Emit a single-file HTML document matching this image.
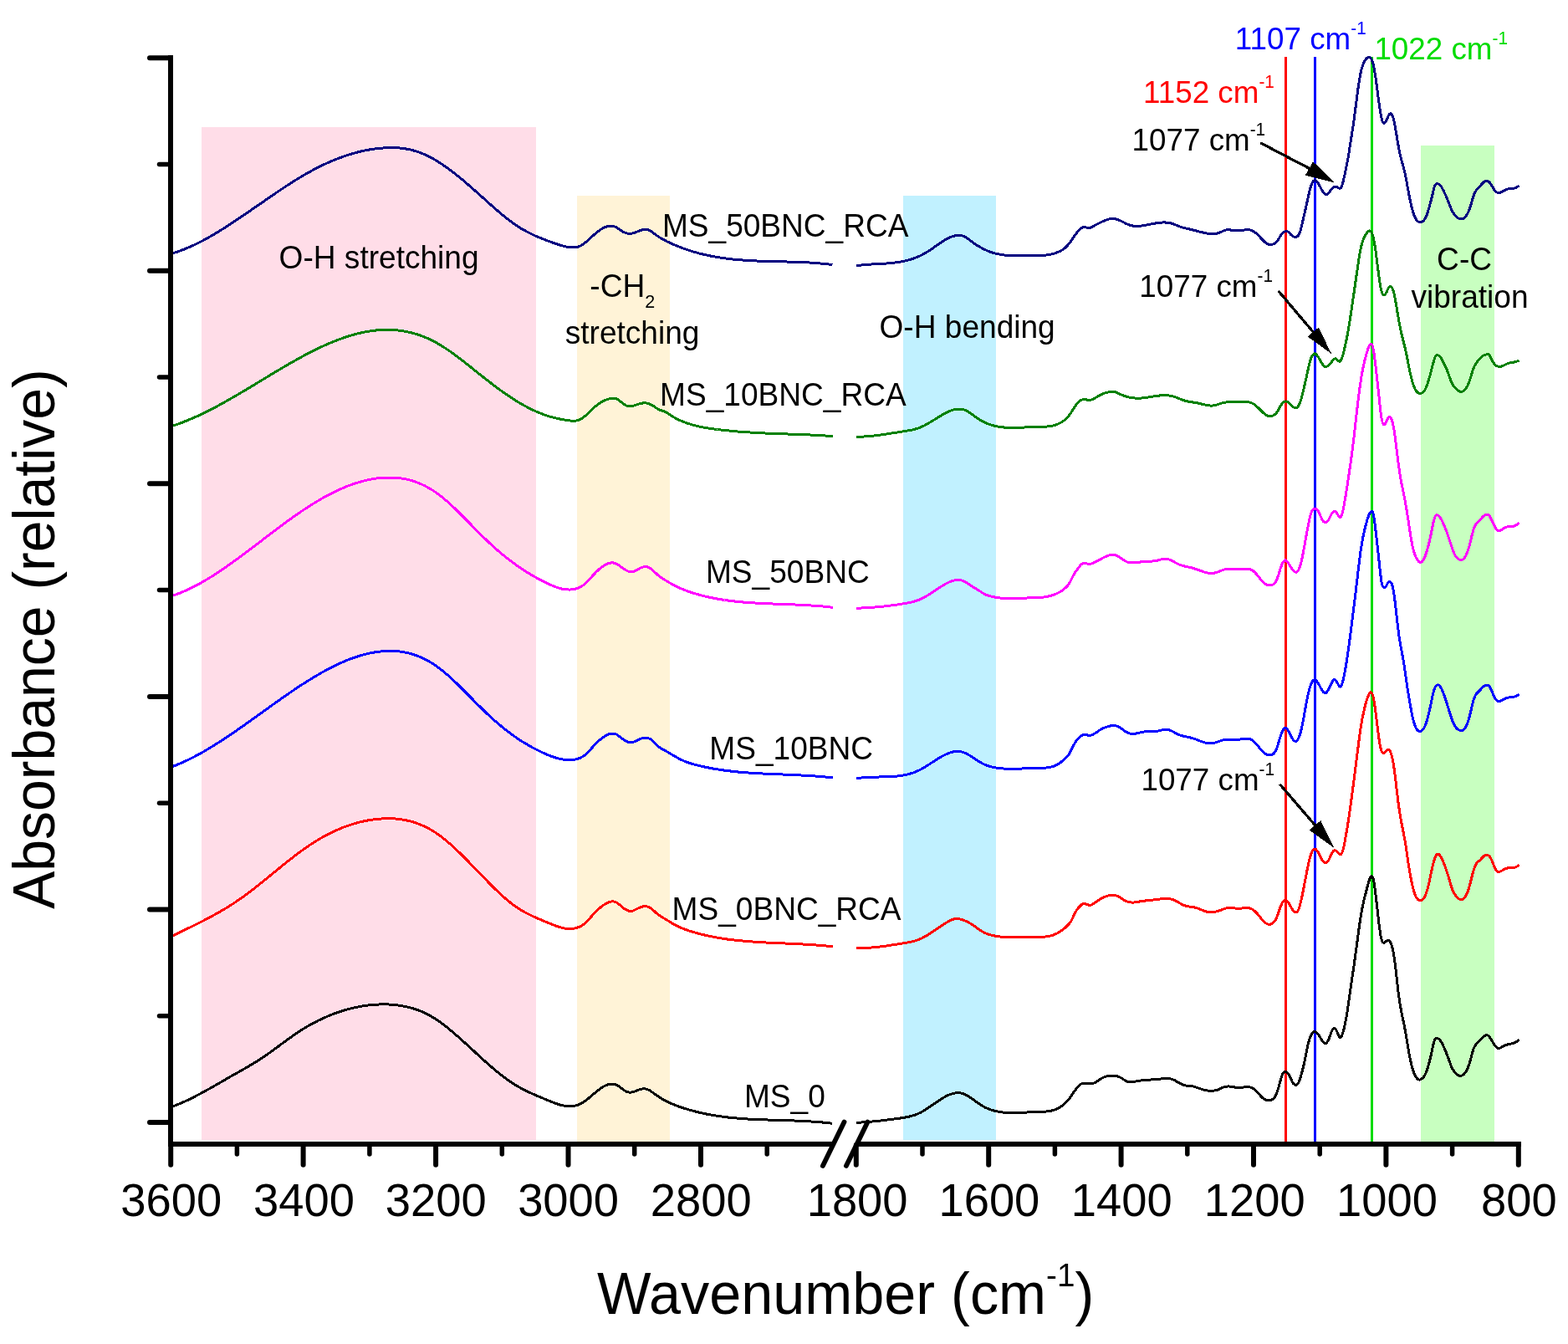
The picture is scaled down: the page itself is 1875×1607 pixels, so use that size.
<!DOCTYPE html>
<html lang="en"><head><meta charset="utf-8"><title>FTIR absorbance spectra</title>
<style>html,body{margin:0;padding:0;background:#fff}svg{display:block}text{font-family:'Liberation Sans', Arial, Helvetica, sans-serif;white-space:pre}</style></head><body>
<svg width="1875" height="1607" viewBox="0 0 1875 1607">
<rect width="1875" height="1607" fill="#ffffff"/>
<g shape-rendering="crispEdges">
<rect x="241" y="152" width="400" height="1211" fill="#ffdde8"/>
<rect x="690" y="234" width="111" height="1131" fill="#fff3d7"/>
<rect x="1080" y="234" width="111" height="1129" fill="#c1f1ff"/>
<rect x="1699" y="174" width="88" height="1191" fill="#c8ffc0"/>
</g>
<g shape-rendering="crispEdges">
<rect x="1536" y="68" width="3" height="1298" fill="#ff0000"/>
<rect x="1571" y="68" width="3" height="1298" fill="#0000ff"/>
<rect x="1639" y="68" width="3" height="1298" fill="#00dc00"/>
</g>
<g fill="none" stroke-width="3" stroke-linejoin="round" stroke-linecap="butt" shape-rendering="crispEdges">
<path stroke="#000000" d="M207.0 1322.9C208.0 1322.5 209.0 1322.1 210.0 1321.7C211.0 1321.3 212.0 1320.9 213.0 1320.5C214.0 1320.1 215.0 1319.7 216.0 1319.2C217.0 1318.8 218.0 1318.4 219.0 1317.9C220.0 1317.5 221.0 1317.0 222.0 1316.5C223.0 1316.1 224.0 1315.6 225.0 1315.1C226.0 1314.6 227.0 1314.1 228.0 1313.6C229.0 1313.2 230.0 1312.7 231.0 1312.1C232.0 1311.6 233.0 1311.1 234.0 1310.6C235.0 1310.1 236.0 1309.6 237.0 1309.0C238.0 1308.5 239.0 1308.0 240.0 1307.4C241.0 1306.9 242.0 1306.4 243.0 1305.8C244.0 1305.3 245.0 1304.7 246.0 1304.2C247.0 1303.6 248.0 1303.1 249.0 1302.5C250.0 1302.0 251.0 1301.4 252.0 1300.8C253.0 1300.3 254.0 1299.7 255.0 1299.1C256.0 1298.6 257.0 1298.0 258.0 1297.4C259.0 1296.9 260.0 1296.3 261.0 1295.7C262.0 1295.1 263.0 1294.6 264.0 1294.0C265.0 1293.4 266.0 1292.8 267.0 1292.3C268.0 1291.7 269.0 1291.1 270.0 1290.5C271.0 1290.0 272.0 1289.4 272.9 1288.8C273.9 1288.3 274.9 1287.7 275.9 1287.1C276.9 1286.6 277.9 1286.0 278.9 1285.4C279.9 1284.9 280.9 1284.3 281.9 1283.7C282.9 1283.2 283.9 1282.6 284.9 1282.0C285.9 1281.5 286.9 1280.9 287.9 1280.4C288.9 1279.8 289.9 1279.2 290.9 1278.6C291.9 1278.1 292.9 1277.5 293.9 1276.9C294.9 1276.4 295.9 1275.8 296.9 1275.2C297.9 1274.6 298.9 1274.0 299.9 1273.4C300.9 1272.8 301.9 1272.2 302.9 1271.6C303.9 1271.0 304.9 1270.4 305.9 1269.8C306.9 1269.2 307.9 1268.5 308.9 1267.9C309.9 1267.3 310.9 1266.6 311.9 1266.0C312.9 1265.3 313.9 1264.6 314.9 1264.0C315.9 1263.3 316.9 1262.6 317.9 1261.9C318.9 1261.2 319.9 1260.5 320.9 1259.8C321.9 1259.1 322.9 1258.4 323.9 1257.7C324.9 1256.9 325.9 1256.2 326.9 1255.5C327.9 1254.8 328.9 1254.0 329.9 1253.3C330.9 1252.5 331.9 1251.8 332.9 1251.1C333.9 1250.3 334.9 1249.6 335.9 1248.8C336.9 1248.1 337.9 1247.3 338.9 1246.6C339.9 1245.9 340.9 1245.1 341.9 1244.4C342.9 1243.7 343.9 1242.9 344.9 1242.2C345.9 1241.5 346.9 1240.8 347.9 1240.1C348.9 1239.4 349.9 1238.7 350.9 1238.0C351.9 1237.3 352.9 1236.6 353.9 1235.9C354.9 1235.2 355.9 1234.6 356.9 1233.9C357.9 1233.3 358.9 1232.6 359.9 1232.0C360.9 1231.3 361.9 1230.7 362.9 1230.1C363.9 1229.5 364.9 1228.9 365.9 1228.3C366.9 1227.7 367.9 1227.1 368.9 1226.5C369.9 1226.0 370.9 1225.4 371.9 1224.9C372.9 1224.3 373.9 1223.8 374.9 1223.2C375.9 1222.7 376.9 1222.2 377.9 1221.7C378.9 1221.1 379.9 1220.6 380.9 1220.1C381.9 1219.7 382.9 1219.2 383.9 1218.7C384.9 1218.2 385.9 1217.8 386.9 1217.3C387.9 1216.8 388.9 1216.4 389.9 1216.0C390.9 1215.5 391.9 1215.1 392.9 1214.7C393.9 1214.3 394.9 1213.9 395.9 1213.5C396.9 1213.1 397.9 1212.7 398.9 1212.3C399.9 1211.9 400.9 1211.6 401.9 1211.2C402.9 1210.8 403.9 1210.5 404.8 1210.2C405.8 1209.8 406.8 1209.5 407.8 1209.2C408.8 1208.8 409.8 1208.5 410.8 1208.2C411.8 1207.9 412.8 1207.6 413.8 1207.4C414.8 1207.1 415.8 1206.8 416.8 1206.5C417.8 1206.3 418.8 1206.0 419.8 1205.8C420.8 1205.5 421.8 1205.3 422.8 1205.1C423.8 1204.8 424.8 1204.6 425.8 1204.4C426.8 1204.2 427.8 1204.0 428.8 1203.8C429.8 1203.6 430.8 1203.4 431.8 1203.2C432.8 1203.1 433.8 1202.9 434.8 1202.8C435.8 1202.6 436.8 1202.5 437.8 1202.3C438.8 1202.2 439.8 1202.1 440.8 1201.9C441.8 1201.8 442.8 1201.7 443.8 1201.6C444.8 1201.5 445.8 1201.4 446.8 1201.4C447.8 1201.3 448.8 1201.2 449.8 1201.2C450.8 1201.1 451.8 1201.1 452.8 1201.0C453.8 1201.0 454.8 1200.9 455.8 1200.9C456.8 1200.9 457.8 1200.9 458.8 1200.9C459.8 1200.9 460.8 1200.9 461.8 1200.9C462.8 1201.0 463.8 1201.0 464.8 1201.0C465.8 1201.1 466.8 1201.1 467.8 1201.2C468.8 1201.3 469.8 1201.3 470.8 1201.4C471.8 1201.5 472.8 1201.6 473.8 1201.7C474.8 1201.8 475.8 1202.0 476.8 1202.1C477.8 1202.2 478.8 1202.4 479.8 1202.5C480.8 1202.7 481.8 1202.9 482.8 1203.1C483.8 1203.3 484.8 1203.5 485.8 1203.7C486.8 1203.9 487.8 1204.1 488.8 1204.4C489.8 1204.6 490.8 1204.9 491.8 1205.2C492.8 1205.5 493.8 1205.8 494.8 1206.1C495.8 1206.4 496.8 1206.7 497.8 1207.1C498.8 1207.4 499.8 1207.8 500.8 1208.2C501.8 1208.6 502.8 1209.0 503.8 1209.4C504.8 1209.8 505.8 1210.2 506.8 1210.7C507.8 1211.2 508.8 1211.6 509.8 1212.1C510.8 1212.6 511.8 1213.2 512.8 1213.7C513.8 1214.2 514.8 1214.8 515.8 1215.4C516.8 1216.0 517.8 1216.6 518.8 1217.2C519.8 1217.8 520.8 1218.4 521.8 1219.1C522.8 1219.8 523.8 1220.4 524.8 1221.1C525.8 1221.8 526.8 1222.5 527.8 1223.3C528.8 1224.0 529.8 1224.7 530.8 1225.5C531.8 1226.2 532.8 1227.0 533.8 1227.8C534.8 1228.6 535.7 1229.4 536.7 1230.2C537.7 1231.0 538.7 1231.8 539.7 1232.7C540.7 1233.5 541.7 1234.3 542.7 1235.2C543.7 1236.0 544.7 1236.9 545.7 1237.8C546.7 1238.6 547.7 1239.5 548.7 1240.4C549.7 1241.3 550.7 1242.2 551.7 1243.1C552.7 1244.0 553.7 1244.9 554.7 1245.8C555.7 1246.7 556.7 1247.6 557.7 1248.5C558.7 1249.4 559.7 1250.4 560.7 1251.3C561.7 1252.2 562.7 1253.1 563.7 1254.0C564.7 1255.0 565.7 1255.9 566.7 1256.8C567.7 1257.7 568.7 1258.6 569.7 1259.6C570.7 1260.5 571.7 1261.4 572.7 1262.3C573.7 1263.2 574.7 1264.2 575.7 1265.1C576.7 1266.0 577.7 1266.9 578.7 1267.8C579.7 1268.7 580.7 1269.6 581.7 1270.5C582.7 1271.3 583.7 1272.2 584.7 1273.1C585.7 1274.0 586.7 1274.9 587.7 1275.7C588.7 1276.6 589.7 1277.4 590.7 1278.3C591.7 1279.1 592.7 1280.0 593.7 1280.8C594.7 1281.6 595.7 1282.4 596.7 1283.2C597.7 1284.0 598.7 1284.8 599.7 1285.6C600.7 1286.4 601.7 1287.2 602.7 1287.9C603.7 1288.7 604.7 1289.4 605.7 1290.1C606.7 1290.9 607.7 1291.6 608.7 1292.3C609.7 1293.0 610.7 1293.7 611.7 1294.3C612.7 1295.0 613.7 1295.6 614.7 1296.3C615.7 1296.9 616.7 1297.5 617.7 1298.1C618.7 1298.7 619.7 1299.3 620.7 1299.9C621.7 1300.4 622.7 1301.0 623.7 1301.5C624.7 1302.1 625.7 1302.6 626.7 1303.1C627.7 1303.6 628.7 1304.1 629.7 1304.6C630.7 1305.1 631.7 1305.6 632.7 1306.0C633.7 1306.5 634.7 1306.9 635.7 1307.4C636.7 1307.8 637.7 1308.3 638.7 1308.7C639.7 1309.2 640.7 1309.6 641.7 1310.0C642.7 1310.5 643.7 1310.9 644.7 1311.3C645.7 1311.7 646.7 1312.1 647.7 1312.5C648.7 1313.0 649.7 1313.4 650.7 1313.8C651.7 1314.2 652.7 1314.6 653.7 1315.0C654.7 1315.4 655.7 1315.8 656.7 1316.3C657.7 1316.7 658.7 1317.1 659.7 1317.5C660.7 1317.9 661.7 1318.3 662.7 1318.7C663.7 1319.0 664.7 1319.4 665.7 1319.7C666.7 1320.1 667.6 1320.4 668.6 1320.7C669.6 1321.0 670.6 1321.3 671.6 1321.5C672.6 1321.8 673.6 1322.0 674.6 1322.2C675.6 1322.4 676.6 1322.5 677.6 1322.6C678.6 1322.7 679.6 1322.8 680.6 1322.8C681.6 1322.8 682.6 1322.8 683.6 1322.7C684.6 1322.7 685.6 1322.5 686.6 1322.4C687.6 1322.2 688.6 1321.9 689.6 1321.6C690.6 1321.3 691.6 1321.0 692.6 1320.5C693.6 1320.1 694.6 1319.6 695.6 1319.1C696.6 1318.5 697.6 1317.9 698.6 1317.2C699.6 1316.5 700.6 1315.7 701.6 1315.0C702.6 1314.2 703.6 1313.4 704.6 1312.5C705.6 1311.7 706.6 1310.9 707.6 1310.0C708.6 1309.1 709.6 1308.3 710.6 1307.4C711.6 1306.6 712.6 1305.7 713.6 1304.9C714.6 1304.1 715.6 1303.3 716.6 1302.6C717.6 1301.8 718.6 1301.1 719.6 1300.5C720.6 1299.8 721.6 1299.2 722.6 1298.7C723.6 1298.2 724.6 1297.7 725.6 1297.4C726.6 1297.0 727.6 1296.7 728.6 1296.5C729.6 1296.3 730.6 1296.2 731.6 1296.1C732.6 1296.1 733.6 1296.2 734.6 1296.4C735.6 1296.6 736.6 1297.0 737.6 1297.5C738.6 1298.0 739.6 1298.6 740.6 1299.4C741.6 1300.1 742.6 1300.9 743.6 1301.6C744.6 1302.4 745.6 1303.2 746.6 1303.8C747.6 1304.5 748.6 1305.0 749.6 1305.4C750.6 1305.8 751.6 1306.0 752.6 1306.1C753.6 1306.2 754.6 1306.1 755.6 1305.9C756.6 1305.8 757.6 1305.4 758.6 1305.1C759.6 1304.7 760.6 1304.3 761.6 1303.9C762.6 1303.5 763.6 1303.1 764.6 1302.8C765.6 1302.5 766.6 1302.3 767.6 1302.1C768.6 1301.9 769.6 1301.8 770.6 1301.9C771.6 1301.9 772.6 1302.1 773.6 1302.4C774.6 1302.7 775.6 1303.2 776.6 1303.7C777.6 1304.3 778.6 1305.0 779.6 1305.7C780.6 1306.4 781.6 1307.2 782.6 1307.9C783.6 1308.6 784.6 1309.3 785.6 1310.0C786.6 1310.7 787.6 1311.4 788.6 1312.1C789.6 1312.7 790.6 1313.3 791.6 1313.9C792.6 1314.5 793.6 1315.0 794.6 1315.6C795.6 1316.1 796.6 1316.6 797.6 1317.1C798.5 1317.6 799.5 1318.0 800.5 1318.5C801.5 1318.9 802.5 1319.4 803.5 1319.8C804.5 1320.2 805.5 1320.6 806.5 1321.0C807.5 1321.4 808.5 1321.8 809.5 1322.2C810.5 1322.6 811.5 1322.9 812.5 1323.3C813.5 1323.6 814.5 1324.0 815.5 1324.3C816.5 1324.6 817.5 1325.0 818.5 1325.3C819.5 1325.6 820.5 1325.9 821.5 1326.2C822.5 1326.5 823.5 1326.8 824.5 1327.1C825.5 1327.4 826.5 1327.7 827.5 1327.9C828.5 1328.2 829.5 1328.5 830.5 1328.8C831.5 1329.0 832.5 1329.3 833.5 1329.5C834.5 1329.8 835.5 1330.0 836.5 1330.2C837.5 1330.5 838.5 1330.7 839.5 1330.9C840.5 1331.1 841.5 1331.4 842.5 1331.6C843.5 1331.8 844.5 1332.0 845.5 1332.2C846.5 1332.4 847.5 1332.6 848.5 1332.7C849.5 1332.9 850.5 1333.1 851.5 1333.3C852.5 1333.5 853.5 1333.6 854.5 1333.8C855.5 1334.0 856.5 1334.1 857.5 1334.3C858.5 1334.4 859.5 1334.6 860.5 1334.7C861.5 1334.9 862.5 1335.0 863.5 1335.1C864.5 1335.3 865.5 1335.4 866.5 1335.5C867.5 1335.6 868.5 1335.8 869.5 1335.9C870.5 1336.0 871.5 1336.1 872.5 1336.2C873.5 1336.3 874.5 1336.4 875.5 1336.5C876.5 1336.6 877.5 1336.7 878.5 1336.8C879.5 1336.9 880.5 1337.0 881.5 1337.1C882.5 1337.2 883.5 1337.3 884.5 1337.3C885.5 1337.4 886.5 1337.5 887.5 1337.6C888.5 1337.6 889.5 1337.7 890.5 1337.8C891.5 1337.8 892.5 1337.9 893.5 1338.0C894.5 1338.0 895.5 1338.1 896.5 1338.1C897.5 1338.2 898.5 1338.3 899.5 1338.3C900.5 1338.4 901.5 1338.4 902.5 1338.5C903.5 1338.5 904.5 1338.6 905.5 1338.6C906.5 1338.6 907.5 1338.7 908.5 1338.7C909.5 1338.8 910.5 1338.8 911.5 1338.8C912.5 1338.9 913.5 1338.9 914.5 1338.9C915.5 1339.0 916.5 1339.0 917.5 1339.0C918.5 1339.1 919.5 1339.1 920.5 1339.1C921.5 1339.2 922.5 1339.2 923.5 1339.2C924.5 1339.3 925.5 1339.3 926.5 1339.3C927.5 1339.4 928.5 1339.4 929.5 1339.4C930.4 1339.4 931.4 1339.5 932.4 1339.5C933.4 1339.5 934.4 1339.6 935.4 1339.6C936.4 1339.6 937.4 1339.6 938.4 1339.7C939.4 1339.7 940.4 1339.7 941.4 1339.8C942.4 1339.8 943.4 1339.8 944.4 1339.8C945.4 1339.9 946.4 1339.9 947.4 1339.9C948.4 1340.0 949.4 1340.0 950.4 1340.0C951.4 1340.1 952.4 1340.1 953.4 1340.2C954.4 1340.2 955.4 1340.2 956.4 1340.3C957.4 1340.3 958.4 1340.4 959.4 1340.4C960.4 1340.5 961.4 1340.5 962.4 1340.6C963.4 1340.6 964.4 1340.7 965.4 1340.7C966.4 1340.8 967.4 1340.8 968.4 1340.9C969.4 1340.9 970.4 1341.0 971.4 1341.1C972.4 1341.1 973.4 1341.2 974.4 1341.3C975.4 1341.3 976.4 1341.4 977.4 1341.5C978.4 1341.5 979.4 1341.6 980.4 1341.7C981.4 1341.8 982.4 1341.9 983.4 1342.0C984.4 1342.0 985.4 1342.1 986.4 1342.2C987.4 1342.3 988.4 1342.4 989.4 1342.5C990.4 1342.6 991.4 1342.7 992.4 1342.9C993.4 1343.0 994.4 1343.1 995.4 1343.2"/>
<path stroke="#000000" d="M1024.1 1342.2C1025.1 1342.2 1026.1 1342.1 1027.1 1342.1C1028.1 1342.1 1029.1 1342.0 1030.1 1342.0C1031.1 1341.9 1032.1 1341.8 1033.1 1341.8C1034.1 1341.7 1035.1 1341.6 1036.1 1341.6C1037.1 1341.5 1038.1 1341.4 1039.1 1341.3C1040.1 1341.3 1041.1 1341.2 1042.1 1341.1C1043.1 1341.0 1044.1 1340.9 1045.1 1340.8C1046.1 1340.7 1047.1 1340.6 1048.1 1340.5C1049.1 1340.4 1050.1 1340.3 1051.1 1340.2C1052.1 1340.1 1053.1 1340.0 1054.1 1339.9C1055.1 1339.7 1056.1 1339.6 1057.1 1339.5C1058.1 1339.4 1059.1 1339.3 1060.1 1339.2C1061.1 1339.0 1062.1 1338.9 1063.1 1338.8C1064.1 1338.6 1065.1 1338.5 1066.1 1338.4C1067.1 1338.3 1068.1 1338.1 1069.1 1338.0C1070.1 1337.9 1071.1 1337.7 1072.1 1337.6C1073.1 1337.5 1074.1 1337.3 1075.1 1337.2C1076.1 1337.1 1077.1 1336.9 1078.1 1336.8C1079.1 1336.6 1080.1 1336.5 1081.1 1336.3C1082.1 1336.1 1083.1 1335.9 1084.1 1335.7C1085.1 1335.5 1086.1 1335.3 1087.1 1335.1C1088.1 1334.9 1089.1 1334.6 1090.1 1334.3C1091.2 1334.0 1092.2 1333.7 1093.2 1333.4C1094.2 1333.1 1095.2 1332.7 1096.2 1332.3C1097.2 1331.9 1098.2 1331.5 1099.2 1331.0C1100.2 1330.5 1101.2 1330.0 1102.2 1329.5C1103.2 1328.9 1104.2 1328.3 1105.2 1327.7C1106.2 1327.1 1107.2 1326.5 1108.2 1325.8C1109.2 1325.2 1110.2 1324.5 1111.2 1323.8C1112.2 1323.2 1113.2 1322.5 1114.2 1321.8C1115.2 1321.1 1116.2 1320.4 1117.2 1319.7C1118.2 1319.0 1119.2 1318.3 1120.2 1317.6C1121.2 1316.9 1122.2 1316.2 1123.2 1315.6C1124.2 1314.9 1125.2 1314.3 1126.2 1313.6C1127.2 1313.0 1128.2 1312.4 1129.2 1311.9C1130.2 1311.3 1131.2 1310.8 1132.2 1310.3C1133.2 1309.8 1134.2 1309.3 1135.2 1308.9C1136.2 1308.5 1137.2 1308.2 1138.2 1307.9C1139.2 1307.6 1140.2 1307.3 1141.2 1307.1C1142.2 1307.0 1143.2 1306.8 1144.2 1306.8C1145.2 1306.7 1146.2 1306.7 1147.2 1306.8C1148.2 1306.9 1149.2 1307.1 1150.2 1307.3C1151.2 1307.6 1152.2 1307.9 1153.2 1308.3C1154.2 1308.7 1155.2 1309.2 1156.2 1309.8C1157.2 1310.3 1158.2 1310.9 1159.2 1311.6C1160.2 1312.2 1161.2 1312.9 1162.2 1313.6C1163.2 1314.3 1164.2 1315.0 1165.2 1315.8C1166.2 1316.5 1167.2 1317.2 1168.2 1318.0C1169.2 1318.7 1170.2 1319.4 1171.2 1320.1C1172.2 1320.8 1173.2 1321.4 1174.2 1322.0C1175.2 1322.6 1176.2 1323.2 1177.2 1323.7C1178.2 1324.2 1179.2 1324.7 1180.2 1325.1C1181.2 1325.6 1182.2 1326.0 1183.2 1326.3C1184.2 1326.7 1185.2 1327.0 1186.2 1327.4C1187.2 1327.7 1188.2 1327.9 1189.2 1328.2C1190.2 1328.4 1191.2 1328.7 1192.2 1328.9C1193.2 1329.1 1194.2 1329.3 1195.2 1329.4C1196.2 1329.6 1197.2 1329.7 1198.2 1329.9C1199.2 1330.0 1200.2 1330.1 1201.2 1330.2C1202.2 1330.3 1203.2 1330.4 1204.2 1330.4C1205.2 1330.5 1206.2 1330.5 1207.2 1330.6C1208.2 1330.6 1209.2 1330.6 1210.2 1330.6C1211.2 1330.7 1212.2 1330.7 1213.2 1330.6C1214.2 1330.6 1215.2 1330.6 1216.2 1330.6C1217.2 1330.6 1218.2 1330.5 1219.2 1330.5C1220.2 1330.5 1221.2 1330.4 1222.2 1330.4C1223.3 1330.3 1224.3 1330.3 1225.3 1330.2C1226.3 1330.1 1227.3 1330.1 1228.3 1330.0C1229.3 1330.0 1230.3 1329.9 1231.3 1329.9C1232.3 1329.8 1233.3 1329.7 1234.3 1329.7C1235.3 1329.6 1236.3 1329.6 1237.3 1329.5C1238.3 1329.5 1239.3 1329.5 1240.3 1329.4C1241.3 1329.4 1242.3 1329.4 1243.3 1329.4C1244.3 1329.3 1245.3 1329.3 1246.3 1329.3C1247.3 1329.2 1248.3 1329.2 1249.3 1329.1C1250.3 1329.1 1251.3 1329.0 1252.3 1328.9C1253.3 1328.8 1254.3 1328.6 1255.3 1328.5C1256.3 1328.3 1257.3 1328.1 1258.3 1327.8C1259.3 1327.6 1260.3 1327.3 1261.3 1326.9C1262.3 1326.6 1263.3 1326.1 1264.3 1325.7C1265.3 1325.2 1266.3 1324.7 1267.3 1324.1C1268.3 1323.4 1269.3 1322.8 1270.3 1322.0C1271.3 1321.2 1272.3 1320.4 1273.3 1319.5C1274.3 1318.5 1275.3 1317.5 1276.3 1316.4C1277.3 1315.2 1278.3 1314.0 1279.3 1312.7C1280.3 1311.3 1281.3 1309.9 1282.3 1308.4C1283.3 1307.0 1284.3 1305.5 1285.3 1304.1C1286.3 1302.7 1287.3 1301.3 1288.3 1300.1C1289.3 1298.9 1290.3 1297.9 1291.3 1297.1C1292.3 1296.3 1293.3 1295.8 1294.3 1295.7C1295.3 1295.5 1296.3 1295.6 1297.3 1295.6C1298.3 1295.7 1299.3 1295.8 1300.3 1295.9C1301.3 1296.0 1302.3 1296.0 1303.3 1296.0C1304.3 1296.0 1305.3 1295.9 1306.3 1295.6C1307.3 1295.4 1308.3 1295.0 1309.3 1294.5C1310.3 1294.0 1311.3 1293.3 1312.3 1292.6C1313.3 1291.9 1314.3 1291.2 1315.3 1290.6C1316.3 1289.9 1317.3 1289.4 1318.3 1288.9C1319.3 1288.4 1320.3 1287.9 1321.3 1287.6C1322.3 1287.2 1323.3 1286.9 1324.3 1286.6C1325.3 1286.4 1326.3 1286.2 1327.3 1286.1C1328.3 1286.0 1329.3 1286.0 1330.3 1286.0C1331.3 1286.0 1332.3 1286.1 1333.3 1286.2C1334.3 1286.4 1335.3 1286.6 1336.3 1286.9C1337.3 1287.2 1338.3 1287.6 1339.3 1288.1C1340.3 1288.6 1341.3 1289.1 1342.3 1289.8C1343.3 1290.5 1344.3 1291.2 1345.3 1291.9C1346.3 1292.6 1347.3 1293.1 1348.3 1293.5C1349.3 1293.9 1350.3 1294.0 1351.3 1294.0C1352.3 1294.0 1353.3 1293.9 1354.3 1293.7C1355.4 1293.5 1356.4 1293.3 1357.4 1293.1C1358.4 1292.9 1359.4 1292.7 1360.4 1292.5C1361.4 1292.4 1362.4 1292.2 1363.4 1292.1C1364.4 1292.0 1365.4 1291.8 1366.4 1291.7C1367.4 1291.7 1368.4 1291.6 1369.4 1291.5C1370.4 1291.4 1371.4 1291.3 1372.4 1291.3C1373.4 1291.2 1374.4 1291.1 1375.4 1291.1C1376.4 1291.0 1377.4 1290.9 1378.4 1290.9C1379.4 1290.8 1380.4 1290.7 1381.4 1290.7C1382.4 1290.6 1383.4 1290.5 1384.4 1290.4C1385.4 1290.3 1386.4 1290.2 1387.4 1290.1C1388.4 1290.0 1389.4 1289.8 1390.4 1289.7C1391.4 1289.6 1392.4 1289.5 1393.4 1289.5C1394.4 1289.4 1395.4 1289.4 1396.4 1289.4C1397.4 1289.5 1398.4 1289.6 1399.4 1289.8C1400.4 1290.0 1401.4 1290.3 1402.4 1290.7C1403.4 1291.1 1404.4 1291.6 1405.4 1292.1C1406.4 1292.7 1407.4 1293.3 1408.4 1293.9C1409.4 1294.5 1410.4 1295.1 1411.4 1295.6C1412.4 1296.2 1413.4 1296.7 1414.4 1297.0C1415.4 1297.4 1416.4 1297.7 1417.4 1297.9C1418.4 1298.1 1419.4 1298.1 1420.4 1298.2C1421.4 1298.2 1422.4 1298.3 1423.4 1298.4C1424.4 1298.5 1425.4 1298.6 1426.4 1298.8C1427.4 1299.1 1428.4 1299.4 1429.4 1299.7C1430.4 1300.1 1431.4 1300.5 1432.4 1300.8C1433.4 1301.2 1434.4 1301.6 1435.4 1301.9C1436.4 1302.2 1437.4 1302.5 1438.4 1302.8C1439.4 1303.1 1440.4 1303.3 1441.4 1303.6C1442.4 1303.8 1443.4 1303.9 1444.4 1304.1C1445.4 1304.2 1446.4 1304.3 1447.4 1304.3C1448.4 1304.4 1449.4 1304.3 1450.4 1304.3C1451.4 1304.2 1452.4 1304.0 1453.4 1303.8C1454.4 1303.6 1455.4 1303.3 1456.4 1303.0C1457.4 1302.6 1458.4 1302.2 1459.4 1301.7C1460.4 1301.2 1461.4 1300.7 1462.4 1300.3C1463.4 1299.9 1464.4 1299.6 1465.4 1299.3C1466.4 1299.1 1467.4 1299.0 1468.4 1299.0C1469.4 1298.9 1470.4 1299.0 1471.4 1299.1C1472.4 1299.2 1473.4 1299.4 1474.4 1299.6C1475.4 1299.8 1476.4 1300.0 1477.4 1300.2C1478.4 1300.4 1479.4 1300.5 1480.4 1300.6C1481.4 1300.7 1482.4 1300.7 1483.4 1300.6C1484.4 1300.5 1485.4 1300.3 1486.5 1300.1C1487.5 1299.9 1488.5 1299.6 1489.5 1299.5C1490.5 1299.4 1491.5 1299.3 1492.5 1299.4C1493.5 1299.5 1494.5 1299.7 1495.5 1300.1C1496.5 1300.5 1497.5 1301.0 1498.5 1301.6C1499.5 1302.3 1500.5 1303.0 1501.5 1304.0C1502.5 1304.9 1503.5 1306.0 1504.5 1307.1C1505.5 1308.2 1506.5 1309.4 1507.5 1310.4C1508.5 1311.5 1509.5 1312.5 1510.5 1313.3C1511.5 1314.1 1512.5 1314.6 1513.5 1315.0C1514.5 1315.3 1515.5 1315.4 1516.5 1315.5C1517.5 1315.5 1518.5 1315.5 1519.5 1315.3C1520.5 1315.1 1521.5 1314.7 1522.5 1313.8C1523.5 1312.9 1524.5 1311.6 1525.5 1309.7C1526.5 1307.7 1527.5 1305.0 1528.5 1301.7C1529.5 1298.5 1530.5 1294.5 1531.5 1290.8C1532.5 1287.1 1533.5 1284.2 1534.5 1282.8C1535.5 1281.4 1536.5 1281.2 1537.5 1281.4C1538.5 1281.6 1539.5 1282.3 1540.5 1283.7C1541.5 1285.1 1542.5 1287.4 1543.5 1289.6C1544.5 1291.9 1545.5 1294.1 1546.5 1295.4C1547.5 1296.6 1548.5 1297.2 1549.5 1297.4C1550.5 1297.5 1551.5 1297.0 1552.5 1295.2C1553.5 1293.5 1554.5 1290.3 1555.5 1286.9C1556.5 1283.5 1557.5 1279.8 1558.5 1275.6C1559.5 1271.4 1560.5 1266.5 1561.5 1261.5C1562.5 1256.4 1563.5 1251.3 1564.5 1247.2C1565.5 1243.2 1566.5 1240.2 1567.5 1238.1C1568.5 1235.9 1569.5 1234.7 1570.5 1234.0C1571.5 1233.4 1572.5 1233.5 1573.5 1234.0C1574.5 1234.6 1575.5 1235.6 1576.5 1237.0C1577.5 1238.4 1578.5 1240.2 1579.5 1241.9C1580.5 1243.6 1581.5 1245.2 1582.5 1246.3C1583.5 1247.4 1584.5 1247.9 1585.5 1247.5C1586.5 1247.1 1587.5 1245.8 1588.5 1243.6C1589.5 1241.5 1590.5 1238.3 1591.5 1235.5C1592.5 1232.7 1593.5 1230.5 1594.5 1229.7C1595.5 1228.9 1596.5 1229.5 1597.5 1231.1C1598.5 1232.7 1599.5 1235.3 1600.5 1237.5C1601.5 1239.8 1602.5 1241.3 1603.5 1240.2C1604.5 1239.1 1605.5 1236.1 1606.5 1232.5C1607.5 1228.8 1608.5 1224.2 1609.5 1218.7C1610.5 1213.2 1611.5 1206.8 1612.5 1200.0C1613.5 1193.2 1614.5 1186.0 1615.5 1178.9C1616.5 1171.7 1617.5 1164.8 1618.6 1157.7C1619.6 1150.6 1620.6 1143.4 1621.6 1136.0C1622.6 1128.6 1623.6 1121.0 1624.6 1113.6C1625.6 1106.2 1626.6 1099.2 1627.6 1093.2C1628.6 1087.3 1629.6 1082.4 1630.6 1078.0C1631.6 1073.7 1632.6 1069.8 1633.6 1066.1C1634.6 1062.3 1635.6 1058.3 1636.6 1054.9C1637.6 1051.4 1638.6 1048.7 1639.6 1047.8C1640.6 1047.0 1641.6 1048.1 1642.6 1052.8C1643.6 1057.5 1644.6 1066.1 1645.6 1074.8C1646.6 1083.4 1647.6 1092.6 1648.6 1101.3C1649.6 1109.9 1650.6 1117.3 1651.6 1121.6C1652.6 1125.8 1653.6 1127.3 1654.6 1127.4C1655.6 1127.5 1656.6 1126.4 1657.6 1125.5C1658.6 1124.6 1659.6 1124.0 1660.6 1124.3C1661.6 1124.6 1662.6 1125.8 1663.6 1128.6C1664.6 1131.4 1665.6 1135.7 1666.6 1141.6C1667.6 1147.4 1668.6 1155.0 1669.6 1164.0C1670.6 1173.0 1671.6 1183.0 1672.6 1190.5C1673.6 1198.0 1674.6 1203.8 1675.6 1208.8C1676.6 1213.9 1677.6 1218.3 1678.6 1223.2C1679.6 1228.0 1680.6 1233.4 1681.6 1239.5C1682.6 1245.6 1683.6 1252.1 1684.6 1257.6C1685.6 1263.1 1686.6 1268.0 1687.6 1272.2C1688.6 1276.4 1689.6 1279.8 1690.6 1282.4C1691.6 1285.1 1692.6 1287.1 1693.6 1288.5C1694.6 1289.9 1695.6 1290.7 1696.6 1290.9C1697.6 1291.2 1698.6 1291.0 1699.6 1290.3C1700.6 1289.7 1701.6 1288.8 1702.6 1287.4C1703.6 1286.1 1704.6 1284.2 1705.6 1281.5C1706.6 1278.9 1707.6 1275.7 1708.6 1272.0C1709.6 1268.3 1710.6 1264.3 1711.6 1259.9C1712.6 1255.6 1713.6 1249.9 1714.6 1246.3C1715.6 1242.6 1716.6 1241.7 1717.6 1241.5C1718.6 1241.3 1719.6 1241.6 1720.6 1242.3C1721.6 1243.1 1722.6 1244.4 1723.6 1246.1C1724.6 1247.8 1725.6 1249.9 1726.6 1252.1C1727.6 1254.3 1728.6 1256.6 1729.6 1259.2C1730.6 1261.7 1731.6 1264.3 1732.6 1267.1C1733.6 1269.9 1734.6 1273.0 1735.6 1275.4C1736.6 1277.8 1737.6 1279.5 1738.6 1280.8C1739.6 1282.1 1740.6 1283.2 1741.6 1284.1C1742.6 1285.0 1743.6 1285.7 1744.6 1286.0C1745.6 1286.4 1746.6 1286.5 1747.6 1286.2C1748.6 1285.9 1749.6 1285.3 1750.7 1284.3C1751.7 1283.3 1752.7 1281.9 1753.7 1280.0C1754.7 1278.1 1755.7 1275.8 1756.7 1272.9C1757.7 1269.9 1758.7 1266.3 1759.7 1262.3C1760.7 1258.4 1761.7 1254.7 1762.7 1252.5C1763.7 1250.3 1764.7 1249.0 1765.7 1247.8C1766.7 1246.5 1767.7 1245.5 1768.7 1244.6C1769.7 1243.6 1770.7 1242.8 1771.7 1241.9C1772.7 1241.1 1773.7 1240.1 1774.7 1239.2C1775.7 1238.3 1776.7 1237.6 1777.7 1237.6C1778.7 1237.6 1779.7 1238.3 1780.7 1239.5C1781.7 1240.7 1782.7 1242.2 1783.7 1243.9C1784.7 1245.5 1785.7 1247.3 1786.7 1248.8C1787.7 1250.4 1788.7 1251.7 1789.7 1252.5C1790.7 1253.4 1791.7 1253.6 1792.7 1253.4C1793.7 1253.3 1794.7 1252.7 1795.7 1252.1C1796.7 1251.5 1797.7 1250.8 1798.7 1250.3C1799.7 1249.8 1800.7 1249.5 1801.7 1249.2C1802.7 1248.9 1803.7 1248.7 1804.7 1248.5C1805.7 1248.3 1806.7 1248.2 1807.7 1247.9C1808.7 1247.7 1809.7 1247.4 1810.7 1247.0C1811.7 1246.6 1812.7 1246.1 1813.7 1245.5C1814.7 1244.8 1815.7 1243.9 1816.7 1242.8"/>
<path stroke="#ff0000" d="M205.3 1119.7C206.3 1119.2 207.3 1118.7 208.3 1118.2C209.3 1117.7 210.3 1117.2 211.3 1116.7C212.3 1116.2 213.3 1115.7 214.3 1115.2C215.3 1114.7 216.3 1114.2 217.3 1113.7C218.3 1113.2 219.3 1112.7 220.3 1112.2C221.3 1111.7 222.3 1111.2 223.3 1110.7C224.3 1110.3 225.3 1109.8 226.3 1109.3C227.3 1108.8 228.3 1108.3 229.3 1107.8C230.3 1107.3 231.3 1106.8 232.3 1106.3C233.3 1105.8 234.4 1105.3 235.4 1104.8C236.4 1104.3 237.4 1103.8 238.4 1103.3C239.4 1102.8 240.4 1102.3 241.4 1101.8C242.4 1101.3 243.4 1100.8 244.4 1100.2C245.4 1099.7 246.4 1099.2 247.4 1098.7C248.4 1098.2 249.4 1097.6 250.4 1097.1C251.4 1096.6 252.4 1096.0 253.4 1095.5C254.4 1094.9 255.4 1094.4 256.4 1093.8C257.4 1093.3 258.4 1092.7 259.4 1092.2C260.4 1091.6 261.4 1091.0 262.4 1090.5C263.4 1089.9 264.4 1089.3 265.4 1088.7C266.4 1088.1 267.4 1087.6 268.4 1087.0C269.4 1086.4 270.4 1085.8 271.4 1085.1C272.4 1084.5 273.4 1083.9 274.4 1083.3C275.4 1082.6 276.4 1082.0 277.4 1081.4C278.4 1080.7 279.4 1080.1 280.4 1079.4C281.4 1078.7 282.4 1078.1 283.4 1077.4C284.4 1076.7 285.4 1076.0 286.4 1075.3C287.4 1074.6 288.4 1073.9 289.4 1073.2C290.5 1072.5 291.5 1071.8 292.5 1071.0C293.5 1070.3 294.5 1069.6 295.5 1068.8C296.5 1068.1 297.5 1067.3 298.5 1066.5C299.5 1065.8 300.5 1065.0 301.5 1064.2C302.5 1063.5 303.5 1062.7 304.5 1061.9C305.5 1061.1 306.5 1060.3 307.5 1059.5C308.5 1058.7 309.5 1057.9 310.5 1057.1C311.5 1056.3 312.5 1055.5 313.5 1054.7C314.5 1053.9 315.5 1053.1 316.5 1052.3C317.5 1051.5 318.5 1050.7 319.5 1049.9C320.5 1049.0 321.5 1048.2 322.5 1047.4C323.5 1046.6 324.5 1045.8 325.5 1044.9C326.5 1044.1 327.5 1043.3 328.5 1042.5C329.5 1041.7 330.5 1040.8 331.5 1040.0C332.5 1039.2 333.5 1038.4 334.5 1037.6C335.5 1036.8 336.5 1036.0 337.5 1035.1C338.5 1034.3 339.5 1033.5 340.5 1032.7C341.5 1031.9 342.5 1031.1 343.5 1030.3C344.5 1029.5 345.5 1028.7 346.6 1028.0C347.6 1027.2 348.6 1026.4 349.6 1025.6C350.6 1024.8 351.6 1024.1 352.6 1023.3C353.6 1022.5 354.6 1021.8 355.6 1021.0C356.6 1020.3 357.6 1019.5 358.6 1018.8C359.6 1018.0 360.6 1017.3 361.6 1016.6C362.6 1015.9 363.6 1015.1 364.6 1014.4C365.6 1013.7 366.6 1013.0 367.6 1012.4C368.6 1011.7 369.6 1011.0 370.6 1010.3C371.6 1009.7 372.6 1009.0 373.6 1008.4C374.6 1007.7 375.6 1007.1 376.6 1006.4C377.6 1005.8 378.6 1005.2 379.6 1004.6C380.6 1004.0 381.6 1003.4 382.6 1002.8C383.6 1002.2 384.6 1001.7 385.6 1001.1C386.6 1000.5 387.6 1000.0 388.6 999.4C389.6 998.9 390.6 998.4 391.6 997.9C392.6 997.3 393.6 996.8 394.6 996.3C395.6 995.8 396.6 995.3 397.6 994.9C398.6 994.4 399.6 993.9 400.6 993.4C401.6 993.0 402.6 992.5 403.7 992.1C404.7 991.7 405.7 991.2 406.7 990.8C407.7 990.4 408.7 990.0 409.7 989.6C410.7 989.2 411.7 988.8 412.7 988.5C413.7 988.1 414.7 987.7 415.7 987.4C416.7 987.0 417.7 986.7 418.7 986.4C419.7 986.0 420.7 985.7 421.7 985.4C422.7 985.1 423.7 984.8 424.7 984.5C425.7 984.2 426.7 983.9 427.7 983.7C428.7 983.4 429.7 983.1 430.7 982.9C431.7 982.6 432.7 982.4 433.7 982.2C434.7 982.0 435.7 981.8 436.7 981.6C437.7 981.3 438.7 981.2 439.7 981.0C440.7 980.8 441.7 980.6 442.7 980.5C443.7 980.3 444.7 980.2 445.7 980.0C446.7 979.9 447.7 979.8 448.7 979.6C449.7 979.5 450.7 979.4 451.7 979.3C452.7 979.2 453.7 979.1 454.7 979.1C455.7 979.0 456.7 978.9 457.7 978.9C458.7 978.8 459.8 978.8 460.8 978.8C461.8 978.7 462.8 978.7 463.8 978.7C464.8 978.7 465.8 978.7 466.8 978.7C467.8 978.8 468.8 978.8 469.8 978.8C470.8 978.9 471.8 979.0 472.8 979.0C473.8 979.1 474.8 979.2 475.8 979.3C476.8 979.4 477.8 979.5 478.8 979.7C479.8 979.8 480.8 979.9 481.8 980.1C482.8 980.3 483.8 980.4 484.8 980.6C485.8 980.8 486.8 981.0 487.8 981.3C488.8 981.5 489.8 981.7 490.8 982.0C491.8 982.3 492.8 982.6 493.8 982.8C494.8 983.1 495.8 983.5 496.8 983.8C497.8 984.1 498.8 984.5 499.8 984.9C500.8 985.2 501.8 985.6 502.8 986.0C503.8 986.4 504.8 986.9 505.8 987.3C506.8 987.8 507.8 988.2 508.8 988.7C509.8 989.2 510.8 989.7 511.8 990.3C512.8 990.8 513.8 991.3 514.8 991.9C515.9 992.5 516.9 993.1 517.9 993.7C518.9 994.3 519.9 995.0 520.9 995.6C521.9 996.3 522.9 997.0 523.9 997.7C524.9 998.4 525.9 999.1 526.9 999.9C527.9 1000.6 528.9 1001.4 529.9 1002.2C530.9 1003.0 531.9 1003.8 532.9 1004.6C533.9 1005.4 534.9 1006.3 535.9 1007.1C536.9 1008.0 537.9 1008.9 538.9 1009.7C539.9 1010.6 540.9 1011.5 541.9 1012.4C542.9 1013.4 543.9 1014.3 544.9 1015.2C545.9 1016.2 546.9 1017.1 547.9 1018.1C548.9 1019.0 549.9 1020.0 550.9 1021.0C551.9 1022.0 552.9 1023.0 553.9 1024.0C554.9 1024.9 555.9 1026.0 556.9 1027.0C557.9 1028.0 558.9 1029.0 559.9 1030.0C560.9 1031.0 561.9 1032.1 562.9 1033.1C563.9 1034.1 564.9 1035.2 565.9 1036.2C566.9 1037.2 567.9 1038.3 568.9 1039.3C569.9 1040.4 570.9 1041.4 571.9 1042.5C573.0 1043.5 574.0 1044.5 575.0 1045.6C576.0 1046.6 577.0 1047.7 578.0 1048.7C579.0 1049.7 580.0 1050.8 581.0 1051.8C582.0 1052.8 583.0 1053.9 584.0 1054.9C585.0 1055.9 586.0 1056.9 587.0 1057.9C588.0 1058.9 589.0 1059.9 590.0 1060.9C591.0 1061.9 592.0 1062.9 593.0 1063.9C594.0 1064.8 595.0 1065.8 596.0 1066.7C597.0 1067.7 598.0 1068.6 599.0 1069.6C600.0 1070.5 601.0 1071.4 602.0 1072.3C603.0 1073.2 604.0 1074.0 605.0 1074.9C606.0 1075.8 607.0 1076.6 608.0 1077.4C609.0 1078.2 610.0 1079.0 611.0 1079.8C612.0 1080.6 613.0 1081.4 614.0 1082.1C615.0 1082.8 616.0 1083.5 617.0 1084.2C618.0 1084.9 619.0 1085.6 620.0 1086.2C621.0 1086.9 622.0 1087.5 623.0 1088.1C624.0 1088.7 625.0 1089.3 626.0 1089.9C627.0 1090.4 628.0 1091.0 629.1 1091.5C630.1 1092.0 631.1 1092.6 632.1 1093.1C633.1 1093.6 634.1 1094.1 635.1 1094.6C636.1 1095.0 637.1 1095.5 638.1 1096.0C639.1 1096.4 640.1 1096.9 641.1 1097.3C642.1 1097.8 643.1 1098.2 644.1 1098.6C645.1 1099.1 646.1 1099.5 647.1 1099.9C648.1 1100.3 649.1 1100.8 650.1 1101.2C651.1 1101.6 652.1 1102.0 653.1 1102.4C654.1 1102.9 655.1 1103.3 656.1 1103.7C657.1 1104.1 658.1 1104.5 659.1 1104.9C660.1 1105.3 661.1 1105.7 662.1 1106.1C663.1 1106.5 664.1 1106.9 665.1 1107.2C666.1 1107.6 667.1 1107.9 668.1 1108.2C669.1 1108.6 670.1 1108.8 671.1 1109.1C672.1 1109.4 673.1 1109.6 674.1 1109.8C675.1 1110.0 676.1 1110.1 677.1 1110.3C678.1 1110.4 679.1 1110.5 680.1 1110.5C681.1 1110.6 682.1 1110.6 683.1 1110.5C684.1 1110.4 685.1 1110.3 686.2 1110.2C687.2 1110.0 688.2 1109.8 689.2 1109.5C690.2 1109.2 691.2 1108.9 692.2 1108.5C693.2 1108.1 694.2 1107.6 695.2 1107.0C696.2 1106.4 697.2 1105.8 698.2 1105.0C699.2 1104.2 700.2 1103.4 701.2 1102.4C702.2 1101.5 703.2 1100.4 704.2 1099.3C705.2 1098.1 706.2 1097.0 707.2 1095.8C708.2 1094.7 709.2 1093.5 710.2 1092.5C711.2 1091.4 712.2 1090.4 713.2 1089.4C714.2 1088.4 715.2 1087.4 716.2 1086.6C717.2 1085.7 718.2 1084.8 719.2 1084.0C720.2 1083.3 721.2 1082.5 722.2 1081.9C723.2 1081.2 724.2 1080.6 725.2 1080.1C726.2 1079.6 727.2 1079.1 728.2 1078.7C729.2 1078.4 730.2 1078.1 731.2 1078.0C732.2 1077.9 733.2 1077.9 734.2 1078.0C735.2 1078.2 736.2 1078.6 737.2 1079.1C738.2 1079.7 739.2 1080.4 740.2 1081.2C741.2 1082.1 742.3 1083.0 743.3 1083.8C744.3 1084.7 745.3 1085.5 746.3 1086.3C747.3 1087.0 748.3 1087.6 749.3 1088.1C750.3 1088.6 751.3 1089.0 752.3 1089.2C753.3 1089.5 754.3 1089.5 755.3 1089.4C756.3 1089.2 757.3 1088.9 758.3 1088.4C759.3 1088.0 760.3 1087.4 761.3 1086.9C762.3 1086.4 763.3 1085.8 764.3 1085.4C765.3 1084.9 766.3 1084.6 767.3 1084.3C768.3 1084.0 769.3 1083.8 770.3 1083.7C771.3 1083.6 772.3 1083.7 773.3 1083.8C774.3 1084.0 775.3 1084.4 776.3 1084.9C777.3 1085.4 778.3 1086.0 779.3 1086.8C780.3 1087.6 781.3 1088.5 782.3 1089.4C783.3 1090.3 784.3 1091.2 785.3 1092.1C786.3 1093.0 787.3 1093.8 788.3 1094.5C789.3 1095.2 790.3 1095.8 791.3 1096.4C792.3 1097.0 793.3 1097.6 794.3 1098.2C795.3 1098.8 796.3 1099.4 797.3 1100.0C798.4 1100.6 799.4 1101.3 800.4 1101.9C801.4 1102.6 802.4 1103.2 803.4 1103.8C804.4 1104.3 805.4 1104.9 806.4 1105.4C807.4 1106.0 808.4 1106.5 809.4 1107.0C810.4 1107.5 811.4 1108.0 812.4 1108.4C813.4 1108.9 814.4 1109.3 815.4 1109.7C816.4 1110.1 817.4 1110.5 818.4 1110.9C819.4 1111.3 820.4 1111.7 821.4 1112.0C822.4 1112.4 823.4 1112.7 824.4 1113.1C825.4 1113.4 826.4 1113.7 827.4 1114.0C828.4 1114.3 829.4 1114.6 830.4 1114.9C831.4 1115.2 832.4 1115.5 833.4 1115.8C834.4 1116.0 835.4 1116.3 836.4 1116.5C837.4 1116.8 838.4 1117.1 839.4 1117.3C840.4 1117.5 841.4 1117.8 842.4 1118.0C843.4 1118.2 844.4 1118.5 845.4 1118.7C846.4 1118.9 847.4 1119.1 848.4 1119.3C849.4 1119.5 850.4 1119.7 851.4 1119.9C852.4 1120.1 853.4 1120.3 854.4 1120.5C855.5 1120.7 856.5 1120.9 857.5 1121.1C858.5 1121.2 859.5 1121.4 860.5 1121.6C861.5 1121.7 862.5 1121.9 863.5 1122.1C864.5 1122.2 865.5 1122.4 866.5 1122.5C867.5 1122.7 868.5 1122.8 869.5 1123.0C870.5 1123.1 871.5 1123.2 872.5 1123.4C873.5 1123.5 874.5 1123.6 875.5 1123.7C876.5 1123.9 877.5 1124.0 878.5 1124.1C879.5 1124.2 880.5 1124.3 881.5 1124.4C882.5 1124.5 883.5 1124.6 884.5 1124.7C885.5 1124.8 886.5 1124.9 887.5 1125.0C888.5 1125.1 889.5 1125.2 890.5 1125.3C891.5 1125.4 892.5 1125.5 893.5 1125.6C894.5 1125.6 895.5 1125.7 896.5 1125.8C897.5 1125.9 898.5 1126.0 899.5 1126.0C900.5 1126.1 901.5 1126.2 902.5 1126.2C903.5 1126.3 904.5 1126.4 905.5 1126.4C906.5 1126.5 907.5 1126.6 908.5 1126.6C909.5 1126.7 910.5 1126.7 911.6 1126.8C912.6 1126.8 913.6 1126.9 914.6 1126.9C915.6 1127.0 916.6 1127.1 917.6 1127.1C918.6 1127.2 919.6 1127.2 920.6 1127.2C921.6 1127.3 922.6 1127.3 923.6 1127.4C924.6 1127.4 925.6 1127.5 926.6 1127.5C927.6 1127.6 928.6 1127.6 929.6 1127.7C930.6 1127.7 931.6 1127.7 932.6 1127.8C933.6 1127.8 934.6 1127.9 935.6 1127.9C936.6 1127.9 937.6 1128.0 938.6 1128.0C939.6 1128.1 940.6 1128.1 941.6 1128.2C942.6 1128.2 943.6 1128.2 944.6 1128.3C945.6 1128.3 946.6 1128.4 947.6 1128.4C948.6 1128.5 949.6 1128.5 950.6 1128.6C951.6 1128.6 952.6 1128.6 953.6 1128.7C954.6 1128.7 955.6 1128.8 956.6 1128.8C957.6 1128.9 958.6 1128.9 959.6 1129.0C960.6 1129.0 961.6 1129.1 962.6 1129.2C963.6 1129.2 964.6 1129.3 965.6 1129.3C966.6 1129.4 967.7 1129.4 968.7 1129.5C969.7 1129.6 970.7 1129.6 971.7 1129.7C972.7 1129.8 973.7 1129.8 974.7 1129.9C975.7 1130.0 976.7 1130.1 977.7 1130.1C978.7 1130.2 979.7 1130.3 980.7 1130.4C981.7 1130.5 982.7 1130.5 983.7 1130.6C984.7 1130.7 985.7 1130.8 986.7 1130.9C987.7 1131.0 988.7 1131.1 989.7 1131.2C990.7 1131.3 991.7 1131.4 992.7 1131.5C993.7 1131.6 994.7 1131.7 995.7 1131.8"/>
<path stroke="#ff0000" d="M1024.3 1133.6C1025.3 1133.6 1026.3 1133.6 1027.3 1133.6C1028.3 1133.6 1029.3 1133.6 1030.3 1133.6C1031.3 1133.6 1032.3 1133.6 1033.3 1133.5C1034.3 1133.5 1035.3 1133.4 1036.3 1133.4C1037.3 1133.3 1038.3 1133.3 1039.3 1133.2C1040.3 1133.2 1041.3 1133.1 1042.3 1133.0C1043.3 1132.9 1044.3 1132.8 1045.3 1132.7C1046.3 1132.6 1047.3 1132.5 1048.3 1132.4C1049.3 1132.3 1050.3 1132.2 1051.3 1132.1C1052.3 1132.0 1053.3 1131.9 1054.3 1131.7C1055.3 1131.6 1056.3 1131.5 1057.3 1131.3C1058.3 1131.2 1059.3 1131.1 1060.3 1130.9C1061.3 1130.8 1062.3 1130.6 1063.3 1130.5C1064.3 1130.3 1065.3 1130.2 1066.3 1130.0C1067.3 1129.9 1068.3 1129.7 1069.3 1129.6C1070.3 1129.4 1071.3 1129.2 1072.3 1129.1C1073.3 1128.9 1074.3 1128.8 1075.3 1128.6C1076.3 1128.4 1077.3 1128.3 1078.3 1128.1C1079.3 1128.0 1080.3 1127.8 1081.3 1127.6C1082.3 1127.5 1083.3 1127.3 1084.3 1127.1C1085.3 1127.0 1086.3 1126.8 1087.3 1126.6C1088.3 1126.4 1089.3 1126.2 1090.3 1125.9C1091.3 1125.7 1092.3 1125.4 1093.3 1125.2C1094.3 1124.9 1095.3 1124.6 1096.3 1124.2C1097.3 1123.9 1098.3 1123.5 1099.3 1123.1C1100.3 1122.7 1101.3 1122.2 1102.3 1121.8C1103.3 1121.3 1104.3 1120.8 1105.3 1120.2C1106.3 1119.7 1107.3 1119.1 1108.3 1118.5C1109.3 1117.9 1110.3 1117.3 1111.3 1116.6C1112.3 1116.0 1113.3 1115.4 1114.3 1114.7C1115.3 1114.0 1116.3 1113.4 1117.3 1112.7C1118.3 1112.0 1119.3 1111.3 1120.3 1110.6C1121.3 1110.0 1122.3 1109.3 1123.3 1108.6C1124.4 1107.9 1125.4 1107.2 1126.4 1106.6C1127.4 1105.9 1128.4 1105.3 1129.4 1104.7C1130.4 1104.0 1131.4 1103.4 1132.4 1102.8C1133.4 1102.2 1134.4 1101.7 1135.4 1101.1C1136.4 1100.6 1137.4 1100.1 1138.4 1099.7C1139.4 1099.3 1140.4 1099.0 1141.4 1098.8C1142.4 1098.6 1143.4 1098.4 1144.4 1098.4C1145.4 1098.5 1146.4 1098.6 1147.4 1098.8C1148.4 1099.0 1149.4 1099.3 1150.4 1099.6C1151.4 1100.0 1152.4 1100.3 1153.4 1100.8C1154.4 1101.2 1155.4 1101.6 1156.4 1102.1C1157.4 1102.6 1158.4 1103.1 1159.4 1103.7C1160.4 1104.2 1161.4 1104.8 1162.4 1105.5C1163.4 1106.1 1164.4 1106.7 1165.4 1107.4C1166.4 1108.1 1167.4 1108.8 1168.4 1109.6C1169.4 1110.3 1170.4 1111.0 1171.4 1111.7C1172.4 1112.4 1173.4 1113.1 1174.4 1113.7C1175.4 1114.3 1176.4 1114.8 1177.4 1115.3C1178.4 1115.8 1179.4 1116.2 1180.4 1116.6C1181.4 1117.0 1182.4 1117.3 1183.4 1117.6C1184.4 1117.9 1185.4 1118.1 1186.4 1118.4C1187.4 1118.6 1188.4 1118.8 1189.4 1119.0C1190.4 1119.1 1191.4 1119.3 1192.4 1119.5C1193.4 1119.6 1194.4 1119.7 1195.4 1119.9C1196.4 1120.0 1197.4 1120.1 1198.4 1120.2C1199.4 1120.3 1200.4 1120.4 1201.4 1120.4C1202.4 1120.5 1203.4 1120.6 1204.4 1120.6C1205.4 1120.7 1206.4 1120.7 1207.4 1120.7C1208.4 1120.8 1209.4 1120.8 1210.4 1120.8C1211.4 1120.8 1212.4 1120.8 1213.4 1120.9C1214.4 1120.9 1215.4 1120.9 1216.4 1120.8C1217.4 1120.8 1218.4 1120.8 1219.4 1120.8C1220.4 1120.8 1221.4 1120.8 1222.4 1120.8C1223.4 1120.7 1224.4 1120.7 1225.4 1120.7C1226.4 1120.7 1227.4 1120.7 1228.4 1120.6C1229.4 1120.6 1230.4 1120.6 1231.4 1120.6C1232.4 1120.6 1233.4 1120.6 1234.4 1120.5C1235.4 1120.5 1236.4 1120.5 1237.4 1120.5C1238.4 1120.5 1239.4 1120.5 1240.4 1120.5C1241.4 1120.5 1242.4 1120.5 1243.4 1120.4C1244.4 1120.4 1245.4 1120.4 1246.4 1120.3C1247.4 1120.3 1248.4 1120.2 1249.4 1120.1C1250.4 1120.0 1251.4 1119.8 1252.4 1119.7C1253.4 1119.5 1254.4 1119.3 1255.4 1119.1C1256.4 1118.9 1257.4 1118.6 1258.4 1118.3C1259.4 1118.0 1260.4 1117.6 1261.4 1117.2C1262.4 1116.8 1263.4 1116.3 1264.4 1115.8C1265.4 1115.3 1266.4 1114.7 1267.4 1114.1C1268.4 1113.4 1269.4 1112.7 1270.4 1111.9C1271.4 1111.2 1272.4 1110.4 1273.4 1109.5C1274.4 1108.6 1275.4 1107.7 1276.4 1106.7C1277.4 1105.7 1278.4 1104.7 1279.4 1103.4C1280.4 1102.1 1281.4 1100.4 1282.4 1098.3C1283.4 1096.3 1284.4 1093.8 1285.4 1091.8C1286.4 1089.8 1287.4 1088.3 1288.4 1087.0C1289.4 1085.6 1290.4 1084.5 1291.4 1083.5C1292.4 1082.4 1293.4 1081.5 1294.4 1080.9C1295.4 1080.4 1296.4 1080.4 1297.4 1080.6C1298.4 1080.8 1299.4 1081.3 1300.4 1081.7C1301.4 1082.1 1302.4 1082.4 1303.4 1082.4C1304.4 1082.3 1305.4 1081.9 1306.4 1081.3C1307.4 1080.7 1308.4 1079.9 1309.4 1079.2C1310.4 1078.5 1311.4 1077.8 1312.4 1077.1C1313.4 1076.5 1314.4 1075.8 1315.4 1075.2C1316.4 1074.6 1317.4 1074.1 1318.4 1073.6C1319.4 1073.1 1320.4 1072.6 1321.5 1072.2C1322.5 1071.8 1323.5 1071.5 1324.5 1071.2C1325.5 1070.9 1326.5 1070.7 1327.5 1070.6C1328.5 1070.5 1329.5 1070.4 1330.5 1070.4C1331.5 1070.4 1332.5 1070.5 1333.5 1070.6C1334.5 1070.8 1335.5 1071.0 1336.5 1071.4C1337.5 1071.8 1338.5 1072.4 1339.5 1073.0C1340.5 1073.7 1341.5 1074.4 1342.5 1075.1C1343.5 1075.8 1344.5 1076.4 1345.5 1076.9C1346.5 1077.4 1347.5 1077.8 1348.5 1078.1C1349.5 1078.4 1350.5 1078.7 1351.5 1078.9C1352.5 1079.0 1353.5 1079.1 1354.5 1079.1C1355.5 1079.1 1356.5 1079.0 1357.5 1078.9C1358.5 1078.8 1359.5 1078.6 1360.5 1078.4C1361.5 1078.2 1362.5 1078.0 1363.5 1077.8C1364.5 1077.6 1365.5 1077.5 1366.5 1077.4C1367.5 1077.2 1368.5 1077.1 1369.5 1077.0C1370.5 1076.9 1371.5 1076.8 1372.5 1076.7C1373.5 1076.6 1374.5 1076.5 1375.5 1076.4C1376.5 1076.3 1377.5 1076.2 1378.5 1076.1C1379.5 1076.0 1380.5 1075.9 1381.5 1075.8C1382.5 1075.7 1383.5 1075.5 1384.5 1075.4C1385.5 1075.3 1386.5 1075.1 1387.5 1075.0C1388.5 1074.8 1389.5 1074.7 1390.5 1074.6C1391.5 1074.5 1392.5 1074.5 1393.5 1074.4C1394.5 1074.4 1395.5 1074.4 1396.5 1074.5C1397.5 1074.6 1398.5 1074.7 1399.5 1074.9C1400.5 1075.1 1401.5 1075.4 1402.5 1075.7C1403.5 1076.1 1404.5 1076.5 1405.5 1077.0C1406.5 1077.5 1407.5 1078.1 1408.5 1078.6C1409.5 1079.2 1410.5 1079.8 1411.5 1080.3C1412.5 1080.9 1413.5 1081.4 1414.5 1081.9C1415.5 1082.4 1416.5 1082.7 1417.5 1083.1C1418.5 1083.4 1419.5 1083.6 1420.5 1083.8C1421.5 1084.0 1422.5 1084.1 1423.5 1084.3C1424.5 1084.4 1425.5 1084.6 1426.5 1084.7C1427.5 1084.9 1428.5 1085.0 1429.5 1085.2C1430.5 1085.5 1431.5 1085.7 1432.5 1086.1C1433.5 1086.4 1434.5 1086.9 1435.5 1087.3C1436.5 1087.8 1437.5 1088.2 1438.5 1088.7C1439.5 1089.1 1440.5 1089.5 1441.5 1089.8C1442.5 1090.1 1443.5 1090.3 1444.5 1090.4C1445.5 1090.6 1446.5 1090.7 1447.5 1090.7C1448.5 1090.7 1449.5 1090.6 1450.5 1090.5C1451.5 1090.4 1452.5 1090.3 1453.5 1090.1C1454.5 1089.8 1455.5 1089.6 1456.5 1089.3C1457.5 1089.0 1458.5 1088.6 1459.5 1088.3C1460.5 1087.9 1461.5 1087.5 1462.5 1087.1C1463.5 1086.8 1464.5 1086.4 1465.5 1086.1C1466.5 1085.8 1467.5 1085.6 1468.5 1085.4C1469.5 1085.2 1470.5 1085.2 1471.5 1085.2C1472.5 1085.2 1473.5 1085.4 1474.5 1085.5C1475.5 1085.7 1476.5 1085.9 1477.5 1086.1C1478.5 1086.2 1479.5 1086.4 1480.5 1086.4C1481.5 1086.5 1482.5 1086.4 1483.5 1086.3C1484.5 1086.2 1485.5 1086.0 1486.5 1085.8C1487.5 1085.7 1488.5 1085.5 1489.5 1085.4C1490.5 1085.4 1491.5 1085.4 1492.5 1085.5C1493.5 1085.7 1494.5 1085.9 1495.5 1086.3C1496.5 1086.7 1497.5 1087.3 1498.5 1087.9C1499.5 1088.6 1500.5 1089.4 1501.5 1090.4C1502.5 1091.3 1503.5 1092.5 1504.5 1093.7C1505.5 1094.9 1506.5 1096.2 1507.5 1097.4C1508.5 1098.7 1509.5 1099.9 1510.5 1101.0C1511.5 1102.0 1512.5 1102.9 1513.5 1103.7C1514.5 1104.4 1515.5 1104.9 1516.5 1105.2C1517.5 1105.4 1518.5 1105.3 1519.5 1105.0C1520.6 1104.7 1521.6 1104.0 1522.6 1103.2C1523.6 1102.3 1524.6 1101.2 1525.6 1099.4C1526.6 1097.5 1527.6 1094.8 1528.6 1091.8C1529.6 1088.7 1530.6 1085.6 1531.6 1083.1C1532.6 1080.6 1533.6 1078.7 1534.6 1077.6C1535.6 1076.5 1536.6 1076.1 1537.6 1076.4C1538.6 1076.7 1539.6 1077.6 1540.6 1079.0C1541.6 1080.4 1542.6 1082.4 1543.6 1084.4C1544.6 1086.3 1545.6 1088.0 1546.6 1089.1C1547.6 1090.1 1548.6 1090.5 1549.6 1090.6C1550.6 1090.7 1551.6 1090.3 1552.6 1088.2C1553.6 1086.1 1554.6 1082.2 1555.6 1077.9C1556.6 1073.6 1557.6 1068.7 1558.6 1063.6C1559.6 1058.5 1560.6 1053.2 1561.6 1047.9C1562.6 1042.6 1563.6 1037.5 1564.6 1032.9C1565.6 1028.3 1566.6 1024.3 1567.6 1021.3C1568.6 1018.3 1569.6 1016.5 1570.6 1015.6C1571.6 1014.8 1572.6 1014.9 1573.6 1015.7C1574.6 1016.5 1575.6 1017.9 1576.6 1019.7C1577.6 1021.6 1578.6 1023.8 1579.6 1025.8C1580.6 1027.7 1581.6 1029.3 1582.6 1030.3C1583.6 1031.3 1584.6 1031.7 1585.6 1031.5C1586.6 1031.3 1587.6 1030.4 1588.6 1028.8C1589.6 1027.2 1590.6 1024.7 1591.6 1022.4C1592.6 1020.1 1593.6 1018.3 1594.6 1017.4C1595.6 1016.6 1596.6 1016.6 1597.6 1017.2C1598.6 1017.9 1599.6 1019.2 1600.6 1020.4C1601.6 1021.6 1602.6 1022.4 1603.6 1021.5C1604.6 1020.6 1605.6 1018.0 1606.6 1013.7C1607.6 1009.4 1608.6 1003.8 1609.6 998.1C1610.6 992.4 1611.6 986.3 1612.6 979.7C1613.6 973.0 1614.6 965.9 1615.6 958.6C1616.6 951.2 1617.6 943.7 1618.6 936.1C1619.6 928.4 1620.6 920.7 1621.6 912.8C1622.6 904.9 1623.6 896.8 1624.6 888.8C1625.6 880.9 1626.6 873.3 1627.6 867.1C1628.6 861.0 1629.6 856.1 1630.6 851.6C1631.6 847.1 1632.6 843.0 1633.6 839.4C1634.6 835.8 1635.6 832.9 1636.6 830.8C1637.6 828.8 1638.6 827.4 1639.6 827.8C1640.6 828.2 1641.6 830.5 1642.6 835.7C1643.6 840.8 1644.6 848.5 1645.6 856.6C1646.6 864.7 1647.6 873.3 1648.6 880.6C1649.6 887.9 1650.6 893.6 1651.6 896.8C1652.6 900.0 1653.6 901.0 1654.6 900.8C1655.6 900.7 1656.6 899.3 1657.6 898.1C1658.6 896.8 1659.6 895.8 1660.6 896.2C1661.6 896.6 1662.6 898.2 1663.6 901.4C1664.6 904.5 1665.6 909.2 1666.6 915.6C1667.6 921.9 1668.6 930.1 1669.6 939.0C1670.6 947.8 1671.6 956.5 1672.6 963.8C1673.6 971.0 1674.6 977.1 1675.6 982.4C1676.6 987.7 1677.6 992.3 1678.6 997.4C1679.6 1002.4 1680.6 1008.0 1681.6 1014.8C1682.6 1021.7 1683.6 1029.1 1684.6 1035.5C1685.6 1041.9 1686.6 1047.7 1687.6 1052.7C1688.6 1057.7 1689.6 1062.0 1690.6 1065.4C1691.6 1068.8 1692.6 1071.3 1693.6 1073.1C1694.6 1074.8 1695.6 1075.8 1696.6 1076.3C1697.6 1076.8 1698.6 1076.9 1699.6 1076.6C1700.6 1076.3 1701.6 1075.5 1702.6 1074.1C1703.6 1072.6 1704.6 1070.5 1705.6 1067.6C1706.6 1064.8 1707.6 1061.2 1708.6 1056.9C1709.6 1052.5 1710.6 1047.3 1711.6 1042.4C1712.6 1037.5 1713.6 1033.1 1714.6 1029.6C1715.6 1026.1 1716.6 1023.6 1717.7 1022.3C1718.7 1021.0 1719.7 1020.9 1720.7 1021.6C1721.7 1022.3 1722.7 1023.8 1723.7 1025.7C1724.7 1027.7 1725.7 1030.1 1726.7 1032.7C1727.7 1035.3 1728.7 1038.0 1729.7 1040.9C1730.7 1043.9 1731.7 1047.0 1732.7 1050.5C1733.7 1053.9 1734.7 1057.7 1735.7 1060.7C1736.7 1063.8 1737.7 1065.9 1738.7 1067.6C1739.7 1069.4 1740.7 1070.8 1741.7 1072.1C1742.7 1073.3 1743.7 1074.3 1744.7 1074.9C1745.7 1075.6 1746.7 1075.9 1747.7 1075.8C1748.7 1075.7 1749.7 1075.2 1750.7 1074.1C1751.7 1073.1 1752.7 1071.6 1753.7 1069.5C1754.7 1067.4 1755.7 1064.6 1756.7 1061.3C1757.7 1057.9 1758.7 1054.0 1759.7 1049.9C1760.7 1045.8 1761.7 1041.8 1762.7 1038.7C1763.7 1035.7 1764.7 1033.5 1765.7 1032.1C1766.7 1030.8 1767.7 1030.2 1768.7 1029.5C1769.7 1028.7 1770.7 1027.6 1771.7 1026.4C1772.7 1025.3 1773.7 1024.2 1774.7 1023.4C1775.7 1022.7 1776.7 1022.2 1777.7 1022.2C1778.7 1022.2 1779.7 1022.6 1780.7 1023.5C1781.7 1024.5 1782.7 1026.0 1783.7 1028.2C1784.7 1030.4 1785.7 1033.5 1786.7 1036.0C1787.7 1038.5 1788.7 1040.2 1789.7 1041.2C1790.7 1042.2 1791.7 1042.5 1792.7 1042.4C1793.7 1042.3 1794.7 1041.8 1795.7 1041.2C1796.7 1040.6 1797.7 1039.9 1798.7 1039.3C1799.7 1038.8 1800.7 1038.4 1801.7 1038.2C1802.7 1037.9 1803.7 1037.8 1804.7 1037.8C1805.7 1037.7 1806.7 1037.7 1807.7 1037.6C1808.7 1037.6 1809.7 1037.5 1810.7 1037.3C1811.7 1037.1 1812.7 1036.8 1813.7 1036.2C1814.7 1035.7 1815.7 1035.0 1816.7 1033.9"/>
<path stroke="#0000ff" d="M205.3 916.9C206.3 916.5 207.3 916.2 208.3 915.8C209.3 915.4 210.3 915.0 211.3 914.6C212.3 914.2 213.3 913.8 214.3 913.3C215.3 912.9 216.3 912.5 217.3 912.0C218.3 911.6 219.3 911.1 220.3 910.7C221.3 910.2 222.3 909.8 223.3 909.3C224.3 908.8 225.3 908.3 226.3 907.8C227.3 907.3 228.3 906.8 229.3 906.3C230.3 905.8 231.3 905.3 232.3 904.8C233.3 904.3 234.4 903.7 235.4 903.2C236.4 902.7 237.4 902.1 238.4 901.6C239.4 901.0 240.4 900.5 241.4 899.9C242.4 899.3 243.4 898.8 244.4 898.2C245.4 897.6 246.4 897.0 247.4 896.4C248.4 895.8 249.4 895.2 250.4 894.6C251.4 894.0 252.4 893.4 253.4 892.8C254.4 892.2 255.4 891.6 256.4 891.0C257.4 890.3 258.4 889.7 259.4 889.1C260.4 888.4 261.4 887.8 262.4 887.2C263.4 886.5 264.4 885.9 265.4 885.2C266.4 884.6 267.4 883.9 268.4 883.3C269.4 882.6 270.4 881.9 271.4 881.3C272.4 880.6 273.4 879.9 274.4 879.2C275.4 878.6 276.4 877.9 277.4 877.2C278.4 876.5 279.4 875.8 280.4 875.1C281.4 874.5 282.4 873.8 283.4 873.1C284.4 872.4 285.4 871.7 286.4 871.0C287.4 870.3 288.4 869.6 289.4 868.9C290.5 868.2 291.5 867.5 292.5 866.8C293.5 866.1 294.5 865.3 295.5 864.6C296.5 863.9 297.5 863.2 298.5 862.5C299.5 861.8 300.5 861.1 301.5 860.3C302.5 859.6 303.5 858.9 304.5 858.2C305.5 857.5 306.5 856.8 307.5 856.0C308.5 855.3 309.5 854.6 310.5 853.9C311.5 853.2 312.5 852.4 313.5 851.7C314.5 851.0 315.5 850.3 316.5 849.6C317.5 848.8 318.5 848.1 319.5 847.4C320.5 846.7 321.5 846.0 322.5 845.2C323.5 844.5 324.5 843.8 325.5 843.1C326.5 842.4 327.5 841.7 328.5 840.9C329.5 840.2 330.5 839.5 331.5 838.8C332.5 838.1 333.5 837.4 334.5 836.7C335.5 836.0 336.5 835.3 337.5 834.6C338.5 833.9 339.5 833.2 340.5 832.5C341.5 831.8 342.5 831.1 343.5 830.4C344.5 829.7 345.5 829.0 346.6 828.3C347.6 827.6 348.6 826.9 349.6 826.3C350.6 825.6 351.6 824.9 352.6 824.2C353.6 823.6 354.6 822.9 355.6 822.2C356.6 821.6 357.6 820.9 358.6 820.2C359.6 819.6 360.6 818.9 361.6 818.3C362.6 817.6 363.6 817.0 364.6 816.4C365.6 815.7 366.6 815.1 367.6 814.5C368.6 813.8 369.6 813.2 370.6 812.6C371.6 812.0 372.6 811.3 373.6 810.7C374.6 810.1 375.6 809.5 376.6 808.9C377.6 808.3 378.6 807.7 379.6 807.2C380.6 806.6 381.6 806.0 382.6 805.4C383.6 804.8 384.6 804.3 385.6 803.7C386.6 803.2 387.6 802.6 388.6 802.1C389.6 801.5 390.6 801.0 391.6 800.4C392.6 799.9 393.6 799.4 394.6 798.9C395.6 798.4 396.6 797.8 397.6 797.3C398.6 796.8 399.6 796.3 400.6 795.9C401.6 795.4 402.6 794.9 403.7 794.4C404.7 794.0 405.7 793.5 406.7 793.0C407.7 792.6 408.7 792.1 409.7 791.7C410.7 791.3 411.7 790.8 412.7 790.4C413.7 790.0 414.7 789.6 415.7 789.2C416.7 788.8 417.7 788.4 418.7 788.0C419.7 787.7 420.7 787.3 421.7 786.9C422.7 786.6 423.7 786.2 424.7 785.9C425.7 785.5 426.7 785.2 427.7 784.9C428.7 784.6 429.7 784.3 430.7 784.0C431.7 783.7 432.7 783.4 433.7 783.1C434.7 782.8 435.7 782.6 436.7 782.3C437.7 782.0 438.7 781.8 439.7 781.6C440.7 781.3 441.7 781.1 442.7 780.9C443.7 780.7 444.7 780.5 445.7 780.3C446.7 780.1 447.7 780.0 448.7 779.8C449.7 779.7 450.7 779.5 451.7 779.4C452.7 779.2 453.7 779.1 454.7 779.0C455.7 778.9 456.7 778.8 457.7 778.7C458.7 778.7 459.8 778.6 460.8 778.5C461.8 778.5 462.8 778.4 463.8 778.4C464.8 778.4 465.8 778.4 466.8 778.4C467.8 778.4 468.8 778.4 469.8 778.4C470.8 778.5 471.8 778.5 472.8 778.6C473.8 778.6 474.8 778.7 475.8 778.8C476.8 778.9 477.8 779.0 478.8 779.2C479.8 779.3 480.8 779.4 481.8 779.6C482.8 779.8 483.8 779.9 484.8 780.1C485.8 780.3 486.8 780.6 487.8 780.8C488.8 781.0 489.8 781.3 490.8 781.5C491.8 781.8 492.8 782.1 493.8 782.4C494.8 782.7 495.8 783.1 496.8 783.4C497.8 783.8 498.8 784.1 499.8 784.5C500.8 784.9 501.8 785.3 502.8 785.7C503.8 786.2 504.8 786.6 505.8 787.1C506.8 787.6 507.8 788.1 508.8 788.6C509.8 789.1 510.8 789.6 511.8 790.2C512.8 790.7 513.8 791.3 514.8 791.9C515.9 792.5 516.9 793.1 517.9 793.8C518.9 794.4 519.9 795.1 520.9 795.8C521.9 796.5 522.9 797.2 523.9 798.0C524.9 798.7 525.9 799.5 526.9 800.2C527.9 801.0 528.9 801.8 529.9 802.6C530.9 803.4 531.9 804.3 532.9 805.1C533.9 806.0 534.9 806.9 535.9 807.7C536.9 808.6 537.9 809.5 538.9 810.4C539.9 811.3 540.9 812.3 541.9 813.2C542.9 814.1 543.9 815.1 544.9 816.0C545.9 817.0 546.9 818.0 547.9 818.9C548.9 819.9 549.9 820.9 550.9 821.9C551.9 822.9 552.9 823.9 553.9 824.9C554.9 825.9 555.9 826.9 556.9 827.9C557.9 828.9 558.9 829.9 559.9 830.9C560.9 832.0 561.9 833.0 562.9 834.0C563.9 835.0 564.9 836.0 565.9 837.0C566.9 838.1 567.9 839.1 568.9 840.1C569.9 841.1 570.9 842.1 571.9 843.1C573.0 844.1 574.0 845.1 575.0 846.1C576.0 847.1 577.0 848.1 578.0 849.1C579.0 850.0 580.0 851.0 581.0 852.0C582.0 852.9 583.0 853.9 584.0 854.8C585.0 855.7 586.0 856.7 587.0 857.6C588.0 858.5 589.0 859.4 590.0 860.3C591.0 861.2 592.0 862.1 593.0 862.9C594.0 863.8 595.0 864.7 596.0 865.5C597.0 866.4 598.0 867.2 599.0 868.0C600.0 868.9 601.0 869.7 602.0 870.5C603.0 871.3 604.0 872.1 605.0 872.9C606.0 873.6 607.0 874.4 608.0 875.2C609.0 875.9 610.0 876.7 611.0 877.4C612.0 878.1 613.0 878.9 614.0 879.6C615.0 880.3 616.0 881.0 617.0 881.7C618.0 882.4 619.0 883.1 620.0 883.7C621.0 884.4 622.0 885.0 623.0 885.7C624.0 886.3 625.0 887.0 626.0 887.6C627.0 888.2 628.0 888.8 629.1 889.4C630.1 890.0 631.1 890.6 632.1 891.2C633.1 891.8 634.1 892.4 635.1 892.9C636.1 893.5 637.1 894.0 638.1 894.6C639.1 895.1 640.1 895.6 641.1 896.1C642.1 896.6 643.1 897.1 644.1 897.6C645.1 898.1 646.1 898.6 647.1 899.1C648.1 899.5 649.1 900.0 650.1 900.5C651.1 900.9 652.1 901.3 653.1 901.8C654.1 902.2 655.1 902.6 656.1 903.0C657.1 903.4 658.1 903.8 659.1 904.2C660.1 904.5 661.1 904.9 662.1 905.2C663.1 905.6 664.1 905.9 665.1 906.2C666.1 906.5 667.1 906.8 668.1 907.0C669.1 907.3 670.1 907.5 671.1 907.7C672.1 907.9 673.1 908.1 674.1 908.2C675.1 908.4 676.1 908.5 677.1 908.6C678.1 908.6 679.1 908.7 680.1 908.7C681.1 908.7 682.1 908.7 683.1 908.6C684.1 908.6 685.1 908.5 686.2 908.3C687.2 908.2 688.2 908.0 689.2 907.7C690.2 907.5 691.2 907.2 692.2 906.8C693.2 906.5 694.2 906.1 695.2 905.5C696.2 905.0 697.2 904.4 698.2 903.7C699.2 903.0 700.2 902.2 701.2 901.3C702.2 900.4 703.2 899.4 704.2 898.3C705.2 897.2 706.2 896.0 707.2 894.9C708.2 893.8 709.2 892.7 710.2 891.6C711.2 890.5 712.2 889.5 713.2 888.5C714.2 887.5 715.2 886.5 716.2 885.6C717.2 884.7 718.2 883.9 719.2 883.1C720.2 882.3 721.2 881.6 722.2 880.9C723.2 880.3 724.2 879.7 725.2 879.2C726.2 878.7 727.2 878.2 728.2 877.8C729.2 877.5 730.2 877.2 731.2 877.1C732.2 877.0 733.2 877.0 734.2 877.1C735.2 877.3 736.2 877.6 737.2 878.1C738.2 878.7 739.2 879.4 740.2 880.2C741.2 881.0 742.3 881.9 743.3 882.7C744.3 883.5 745.3 884.2 746.3 884.9C747.3 885.5 748.3 886.1 749.3 886.5C750.3 887.0 751.3 887.3 752.3 887.5C753.3 887.7 754.3 887.8 755.3 887.7C756.3 887.6 757.3 887.3 758.3 886.9C759.3 886.5 760.3 886.0 761.3 885.5C762.3 885.0 763.3 884.5 764.3 884.1C765.3 883.7 766.3 883.3 767.3 883.0C768.3 882.8 769.3 882.6 770.3 882.4C771.3 882.3 772.3 882.3 773.3 882.4C774.3 882.5 775.3 882.8 776.3 883.1C777.3 883.5 778.3 884.0 779.3 884.8C780.3 885.5 781.3 886.5 782.3 887.6C783.3 888.6 784.3 889.7 785.3 890.7C786.3 891.8 787.3 892.7 788.3 893.4C789.3 894.2 790.3 894.8 791.3 895.3C792.3 895.9 793.3 896.4 794.3 896.9C795.3 897.4 796.3 898.0 797.3 898.6C798.4 899.2 799.4 899.8 800.4 900.4C801.4 901.0 802.4 901.6 803.4 902.2C804.4 902.8 805.4 903.4 806.4 904.0C807.4 904.6 808.4 905.2 809.4 905.7C810.4 906.3 811.4 906.8 812.4 907.3C813.4 907.8 814.4 908.3 815.4 908.8C816.4 909.3 817.4 909.7 818.4 910.1C819.4 910.6 820.4 910.9 821.4 911.3C822.4 911.7 823.4 912.0 824.4 912.4C825.4 912.7 826.4 913.0 827.4 913.3C828.4 913.6 829.4 913.9 830.4 914.1C831.4 914.4 832.4 914.7 833.4 914.9C834.4 915.2 835.4 915.4 836.4 915.7C837.4 915.9 838.4 916.1 839.4 916.4C840.4 916.6 841.4 916.8 842.4 917.0C843.4 917.2 844.4 917.4 845.4 917.6C846.4 917.8 847.4 918.0 848.4 918.2C849.4 918.4 850.4 918.6 851.4 918.8C852.4 919.0 853.4 919.2 854.4 919.3C855.5 919.5 856.5 919.7 857.5 919.8C858.5 920.0 859.5 920.1 860.5 920.3C861.5 920.5 862.5 920.6 863.5 920.7C864.5 920.9 865.5 921.0 866.5 921.2C867.5 921.3 868.5 921.4 869.5 921.6C870.5 921.7 871.5 921.8 872.5 921.9C873.5 922.0 874.5 922.2 875.5 922.3C876.5 922.4 877.5 922.5 878.5 922.6C879.5 922.7 880.5 922.8 881.5 922.9C882.5 923.0 883.5 923.1 884.5 923.2C885.5 923.3 886.5 923.4 887.5 923.4C888.5 923.5 889.5 923.6 890.5 923.7C891.5 923.8 892.5 923.8 893.5 923.9C894.5 924.0 895.5 924.1 896.5 924.1C897.5 924.2 898.5 924.3 899.5 924.3C900.5 924.4 901.5 924.5 902.5 924.5C903.5 924.6 904.5 924.6 905.5 924.7C906.5 924.7 907.5 924.8 908.5 924.9C909.5 924.9 910.5 925.0 911.6 925.0C912.6 925.1 913.6 925.1 914.6 925.2C915.6 925.2 916.6 925.3 917.6 925.3C918.6 925.3 919.6 925.4 920.6 925.4C921.6 925.5 922.6 925.5 923.6 925.6C924.6 925.6 925.6 925.6 926.6 925.7C927.6 925.7 928.6 925.8 929.6 925.8C930.6 925.8 931.6 925.9 932.6 925.9C933.6 926.0 934.6 926.0 935.6 926.0C936.6 926.1 937.6 926.1 938.6 926.2C939.6 926.2 940.6 926.2 941.6 926.3C942.6 926.3 943.6 926.4 944.6 926.4C945.6 926.4 946.6 926.5 947.6 926.5C948.6 926.6 949.6 926.6 950.6 926.6C951.6 926.7 952.6 926.7 953.6 926.8C954.6 926.8 955.6 926.9 956.6 926.9C957.6 927.0 958.6 927.0 959.6 927.1C960.6 927.1 961.6 927.2 962.6 927.2C963.6 927.3 964.6 927.3 965.6 927.4C966.6 927.5 967.7 927.5 968.7 927.6C969.7 927.6 970.7 927.7 971.7 927.8C972.7 927.8 973.7 927.9 974.7 928.0C975.7 928.1 976.7 928.1 977.7 928.2C978.7 928.3 979.7 928.4 980.7 928.4C981.7 928.5 982.7 928.6 983.7 928.7C984.7 928.8 985.7 928.9 986.7 929.0C987.7 929.1 988.7 929.2 989.7 929.3C990.7 929.4 991.7 929.5 992.7 929.6C993.7 929.7 994.7 929.8 995.7 929.9"/>
<path stroke="#0000ff" d="M1024.3 930.9C1025.3 930.7 1026.3 930.6 1027.3 930.4C1028.3 930.3 1029.3 930.2 1030.3 930.0C1031.3 929.9 1032.3 929.8 1033.3 929.7C1034.3 929.6 1035.3 929.5 1036.3 929.5C1037.3 929.4 1038.3 929.3 1039.3 929.3C1040.3 929.2 1041.3 929.2 1042.3 929.2C1043.3 929.1 1044.3 929.1 1045.3 929.1C1046.3 929.1 1047.3 929.0 1048.3 929.0C1049.3 929.0 1050.3 929.0 1051.3 929.0C1052.3 929.0 1053.3 929.0 1054.3 928.9C1055.3 928.9 1056.3 928.9 1057.3 928.9C1058.3 928.9 1059.3 928.9 1060.3 928.8C1061.3 928.8 1062.3 928.8 1063.3 928.7C1064.3 928.7 1065.3 928.6 1066.3 928.6C1067.3 928.5 1068.3 928.5 1069.3 928.4C1070.3 928.3 1071.3 928.2 1072.3 928.1C1073.3 928.0 1074.3 927.9 1075.3 927.8C1076.3 927.7 1077.3 927.5 1078.3 927.4C1079.3 927.2 1080.3 927.0 1081.3 926.8C1082.3 926.6 1083.3 926.4 1084.3 926.2C1085.3 926.0 1086.3 925.7 1087.3 925.4C1088.3 925.1 1089.3 924.8 1090.3 924.5C1091.3 924.2 1092.3 923.8 1093.3 923.5C1094.3 923.1 1095.3 922.7 1096.3 922.2C1097.3 921.8 1098.3 921.4 1099.3 920.9C1100.3 920.4 1101.3 919.8 1102.3 919.3C1103.3 918.7 1104.3 918.2 1105.3 917.6C1106.3 917.0 1107.3 916.4 1108.3 915.7C1109.3 915.1 1110.3 914.5 1111.3 913.8C1112.3 913.2 1113.3 912.5 1114.3 911.8C1115.3 911.2 1116.3 910.5 1117.3 909.9C1118.3 909.2 1119.3 908.6 1120.3 907.9C1121.3 907.3 1122.3 906.7 1123.3 906.1C1124.4 905.5 1125.4 904.9 1126.4 904.4C1127.4 903.8 1128.4 903.3 1129.4 902.8C1130.4 902.3 1131.4 901.8 1132.4 901.4C1133.4 900.9 1134.4 900.5 1135.4 900.2C1136.4 899.8 1137.4 899.5 1138.4 899.3C1139.4 899.0 1140.4 898.8 1141.4 898.7C1142.4 898.5 1143.4 898.5 1144.4 898.4C1145.4 898.4 1146.4 898.5 1147.4 898.6C1148.4 898.7 1149.4 898.9 1150.4 899.1C1151.4 899.4 1152.4 899.7 1153.4 900.1C1154.4 900.5 1155.4 901.0 1156.4 901.5C1157.4 902.0 1158.4 902.6 1159.4 903.2C1160.4 903.8 1161.4 904.5 1162.4 905.1C1163.4 905.8 1164.4 906.4 1165.4 907.1C1166.4 907.8 1167.4 908.5 1168.4 909.1C1169.4 909.8 1170.4 910.4 1171.4 911.0C1172.4 911.6 1173.4 912.2 1174.4 912.7C1175.4 913.2 1176.4 913.7 1177.4 914.2C1178.4 914.6 1179.4 915.0 1180.4 915.3C1181.4 915.7 1182.4 916.0 1183.4 916.3C1184.4 916.6 1185.4 916.8 1186.4 917.1C1187.4 917.3 1188.4 917.5 1189.4 917.7C1190.4 917.9 1191.4 918.0 1192.4 918.2C1193.4 918.3 1194.4 918.5 1195.4 918.6C1196.4 918.7 1197.4 918.8 1198.4 918.9C1199.4 919.0 1200.4 919.1 1201.4 919.1C1202.4 919.2 1203.4 919.2 1204.4 919.3C1205.4 919.3 1206.4 919.3 1207.4 919.3C1208.4 919.4 1209.4 919.4 1210.4 919.4C1211.4 919.4 1212.4 919.3 1213.4 919.3C1214.4 919.3 1215.4 919.3 1216.4 919.2C1217.4 919.2 1218.4 919.2 1219.4 919.1C1220.4 919.1 1221.4 919.1 1222.4 919.0C1223.4 919.0 1224.4 918.9 1225.4 918.9C1226.4 918.8 1227.4 918.8 1228.4 918.7C1229.4 918.7 1230.4 918.6 1231.4 918.6C1232.4 918.6 1233.4 918.5 1234.4 918.5C1235.4 918.4 1236.4 918.4 1237.4 918.4C1238.4 918.4 1239.4 918.3 1240.4 918.3C1241.4 918.3 1242.4 918.3 1243.4 918.3C1244.4 918.3 1245.4 918.3 1246.4 918.2C1247.4 918.2 1248.4 918.2 1249.4 918.1C1250.4 918.1 1251.4 918.0 1252.4 917.9C1253.4 917.7 1254.4 917.6 1255.4 917.4C1256.4 917.2 1257.4 917.0 1258.4 916.7C1259.4 916.4 1260.4 916.0 1261.4 915.6C1262.4 915.2 1263.4 914.7 1264.4 914.2C1265.4 913.6 1266.4 913.0 1267.4 912.3C1268.4 911.5 1269.4 910.7 1270.4 909.8C1271.4 909.0 1272.4 908.0 1273.4 907.0C1274.4 906.1 1275.4 905.2 1276.4 904.1C1277.4 903.0 1278.4 901.7 1279.4 899.9C1280.4 898.2 1281.4 896.1 1282.4 894.0C1283.4 891.9 1284.4 889.9 1285.4 888.3C1286.4 886.6 1287.4 885.3 1288.4 884.1C1289.4 882.9 1290.4 881.8 1291.4 880.9C1292.4 880.0 1293.4 879.3 1294.4 878.9C1295.4 878.4 1296.4 878.2 1297.4 878.3C1298.4 878.4 1299.4 878.7 1300.4 879.0C1301.4 879.3 1302.4 879.5 1303.4 879.4C1304.4 879.3 1305.4 878.9 1306.4 878.5C1307.4 878.0 1308.4 877.4 1309.4 876.8C1310.4 876.2 1311.4 875.5 1312.4 874.8C1313.4 874.1 1314.4 873.4 1315.4 872.8C1316.4 872.2 1317.4 871.7 1318.4 871.2C1319.4 870.7 1320.4 870.2 1321.5 869.8C1322.5 869.4 1323.5 869.1 1324.5 868.8C1325.5 868.5 1326.5 868.2 1327.5 868.0C1328.5 867.8 1329.5 867.6 1330.5 867.5C1331.5 867.5 1332.5 867.5 1333.5 867.7C1334.5 867.8 1335.5 868.1 1336.5 868.5C1337.5 868.9 1338.5 869.5 1339.5 870.2C1340.5 870.8 1341.5 871.6 1342.5 872.3C1343.5 873.0 1344.5 873.8 1345.5 874.4C1346.5 875.1 1347.5 875.7 1348.5 876.1C1349.5 876.6 1350.5 876.9 1351.5 877.1C1352.5 877.3 1353.5 877.4 1354.5 877.4C1355.5 877.4 1356.5 877.3 1357.5 877.2C1358.5 877.0 1359.5 876.9 1360.5 876.6C1361.5 876.4 1362.5 876.2 1363.5 875.9C1364.5 875.7 1365.5 875.5 1366.5 875.3C1367.5 875.1 1368.5 874.9 1369.5 874.7C1370.5 874.6 1371.5 874.6 1372.5 874.6C1373.5 874.6 1374.5 874.6 1375.5 874.7C1376.5 874.8 1377.5 874.8 1378.5 874.9C1379.5 874.9 1380.5 874.9 1381.5 874.8C1382.5 874.6 1383.5 874.5 1384.5 874.2C1385.5 874.0 1386.5 873.7 1387.5 873.4C1388.5 873.2 1389.5 872.9 1390.5 872.7C1391.5 872.5 1392.5 872.3 1393.5 872.3C1394.5 872.2 1395.5 872.3 1396.5 872.5C1397.5 872.7 1398.5 873.0 1399.5 873.4C1400.5 873.8 1401.5 874.3 1402.5 874.8C1403.5 875.3 1404.5 875.8 1405.5 876.4C1406.5 876.9 1407.5 877.4 1408.5 877.9C1409.5 878.4 1410.5 878.8 1411.5 879.1C1412.5 879.5 1413.5 879.8 1414.5 880.0C1415.5 880.3 1416.5 880.5 1417.5 880.7C1418.5 880.9 1419.5 881.1 1420.5 881.3C1421.5 881.5 1422.5 881.8 1423.5 882.0C1424.5 882.2 1425.5 882.5 1426.5 882.8C1427.5 883.2 1428.5 883.5 1429.5 883.9C1430.5 884.3 1431.5 884.6 1432.5 885.0C1433.5 885.4 1434.5 885.8 1435.5 886.2C1436.5 886.6 1437.5 886.9 1438.5 887.2C1439.5 887.6 1440.5 887.9 1441.5 888.1C1442.5 888.3 1443.5 888.5 1444.5 888.7C1445.5 888.8 1446.5 888.9 1447.5 888.9C1448.5 888.9 1449.5 888.8 1450.5 888.6C1451.5 888.4 1452.5 888.2 1453.5 887.9C1454.5 887.6 1455.5 887.2 1456.5 886.9C1457.5 886.5 1458.5 886.2 1459.5 885.8C1460.5 885.5 1461.5 885.2 1462.5 884.9C1463.5 884.7 1464.5 884.5 1465.5 884.3C1466.5 884.2 1467.5 884.2 1468.5 884.2C1469.5 884.2 1470.5 884.2 1471.5 884.3C1472.5 884.3 1473.5 884.4 1474.5 884.4C1475.5 884.5 1476.5 884.5 1477.5 884.5C1478.5 884.5 1479.5 884.5 1480.5 884.4C1481.5 884.3 1482.5 884.1 1483.5 883.9C1484.5 883.8 1485.5 883.6 1486.5 883.4C1487.5 883.2 1488.5 883.1 1489.5 883.1C1490.5 883.0 1491.5 883.1 1492.5 883.2C1493.5 883.4 1494.5 883.6 1495.5 884.1C1496.5 884.5 1497.5 885.1 1498.5 885.9C1499.5 886.7 1500.5 887.7 1501.5 888.8C1502.5 889.9 1503.5 891.1 1504.5 892.3C1505.5 893.5 1506.5 894.8 1507.5 895.9C1508.5 897.1 1509.5 898.2 1510.5 899.2C1511.5 900.2 1512.5 901.0 1513.5 901.6C1514.5 902.2 1515.5 902.6 1516.5 902.8C1517.5 903.0 1518.5 903.0 1519.5 902.9C1520.6 902.7 1521.6 902.3 1522.6 901.5C1523.6 900.6 1524.6 899.4 1525.6 897.4C1526.6 895.4 1527.6 892.3 1528.6 888.9C1529.6 885.6 1530.6 882.0 1531.6 879.1C1532.6 876.2 1533.6 873.9 1534.6 872.4C1535.6 870.9 1536.6 870.2 1537.6 870.5C1538.6 870.9 1539.6 872.2 1540.6 873.9C1541.6 875.7 1542.6 877.8 1543.6 879.8C1544.6 881.9 1545.6 883.7 1546.6 884.9C1547.6 886.1 1548.6 886.6 1549.6 886.4C1550.6 886.2 1551.6 885.1 1552.6 883.2C1553.6 881.2 1554.6 878.3 1555.6 874.3C1556.6 870.3 1557.6 865.3 1558.6 860.0C1559.6 854.6 1560.6 848.9 1561.6 843.4C1562.6 837.9 1563.6 832.7 1564.6 828.4C1565.6 824.1 1566.6 820.6 1567.6 818.1C1568.6 815.6 1569.6 813.9 1570.6 813.2C1571.6 812.4 1572.6 812.5 1573.6 813.3C1574.6 814.2 1575.6 815.7 1576.6 817.5C1577.6 819.3 1578.6 821.3 1579.6 823.1C1580.6 825.0 1581.6 826.6 1582.6 827.7C1583.6 828.7 1584.6 829.1 1585.6 828.5C1586.6 827.9 1587.6 826.3 1588.6 824.4C1589.6 822.5 1590.6 820.2 1591.6 818.1C1592.6 815.9 1593.6 813.9 1594.6 812.9C1595.6 811.9 1596.6 812.3 1597.6 813.8C1598.6 815.2 1599.6 817.5 1600.6 819.2C1601.6 820.9 1602.6 821.8 1603.6 820.4C1604.6 819.0 1605.6 815.7 1606.6 811.3C1607.6 806.8 1608.6 801.2 1609.6 795.1C1610.6 789.0 1611.6 782.3 1612.6 775.1C1613.6 768.0 1614.6 760.4 1615.6 752.5C1616.6 744.7 1617.6 736.7 1618.6 728.5C1619.6 720.3 1620.6 712.1 1621.6 703.7C1622.6 695.4 1623.6 686.8 1624.6 678.3C1625.6 669.9 1626.6 661.7 1627.6 655.2C1628.6 648.6 1629.6 643.3 1630.6 638.7C1631.6 634.0 1632.6 629.9 1633.6 626.2C1634.6 622.5 1635.6 619.2 1636.6 616.6C1637.6 613.9 1638.6 612.1 1639.6 611.6C1640.6 611.1 1641.6 611.5 1642.6 616.4C1643.6 621.4 1644.6 631.1 1645.6 639.7C1646.6 648.2 1647.6 657.0 1648.6 666.5C1649.6 675.9 1650.6 686.0 1651.6 693.2C1652.6 700.3 1653.6 702.0 1654.6 702.4C1655.6 702.7 1656.6 702.3 1657.6 700.7C1658.6 699.1 1659.6 696.5 1660.6 695.8C1661.6 695.1 1662.6 695.3 1663.6 696.8C1664.6 698.4 1665.6 702.0 1666.6 708.2C1667.6 714.4 1668.6 723.2 1669.6 732.4C1670.6 741.5 1671.6 750.4 1672.6 757.7C1673.6 765.0 1674.6 771.0 1675.6 776.2C1676.6 781.4 1677.6 786.1 1678.6 792.3C1679.6 798.4 1680.6 805.9 1681.6 813.1C1682.6 820.3 1683.6 827.0 1684.6 832.8C1685.6 838.6 1686.6 844.4 1687.6 849.9C1688.6 855.4 1689.6 860.0 1690.6 863.5C1691.6 866.9 1692.6 869.4 1693.6 871.1C1694.6 872.9 1695.6 873.8 1696.6 874.2C1697.6 874.6 1698.6 874.6 1699.6 874.1C1700.6 873.6 1701.6 872.5 1702.6 870.9C1703.6 869.2 1704.6 866.9 1705.6 863.9C1706.6 860.8 1707.6 857.1 1708.6 852.9C1709.6 848.6 1710.6 843.9 1711.6 839.0C1712.6 834.1 1713.6 829.0 1714.6 825.7C1715.6 822.4 1716.6 820.6 1717.7 819.6C1718.7 818.7 1719.7 818.7 1720.7 819.4C1721.7 820.1 1722.7 821.6 1723.7 823.5C1724.7 825.5 1725.7 828.0 1726.7 830.7C1727.7 833.5 1728.7 836.6 1729.7 839.7C1730.7 842.9 1731.7 846.2 1732.7 849.5C1733.7 852.7 1734.7 855.9 1735.7 858.8C1736.7 861.7 1737.7 864.3 1738.7 866.3C1739.7 868.3 1740.7 869.7 1741.7 870.7C1742.7 871.7 1743.7 872.4 1744.7 872.9C1745.7 873.5 1746.7 873.8 1747.7 873.7C1748.7 873.6 1749.7 873.2 1750.7 872.1C1751.7 871.1 1752.7 869.6 1753.7 867.4C1754.7 865.2 1755.7 862.3 1756.7 858.7C1757.7 855.1 1758.7 850.8 1759.7 846.4C1760.7 842.0 1761.7 837.8 1762.7 835.1C1763.7 832.3 1764.7 830.6 1765.7 829.3C1766.7 828.1 1767.7 827.4 1768.7 826.4C1769.7 825.5 1770.7 824.2 1771.7 823.0C1772.7 821.8 1773.7 820.8 1774.7 820.3C1775.7 819.7 1776.7 819.4 1777.7 819.2C1778.7 819.0 1779.7 819.1 1780.7 820.3C1781.7 821.4 1782.7 823.6 1783.7 826.0C1784.7 828.4 1785.7 831.0 1786.7 833.1C1787.7 835.2 1788.7 836.7 1789.7 837.6C1790.7 838.5 1791.7 838.7 1792.7 838.7C1793.7 838.6 1794.7 838.1 1795.7 837.5C1796.7 837.0 1797.7 836.3 1798.7 835.7C1799.7 835.2 1800.7 834.8 1801.7 834.5C1802.7 834.2 1803.7 834.0 1804.7 833.9C1805.7 833.8 1806.7 833.7 1807.7 833.6C1808.7 833.5 1809.7 833.3 1810.7 833.1C1811.7 832.9 1812.7 832.6 1813.7 832.1C1814.7 831.6 1815.7 831.0 1816.7 830.2"/>
<path stroke="#ff00ff" d="M205.3 712.6C206.3 712.3 207.3 711.9 208.3 711.6C209.3 711.3 210.3 710.9 211.3 710.5C212.3 710.2 213.3 709.8 214.3 709.4C215.3 709.0 216.3 708.6 217.3 708.2C218.3 707.8 219.3 707.3 220.3 706.9C221.3 706.5 222.3 706.0 223.3 705.6C224.3 705.1 225.3 704.6 226.3 704.2C227.3 703.7 228.3 703.2 229.3 702.7C230.3 702.2 231.3 701.7 232.3 701.2C233.3 700.7 234.4 700.1 235.4 699.6C236.4 699.1 237.4 698.5 238.4 698.0C239.4 697.4 240.4 696.9 241.4 696.3C242.4 695.7 243.4 695.2 244.4 694.6C245.4 694.0 246.4 693.4 247.4 692.8C248.4 692.2 249.4 691.6 250.4 691.0C251.4 690.4 252.4 689.7 253.4 689.1C254.4 688.5 255.4 687.8 256.4 687.2C257.4 686.6 258.4 685.9 259.4 685.3C260.4 684.6 261.4 683.9 262.4 683.3C263.4 682.6 264.4 681.9 265.4 681.3C266.4 680.6 267.4 679.9 268.4 679.2C269.4 678.5 270.4 677.8 271.4 677.1C272.4 676.4 273.4 675.7 274.4 675.0C275.4 674.3 276.4 673.6 277.4 672.9C278.4 672.2 279.4 671.4 280.4 670.7C281.4 670.0 282.4 669.3 283.4 668.5C284.4 667.8 285.4 667.1 286.4 666.3C287.4 665.6 288.4 664.8 289.4 664.1C290.5 663.4 291.5 662.6 292.5 661.9C293.5 661.1 294.5 660.4 295.5 659.6C296.5 658.8 297.5 658.1 298.5 657.3C299.5 656.6 300.5 655.8 301.5 655.1C302.5 654.3 303.5 653.5 304.5 652.8C305.5 652.0 306.5 651.2 307.5 650.5C308.5 649.7 309.5 649.0 310.5 648.2C311.5 647.4 312.5 646.7 313.5 645.9C314.5 645.1 315.5 644.4 316.5 643.6C317.5 642.8 318.5 642.1 319.5 641.3C320.5 640.5 321.5 639.8 322.5 639.0C323.5 638.3 324.5 637.5 325.5 636.7C326.5 636.0 327.5 635.2 328.5 634.5C329.5 633.7 330.5 633.0 331.5 632.2C332.5 631.4 333.5 630.7 334.5 630.0C335.5 629.2 336.5 628.5 337.5 627.7C338.5 627.0 339.5 626.2 340.5 625.5C341.5 624.8 342.5 624.0 343.5 623.3C344.5 622.6 345.5 621.8 346.6 621.1C347.6 620.4 348.6 619.7 349.6 619.0C350.6 618.3 351.6 617.5 352.6 616.8C353.6 616.1 354.6 615.4 355.6 614.7C356.6 614.0 357.6 613.4 358.6 612.7C359.6 612.0 360.6 611.3 361.6 610.6C362.6 610.0 363.6 609.3 364.6 608.6C365.6 608.0 366.6 607.3 367.6 606.7C368.6 606.0 369.6 605.4 370.6 604.7C371.6 604.1 372.6 603.5 373.6 602.8C374.6 602.2 375.6 601.6 376.6 601.0C377.6 600.4 378.6 599.8 379.6 599.2C380.6 598.6 381.6 598.0 382.6 597.4C383.6 596.8 384.6 596.2 385.6 595.7C386.6 595.1 387.6 594.6 388.6 594.0C389.6 593.5 390.6 592.9 391.6 592.4C392.6 591.9 393.6 591.3 394.6 590.8C395.6 590.3 396.6 589.8 397.6 589.3C398.6 588.8 399.6 588.3 400.6 587.8C401.6 587.3 402.6 586.8 403.7 586.4C404.7 585.9 405.7 585.5 406.7 585.0C407.7 584.6 408.7 584.1 409.7 583.7C410.7 583.3 411.7 582.9 412.7 582.4C413.7 582.0 414.7 581.6 415.7 581.2C416.7 580.9 417.7 580.5 418.7 580.1C419.7 579.7 420.7 579.4 421.7 579.0C422.7 578.7 423.7 578.3 424.7 578.0C425.7 577.7 426.7 577.4 427.7 577.1C428.7 576.7 429.7 576.4 430.7 576.2C431.7 575.9 432.7 575.6 433.7 575.3C434.7 575.1 435.7 574.8 436.7 574.6C437.7 574.3 438.7 574.1 439.7 573.9C440.7 573.7 441.7 573.5 442.7 573.3C443.7 573.1 444.7 572.9 445.7 572.7C446.7 572.5 447.7 572.4 448.7 572.2C449.7 572.1 450.7 572.0 451.7 571.8C452.7 571.7 453.7 571.6 454.7 571.5C455.7 571.4 456.7 571.3 457.7 571.3C458.7 571.2 459.8 571.1 460.8 571.1C461.8 571.0 462.8 571.0 463.8 571.0C464.8 571.0 465.8 571.0 466.8 571.0C467.8 571.0 468.8 571.0 469.8 571.0C470.8 571.1 471.8 571.1 472.8 571.2C473.8 571.3 474.8 571.4 475.8 571.5C476.8 571.6 477.8 571.7 478.8 571.8C479.8 572.0 480.8 572.1 481.8 572.3C482.8 572.4 483.8 572.6 484.8 572.8C485.8 573.0 486.8 573.3 487.8 573.5C488.8 573.7 489.8 574.0 490.8 574.3C491.8 574.5 492.8 574.8 493.8 575.2C494.8 575.5 495.8 575.8 496.8 576.2C497.8 576.5 498.8 576.9 499.8 577.3C500.8 577.7 501.8 578.1 502.8 578.5C503.8 578.9 504.8 579.4 505.8 579.9C506.8 580.3 507.8 580.8 508.8 581.3C509.8 581.9 510.8 582.4 511.8 583.0C512.8 583.5 513.8 584.1 514.8 584.7C515.9 585.3 516.9 585.9 517.9 586.6C518.9 587.2 519.9 587.9 520.9 588.6C521.9 589.3 522.9 590.0 523.9 590.8C524.9 591.5 525.9 592.3 526.9 593.1C527.9 593.8 528.9 594.6 529.9 595.5C530.9 596.3 531.9 597.1 532.9 598.0C533.9 598.8 534.9 599.7 535.9 600.6C536.9 601.5 537.9 602.4 538.9 603.3C539.9 604.2 540.9 605.1 541.9 606.1C542.9 607.0 543.9 608.0 544.9 608.9C545.9 609.9 546.9 610.9 547.9 611.9C548.9 612.8 549.9 613.8 550.9 614.8C551.9 615.8 552.9 616.8 553.9 617.8C554.9 618.8 555.9 619.8 556.9 620.9C557.9 621.9 558.9 622.9 559.9 623.9C560.9 624.9 561.9 626.0 562.9 627.0C563.9 628.0 564.9 629.0 565.9 630.1C566.9 631.1 567.9 632.1 568.9 633.1C569.9 634.1 570.9 635.2 571.9 636.2C573.0 637.2 574.0 638.2 575.0 639.2C576.0 640.2 577.0 641.2 578.0 642.2C579.0 643.2 580.0 644.1 581.0 645.1C582.0 646.1 583.0 647.0 584.0 648.0C585.0 648.9 586.0 649.9 587.0 650.8C588.0 651.7 589.0 652.6 590.0 653.5C591.0 654.4 592.0 655.3 593.0 656.2C594.0 657.1 595.0 658.0 596.0 658.8C597.0 659.7 598.0 660.6 599.0 661.4C600.0 662.2 601.0 663.1 602.0 663.9C603.0 664.7 604.0 665.5 605.0 666.3C606.0 667.1 607.0 667.9 608.0 668.7C609.0 669.4 610.0 670.2 611.0 671.0C612.0 671.7 613.0 672.5 614.0 673.2C615.0 673.9 616.0 674.7 617.0 675.4C618.0 676.1 619.0 676.8 620.0 677.5C621.0 678.2 622.0 678.9 623.0 679.6C624.0 680.2 625.0 680.9 626.0 681.6C627.0 682.2 628.0 682.9 629.1 683.5C630.1 684.1 631.1 684.8 632.1 685.4C633.1 686.0 634.1 686.6 635.1 687.2C636.1 687.8 637.1 688.4 638.1 689.0C639.1 689.5 640.1 690.1 641.1 690.7C642.1 691.2 643.1 691.8 644.1 692.3C645.1 692.8 646.1 693.4 647.1 693.9C648.1 694.4 649.1 694.9 650.1 695.4C651.1 695.9 652.1 696.4 653.1 696.9C654.1 697.4 655.1 697.9 656.1 698.3C657.1 698.8 658.1 699.2 659.1 699.7C660.1 700.1 661.1 700.5 662.1 700.9C663.1 701.3 664.1 701.7 665.1 702.1C666.1 702.4 667.1 702.8 668.1 703.1C669.1 703.4 670.1 703.6 671.1 703.9C672.1 704.1 673.1 704.3 674.1 704.5C675.1 704.7 676.1 704.8 677.1 704.9C678.1 705.0 679.1 705.0 680.1 705.0C681.1 705.1 682.1 705.0 683.1 704.9C684.1 704.8 685.1 704.7 686.2 704.5C687.2 704.3 688.2 704.1 689.2 703.8C690.2 703.5 691.2 703.1 692.2 702.7C693.2 702.3 694.2 701.8 695.2 701.2C696.2 700.6 697.2 699.9 698.2 699.2C699.2 698.4 700.2 697.6 701.2 696.6C702.2 695.7 703.2 694.6 704.2 693.5C705.2 692.4 706.2 691.2 707.2 690.1C708.2 689.0 709.2 687.8 710.2 686.8C711.2 685.7 712.2 684.6 713.2 683.7C714.2 682.7 715.2 681.7 716.2 680.8C717.2 679.9 718.2 679.1 719.2 678.3C720.2 677.6 721.2 676.9 722.2 676.2C723.2 675.6 724.2 675.1 725.2 674.6C726.2 674.1 727.2 673.7 728.2 673.5C729.2 673.2 730.2 673.0 731.2 672.9C732.2 672.9 733.2 672.9 734.2 673.1C735.2 673.3 736.2 673.7 737.2 674.2C738.2 674.6 739.2 675.3 740.2 676.0C741.2 676.7 742.3 677.5 743.3 678.3C744.3 679.0 745.3 679.8 746.3 680.4C747.3 681.1 748.3 681.7 749.3 682.2C750.3 682.8 751.3 683.2 752.3 683.4C753.3 683.7 754.3 683.8 755.3 683.8C756.3 683.7 757.3 683.5 758.3 683.1C759.3 682.7 760.3 682.2 761.3 681.6C762.3 681.1 763.3 680.5 764.3 679.9C765.3 679.4 766.3 678.9 767.3 678.6C768.3 678.2 769.3 677.9 770.3 677.7C771.3 677.6 772.3 677.6 773.3 677.7C774.3 677.9 775.3 678.3 776.3 678.8C777.3 679.4 778.3 680.1 779.3 680.9C780.3 681.7 781.3 682.6 782.3 683.5C783.3 684.5 784.3 685.4 785.3 686.3C786.3 687.3 787.3 688.1 788.3 688.9C789.3 689.7 790.3 690.4 791.3 691.0C792.3 691.7 793.3 692.3 794.3 693.0C795.3 693.6 796.3 694.2 797.3 694.8C798.4 695.4 799.4 696.1 800.4 696.7C801.4 697.2 802.4 697.8 803.4 698.4C804.4 698.9 805.4 699.5 806.4 700.0C807.4 700.5 808.4 701.0 809.4 701.5C810.4 702.0 811.4 702.5 812.4 702.9C813.4 703.4 814.4 703.8 815.4 704.2C816.4 704.6 817.4 705.0 818.4 705.4C819.4 705.8 820.4 706.2 821.4 706.6C822.4 706.9 823.4 707.3 824.4 707.6C825.4 708.0 826.4 708.3 827.4 708.6C828.4 708.9 829.4 709.3 830.4 709.6C831.4 709.9 832.4 710.2 833.4 710.4C834.4 710.7 835.4 711.0 836.4 711.3C837.4 711.5 838.4 711.8 839.4 712.1C840.4 712.3 841.4 712.6 842.4 712.8C843.4 713.1 844.4 713.3 845.4 713.5C846.4 713.8 847.4 714.0 848.4 714.2C849.4 714.4 850.4 714.6 851.4 714.8C852.4 715.0 853.4 715.2 854.4 715.4C855.5 715.6 856.5 715.8 857.5 716.0C858.5 716.2 859.5 716.3 860.5 716.5C861.5 716.7 862.5 716.8 863.5 717.0C864.5 717.2 865.5 717.3 866.5 717.5C867.5 717.6 868.5 717.8 869.5 717.9C870.5 718.0 871.5 718.2 872.5 718.3C873.5 718.4 874.5 718.6 875.5 718.7C876.5 718.8 877.5 718.9 878.5 719.0C879.5 719.1 880.5 719.2 881.5 719.4C882.5 719.5 883.5 719.6 884.5 719.7C885.5 719.7 886.5 719.8 887.5 719.9C888.5 720.0 889.5 720.1 890.5 720.2C891.5 720.3 892.5 720.4 893.5 720.4C894.5 720.5 895.5 720.6 896.5 720.7C897.5 720.7 898.5 720.8 899.5 720.9C900.5 720.9 901.5 721.0 902.5 721.0C903.5 721.1 904.5 721.2 905.5 721.2C906.5 721.3 907.5 721.3 908.5 721.4C909.5 721.4 910.5 721.5 911.6 721.5C912.6 721.6 913.6 721.6 914.6 721.7C915.6 721.7 916.6 721.8 917.6 721.8C918.6 721.9 919.6 721.9 920.6 721.9C921.6 722.0 922.6 722.0 923.6 722.0C924.6 722.1 925.6 722.1 926.6 722.2C927.6 722.2 928.6 722.2 929.6 722.3C930.6 722.3 931.6 722.3 932.6 722.4C933.6 722.4 934.6 722.4 935.6 722.5C936.6 722.5 937.6 722.5 938.6 722.6C939.6 722.6 940.6 722.7 941.6 722.7C942.6 722.7 943.6 722.8 944.6 722.8C945.6 722.8 946.6 722.9 947.6 722.9C948.6 722.9 949.6 723.0 950.6 723.0C951.6 723.1 952.6 723.1 953.6 723.1C954.6 723.2 955.6 723.2 956.6 723.3C957.6 723.3 958.6 723.4 959.6 723.4C960.6 723.5 961.6 723.5 962.6 723.6C963.6 723.6 964.6 723.7 965.6 723.7C966.6 723.8 967.7 723.8 968.7 723.9C969.7 724.0 970.7 724.0 971.7 724.1C972.7 724.2 973.7 724.2 974.7 724.3C975.7 724.4 976.7 724.5 977.7 724.5C978.7 724.6 979.7 724.7 980.7 724.8C981.7 724.9 982.7 724.9 983.7 725.0C984.7 725.1 985.7 725.2 986.7 725.3C987.7 725.4 988.7 725.5 989.7 725.6C990.7 725.7 991.7 725.8 992.7 725.9C993.7 726.1 994.7 726.2 995.7 726.3"/>
<path stroke="#ff00ff" d="M1024.3 727.1C1025.3 727.1 1026.3 727.1 1027.3 727.0C1028.3 727.0 1029.3 727.0 1030.3 727.0C1031.3 726.9 1032.3 726.9 1033.3 726.8C1034.3 726.8 1035.3 726.7 1036.3 726.7C1037.3 726.6 1038.3 726.6 1039.3 726.5C1040.3 726.5 1041.3 726.4 1042.3 726.3C1043.3 726.3 1044.3 726.2 1045.3 726.1C1046.3 726.0 1047.3 725.9 1048.3 725.9C1049.3 725.8 1050.3 725.7 1051.3 725.6C1052.3 725.5 1053.3 725.4 1054.3 725.3C1055.3 725.2 1056.3 725.1 1057.3 725.0C1058.3 724.9 1059.3 724.7 1060.3 724.6C1061.3 724.5 1062.3 724.4 1063.3 724.3C1064.3 724.1 1065.3 724.0 1066.3 723.9C1067.3 723.8 1068.3 723.6 1069.3 723.5C1070.3 723.3 1071.3 723.2 1072.3 723.1C1073.3 722.9 1074.3 722.8 1075.3 722.6C1076.3 722.5 1077.3 722.3 1078.3 722.2C1079.3 722.0 1080.3 721.8 1081.3 721.7C1082.3 721.5 1083.3 721.3 1084.3 721.2C1085.3 721.0 1086.3 720.8 1087.3 720.6C1088.3 720.4 1089.3 720.1 1090.3 719.9C1091.3 719.6 1092.3 719.4 1093.3 719.1C1094.3 718.8 1095.3 718.5 1096.3 718.1C1097.3 717.8 1098.3 717.4 1099.3 717.0C1100.3 716.5 1101.3 716.1 1102.3 715.6C1103.3 715.1 1104.3 714.6 1105.3 714.1C1106.3 713.5 1107.3 713.0 1108.3 712.4C1109.3 711.8 1110.3 711.2 1111.3 710.5C1112.3 709.9 1113.3 709.3 1114.3 708.6C1115.3 708.0 1116.3 707.3 1117.3 706.7C1118.3 706.0 1119.3 705.3 1120.3 704.7C1121.3 704.0 1122.3 703.3 1123.3 702.7C1124.4 702.0 1125.4 701.4 1126.4 700.8C1127.4 700.1 1128.4 699.5 1129.4 698.9C1130.4 698.4 1131.4 697.8 1132.4 697.3C1133.4 696.8 1134.4 696.3 1135.4 695.9C1136.4 695.4 1137.4 695.0 1138.4 694.7C1139.4 694.4 1140.4 694.1 1141.4 693.9C1142.4 693.7 1143.4 693.6 1144.4 693.5C1145.4 693.4 1146.4 693.4 1147.4 693.5C1148.4 693.6 1149.4 693.8 1150.4 694.1C1151.4 694.4 1152.4 694.8 1153.4 695.3C1154.4 695.8 1155.4 696.4 1156.4 697.1C1157.4 697.8 1158.4 698.5 1159.4 699.2C1160.4 699.9 1161.4 700.6 1162.4 701.2C1163.4 701.8 1164.4 702.4 1165.4 703.0C1166.4 703.5 1167.4 704.1 1168.4 704.7C1169.4 705.3 1170.4 705.9 1171.4 706.6C1172.4 707.3 1173.4 708.0 1174.4 708.6C1175.4 709.3 1176.4 709.9 1177.4 710.4C1178.4 710.9 1179.4 711.3 1180.4 711.7C1181.4 712.1 1182.4 712.4 1183.4 712.6C1184.4 712.9 1185.4 713.2 1186.4 713.4C1187.4 713.6 1188.4 713.8 1189.4 714.0C1190.4 714.2 1191.4 714.4 1192.4 714.5C1193.4 714.6 1194.4 714.8 1195.4 714.9C1196.4 715.0 1197.4 715.1 1198.4 715.2C1199.4 715.2 1200.4 715.3 1201.4 715.3C1202.4 715.4 1203.4 715.4 1204.4 715.5C1205.4 715.5 1206.4 715.5 1207.4 715.5C1208.4 715.5 1209.4 715.5 1210.4 715.5C1211.4 715.5 1212.4 715.5 1213.4 715.4C1214.4 715.4 1215.4 715.4 1216.4 715.4C1217.4 715.3 1218.4 715.3 1219.4 715.3C1220.4 715.2 1221.4 715.2 1222.4 715.2C1223.4 715.1 1224.4 715.1 1225.4 715.1C1226.4 715.0 1227.4 715.0 1228.4 715.0C1229.4 715.0 1230.4 715.0 1231.4 714.9C1232.4 714.9 1233.4 714.9 1234.4 714.9C1235.4 714.9 1236.4 714.8 1237.4 714.8C1238.4 714.8 1239.4 714.7 1240.4 714.7C1241.4 714.6 1242.4 714.6 1243.4 714.5C1244.4 714.4 1245.4 714.3 1246.4 714.2C1247.4 714.1 1248.4 714.0 1249.4 713.8C1250.4 713.7 1251.4 713.5 1252.4 713.3C1253.4 713.1 1254.4 712.8 1255.4 712.6C1256.4 712.3 1257.4 712.0 1258.4 711.7C1259.4 711.4 1260.4 711.0 1261.4 710.6C1262.4 710.2 1263.4 709.8 1264.4 709.3C1265.4 708.9 1266.4 708.3 1267.4 707.8C1268.4 707.2 1269.4 706.6 1270.4 705.8C1271.4 705.1 1272.4 704.4 1273.4 703.5C1274.4 702.6 1275.4 701.7 1276.4 700.6C1277.4 699.4 1278.4 698.0 1279.4 696.2C1280.4 694.5 1281.4 692.3 1282.4 690.3C1283.4 688.2 1284.4 686.3 1285.4 684.8C1286.4 683.3 1287.4 682.0 1288.4 680.7C1289.4 679.4 1290.4 677.9 1291.4 676.6C1292.4 675.3 1293.4 674.3 1294.4 673.8C1295.4 673.3 1296.4 673.3 1297.4 673.4C1298.4 673.6 1299.4 673.9 1300.4 674.1C1301.4 674.4 1302.4 674.5 1303.4 674.4C1304.4 674.3 1305.4 674.0 1306.4 673.6C1307.4 673.2 1308.4 672.7 1309.4 672.2C1310.4 671.7 1311.4 671.1 1312.4 670.6C1313.4 670.1 1314.4 669.5 1315.4 669.0C1316.4 668.4 1317.4 667.9 1318.4 667.4C1319.4 666.8 1320.4 666.3 1321.5 665.8C1322.5 665.4 1323.5 664.9 1324.5 664.5C1325.5 664.1 1326.5 663.8 1327.5 663.6C1328.5 663.3 1329.5 663.2 1330.5 663.2C1331.5 663.2 1332.5 663.3 1333.5 663.6C1334.5 663.9 1335.5 664.4 1336.5 664.9C1337.5 665.5 1338.5 666.1 1339.5 666.8C1340.5 667.5 1341.5 668.2 1342.5 668.9C1343.5 669.6 1344.5 670.2 1345.5 670.8C1346.5 671.4 1347.5 671.8 1348.5 672.2C1349.5 672.5 1350.5 672.8 1351.5 672.9C1352.5 673.0 1353.5 673.0 1354.5 673.0C1355.5 672.9 1356.5 672.8 1357.5 672.7C1358.5 672.6 1359.5 672.5 1360.5 672.4C1361.5 672.2 1362.5 672.1 1363.5 672.0C1364.5 671.9 1365.5 671.8 1366.5 671.7C1367.5 671.6 1368.5 671.5 1369.5 671.4C1370.5 671.4 1371.5 671.3 1372.5 671.3C1373.5 671.2 1374.5 671.2 1375.5 671.2C1376.5 671.2 1377.5 671.1 1378.5 671.0C1379.5 670.9 1380.5 670.8 1381.5 670.6C1382.5 670.5 1383.5 670.2 1384.5 670.0C1385.5 669.7 1386.5 669.4 1387.5 669.2C1388.5 668.9 1389.5 668.7 1390.5 668.5C1391.5 668.4 1392.5 668.3 1393.5 668.3C1394.5 668.3 1395.5 668.4 1396.5 668.6C1397.5 668.8 1398.5 669.2 1399.5 669.6C1400.5 670.0 1401.5 670.5 1402.5 671.1C1403.5 671.6 1404.5 672.2 1405.5 672.7C1406.5 673.3 1407.5 673.8 1408.5 674.3C1409.5 674.8 1410.5 675.2 1411.5 675.6C1412.5 675.9 1413.5 676.2 1414.5 676.5C1415.5 676.8 1416.5 677.0 1417.5 677.2C1418.5 677.5 1419.5 677.7 1420.5 677.9C1421.5 678.1 1422.5 678.3 1423.5 678.5C1424.5 678.8 1425.5 679.0 1426.5 679.3C1427.5 679.6 1428.5 679.9 1429.5 680.3C1430.5 680.6 1431.5 680.9 1432.5 681.3C1433.5 681.7 1434.5 682.0 1435.5 682.4C1436.5 682.7 1437.5 683.1 1438.5 683.4C1439.5 683.8 1440.5 684.1 1441.5 684.4C1442.5 684.7 1443.5 684.9 1444.5 685.1C1445.5 685.3 1446.5 685.5 1447.5 685.5C1448.5 685.6 1449.5 685.5 1450.5 685.4C1451.5 685.3 1452.5 685.0 1453.5 684.8C1454.5 684.5 1455.5 684.1 1456.5 683.8C1457.5 683.4 1458.5 683.0 1459.5 682.6C1460.5 682.2 1461.5 681.9 1462.5 681.5C1463.5 681.2 1464.5 680.9 1465.5 680.7C1466.5 680.5 1467.5 680.4 1468.5 680.3C1469.5 680.2 1470.5 680.1 1471.5 680.1C1472.5 680.1 1473.5 680.1 1474.5 680.1C1475.5 680.2 1476.5 680.2 1477.5 680.3C1478.5 680.3 1479.5 680.4 1480.5 680.4C1481.5 680.4 1482.5 680.5 1483.5 680.5C1484.5 680.5 1485.5 680.4 1486.5 680.3C1487.5 680.3 1488.5 680.2 1489.5 680.2C1490.5 680.1 1491.5 680.2 1492.5 680.3C1493.5 680.4 1494.5 680.6 1495.5 680.9C1496.5 681.3 1497.5 681.8 1498.5 682.6C1499.5 683.3 1500.5 684.3 1501.5 685.4C1502.5 686.5 1503.5 687.7 1504.5 689.0C1505.5 690.3 1506.5 691.6 1507.5 692.8C1508.5 694.0 1509.5 695.2 1510.5 696.2C1511.5 697.2 1512.5 698.0 1513.5 698.6C1514.5 699.1 1515.5 699.4 1516.5 699.5C1517.5 699.7 1518.5 699.7 1519.5 699.6C1520.6 699.6 1521.6 699.4 1522.6 698.8C1523.6 698.2 1524.6 697.2 1525.6 695.5C1526.6 693.8 1527.6 691.3 1528.6 688.1C1529.6 684.9 1530.6 681.3 1531.6 678.4C1532.6 675.5 1533.6 673.2 1534.6 671.7C1535.6 670.2 1536.6 669.5 1537.6 669.9C1538.6 670.2 1539.6 671.7 1540.6 673.3C1541.6 675.0 1542.6 676.7 1543.6 678.2C1544.6 679.8 1545.6 681.2 1546.6 682.3C1547.6 683.4 1548.6 684.2 1549.6 684.3C1550.6 684.4 1551.6 683.7 1552.6 682.0C1553.6 680.3 1554.6 677.5 1555.6 673.6C1556.6 669.7 1557.6 664.9 1558.6 659.6C1559.6 654.3 1560.6 648.6 1561.6 642.9C1562.6 637.3 1563.6 631.7 1564.6 626.7C1565.6 621.7 1566.6 617.3 1567.6 614.2C1568.6 611.0 1569.6 609.3 1570.6 608.6C1571.6 607.9 1572.6 607.9 1573.6 608.4C1574.6 608.8 1575.6 609.8 1576.6 611.5C1577.6 613.3 1578.6 615.9 1579.6 618.2C1580.6 620.6 1581.6 622.5 1582.6 623.6C1583.6 624.7 1584.6 625.2 1585.6 624.8C1586.6 624.5 1587.6 623.4 1588.6 621.8C1589.6 620.1 1590.6 617.7 1591.6 615.7C1592.6 613.6 1593.6 612.2 1594.6 611.7C1595.6 611.1 1596.6 611.4 1597.6 612.4C1598.6 613.4 1599.6 615.5 1600.6 617.0C1601.6 618.5 1602.6 619.1 1603.6 617.5C1604.6 615.9 1605.6 612.1 1606.6 607.1C1607.6 602.0 1608.6 596.1 1609.6 590.0C1610.6 583.8 1611.6 577.3 1612.6 570.5C1613.6 563.8 1614.6 556.8 1615.6 549.6C1616.6 542.5 1617.6 535.0 1618.6 526.7C1619.6 518.3 1620.6 508.9 1621.6 499.8C1622.6 490.6 1623.6 481.9 1624.6 474.0C1625.6 466.2 1626.6 459.1 1627.6 452.8C1628.6 446.5 1629.6 441.0 1630.6 436.5C1631.6 431.9 1632.6 428.1 1633.6 424.6C1634.6 421.0 1635.6 417.7 1636.6 415.1C1637.6 412.6 1638.6 410.8 1639.6 411.1C1640.6 411.3 1641.6 413.9 1642.6 419.8C1643.6 425.8 1644.6 434.5 1645.6 443.1C1646.6 451.6 1647.6 460.7 1648.6 470.4C1649.6 480.0 1650.6 490.0 1651.6 497.2C1652.6 504.3 1653.6 507.4 1654.6 507.8C1655.6 508.3 1656.6 506.6 1657.6 504.5C1658.6 502.4 1659.6 500.0 1660.6 499.2C1661.6 498.3 1662.6 498.6 1663.6 500.6C1664.6 502.6 1665.6 506.2 1666.6 511.7C1667.6 517.2 1668.6 525.1 1669.6 533.3C1670.6 541.6 1671.6 550.1 1672.6 557.4C1673.6 564.7 1674.6 571.0 1675.6 576.3C1676.6 581.6 1677.6 586.1 1678.6 591.0C1679.6 595.9 1680.6 601.1 1681.6 607.0C1682.6 612.8 1683.6 619.4 1684.6 626.1C1685.6 632.7 1686.6 639.4 1687.6 645.2C1688.6 651.0 1689.6 655.9 1690.6 659.4C1691.6 662.9 1692.6 665.2 1693.6 667.2C1694.6 669.1 1695.6 670.7 1696.6 671.7C1697.6 672.6 1698.6 672.8 1699.6 672.3C1700.6 671.8 1701.6 670.5 1702.6 668.6C1703.6 666.7 1704.6 664.1 1705.6 661.0C1706.6 657.9 1707.6 654.2 1708.6 650.2C1709.6 646.1 1710.6 641.6 1711.6 636.7C1712.6 631.7 1713.6 626.0 1714.6 622.2C1715.6 618.3 1716.6 616.6 1717.7 616.0C1718.7 615.5 1719.7 616.1 1720.7 617.1C1721.7 618.1 1722.7 619.6 1723.7 621.4C1724.7 623.2 1725.7 625.4 1726.7 627.7C1727.7 630.0 1728.7 632.4 1729.7 635.1C1730.7 637.9 1731.7 640.8 1732.7 643.9C1733.7 646.9 1734.7 650.0 1735.7 653.0C1736.7 656.1 1737.7 659.0 1738.7 661.4C1739.7 663.7 1740.7 665.3 1741.7 666.4C1742.7 667.5 1743.7 668.2 1744.7 668.8C1745.7 669.3 1746.7 669.6 1747.7 669.5C1748.7 669.4 1749.7 668.9 1750.7 667.7C1751.7 666.6 1752.7 664.9 1753.7 662.6C1754.7 660.2 1755.7 657.3 1756.7 653.9C1757.7 650.4 1758.7 646.3 1759.7 642.0C1760.7 637.8 1761.7 633.8 1762.7 631.1C1763.7 628.5 1764.7 626.9 1765.7 625.7C1766.7 624.5 1767.7 623.8 1768.7 622.8C1769.7 621.9 1770.7 620.7 1771.7 619.5C1772.7 618.3 1773.7 617.2 1774.7 616.5C1775.7 615.8 1776.7 615.4 1777.7 615.2C1778.7 615.0 1779.7 615.2 1780.7 616.3C1781.7 617.5 1782.7 619.5 1783.7 621.6C1784.7 623.8 1785.7 626.1 1786.7 628.2C1787.7 630.2 1788.7 632.0 1789.7 633.2C1790.7 634.4 1791.7 634.8 1792.7 634.7C1793.7 634.7 1794.7 634.1 1795.7 633.4C1796.7 632.7 1797.7 631.9 1798.7 631.3C1799.7 630.6 1800.7 630.3 1801.7 630.1C1802.7 629.8 1803.7 629.8 1804.7 629.8C1805.7 629.7 1806.7 629.7 1807.7 629.6C1808.7 629.6 1809.7 629.4 1810.7 629.0C1811.7 628.7 1812.7 628.1 1813.7 627.4C1814.7 626.8 1815.7 626.1 1816.7 625.5"/>
<path stroke="#008000" d="M205.3 509.5C206.3 509.2 207.3 508.9 208.3 508.5C209.3 508.2 210.3 507.9 211.3 507.5C212.3 507.2 213.3 506.8 214.3 506.5C215.3 506.1 216.3 505.7 217.3 505.4C218.3 505.0 219.3 504.6 220.3 504.2C221.3 503.8 222.3 503.4 223.3 503.0C224.3 502.6 225.3 502.2 226.3 501.8C227.3 501.4 228.3 501.0 229.3 500.5C230.3 500.1 231.3 499.7 232.3 499.2C233.3 498.8 234.4 498.3 235.4 497.9C236.4 497.4 237.4 497.0 238.4 496.5C239.4 496.0 240.4 495.5 241.4 495.1C242.4 494.6 243.4 494.1 244.4 493.6C245.4 493.1 246.4 492.6 247.4 492.1C248.4 491.6 249.4 491.1 250.4 490.6C251.4 490.1 252.4 489.6 253.4 489.1C254.4 488.5 255.4 488.0 256.4 487.5C257.4 487.0 258.4 486.4 259.4 485.9C260.4 485.4 261.4 484.8 262.4 484.3C263.4 483.7 264.4 483.2 265.4 482.6C266.4 482.1 267.4 481.5 268.4 481.0C269.4 480.4 270.4 479.8 271.4 479.3C272.4 478.7 273.4 478.1 274.4 477.6C275.4 477.0 276.4 476.4 277.4 475.8C278.4 475.3 279.4 474.7 280.4 474.1C281.4 473.5 282.4 472.9 283.4 472.3C284.4 471.8 285.4 471.2 286.4 470.6C287.4 470.0 288.4 469.4 289.4 468.8C290.5 468.2 291.5 467.6 292.5 467.0C293.5 466.4 294.5 465.8 295.5 465.2C296.5 464.6 297.5 464.0 298.5 463.4C299.5 462.8 300.5 462.2 301.5 461.6C302.5 461.0 303.5 460.4 304.5 459.8C305.5 459.2 306.5 458.6 307.5 458.0C308.5 457.3 309.5 456.7 310.5 456.1C311.5 455.5 312.5 454.9 313.5 454.3C314.5 453.7 315.5 453.1 316.5 452.5C317.5 451.9 318.5 451.3 319.5 450.7C320.5 450.1 321.5 449.5 322.5 448.8C323.5 448.2 324.5 447.6 325.5 447.0C326.5 446.4 327.5 445.8 328.5 445.2C329.5 444.6 330.5 444.0 331.5 443.4C332.5 442.8 333.5 442.2 334.5 441.7C335.5 441.1 336.5 440.5 337.5 439.9C338.5 439.3 339.5 438.7 340.5 438.1C341.5 437.5 342.5 437.0 343.5 436.4C344.5 435.8 345.5 435.2 346.6 434.6C347.6 434.1 348.6 433.5 349.6 432.9C350.6 432.4 351.6 431.8 352.6 431.2C353.6 430.7 354.6 430.1 355.6 429.5C356.6 429.0 357.6 428.4 358.6 427.9C359.6 427.3 360.6 426.8 361.6 426.3C362.6 425.7 363.6 425.2 364.6 424.6C365.6 424.1 366.6 423.6 367.6 423.1C368.6 422.5 369.6 422.0 370.6 421.5C371.6 421.0 372.6 420.5 373.6 420.0C374.6 419.5 375.6 419.0 376.6 418.5C377.6 418.0 378.6 417.5 379.6 417.0C380.6 416.5 381.6 416.0 382.6 415.6C383.6 415.1 384.6 414.6 385.6 414.2C386.6 413.7 387.6 413.3 388.6 412.8C389.6 412.4 390.6 411.9 391.6 411.5C392.6 411.0 393.6 410.6 394.6 410.2C395.6 409.8 396.6 409.3 397.6 408.9C398.6 408.5 399.6 408.1 400.6 407.7C401.6 407.3 402.6 406.9 403.7 406.5C404.7 406.2 405.7 405.8 406.7 405.4C407.7 405.1 408.7 404.7 409.7 404.3C410.7 404.0 411.7 403.6 412.7 403.3C413.7 403.0 414.7 402.6 415.7 402.3C416.7 402.0 417.7 401.7 418.7 401.4C419.7 401.1 420.7 400.8 421.7 400.5C422.7 400.2 423.7 399.9 424.7 399.7C425.7 399.4 426.7 399.2 427.7 398.9C428.7 398.7 429.7 398.4 430.7 398.2C431.7 397.9 432.7 397.7 433.7 397.5C434.7 397.3 435.7 397.1 436.7 396.9C437.7 396.7 438.7 396.5 439.7 396.4C440.7 396.2 441.7 396.0 442.7 395.9C443.7 395.7 444.7 395.6 445.7 395.5C446.7 395.3 447.7 395.2 448.7 395.1C449.7 395.0 450.7 394.9 451.7 394.8C452.7 394.7 453.7 394.6 454.7 394.6C455.7 394.5 456.7 394.5 457.7 394.4C458.7 394.4 459.8 394.3 460.8 394.3C461.8 394.3 462.8 394.3 463.8 394.3C464.8 394.3 465.8 394.3 466.8 394.4C467.8 394.4 468.8 394.4 469.8 394.5C470.8 394.6 471.8 394.6 472.8 394.7C473.8 394.8 474.8 394.9 475.8 395.0C476.8 395.1 477.8 395.2 478.8 395.3C479.8 395.5 480.8 395.6 481.8 395.8C482.8 395.9 483.8 396.1 484.8 396.3C485.8 396.5 486.8 396.7 487.8 396.9C488.8 397.1 489.8 397.3 490.8 397.6C491.8 397.8 492.8 398.1 493.8 398.3C494.8 398.6 495.8 398.9 496.8 399.2C497.8 399.5 498.8 399.8 499.8 400.1C500.8 400.5 501.8 400.8 502.8 401.2C503.8 401.5 504.8 401.9 505.8 402.3C506.8 402.7 507.8 403.1 508.8 403.5C509.8 403.9 510.8 404.4 511.8 404.8C512.8 405.3 513.8 405.7 514.8 406.2C515.9 406.7 516.9 407.2 517.9 407.7C518.9 408.2 519.9 408.7 520.9 409.3C521.9 409.8 522.9 410.4 523.9 411.0C524.9 411.6 525.9 412.2 526.9 412.8C527.9 413.4 528.9 414.0 529.9 414.6C530.9 415.3 531.9 415.9 532.9 416.6C533.9 417.2 534.9 417.9 535.9 418.6C536.9 419.3 537.9 419.9 538.9 420.6C539.9 421.4 540.9 422.1 541.9 422.8C542.9 423.5 543.9 424.2 544.9 425.0C545.9 425.7 546.9 426.5 547.9 427.2C548.9 428.0 549.9 428.7 550.9 429.5C551.9 430.3 552.9 431.0 553.9 431.8C554.9 432.6 555.9 433.4 556.9 434.2C557.9 435.0 558.9 435.8 559.9 436.5C560.9 437.3 561.9 438.1 562.9 438.9C563.9 439.7 564.9 440.5 565.9 441.3C566.9 442.1 567.9 443.0 568.9 443.8C569.9 444.6 570.9 445.4 571.9 446.2C573.0 447.0 574.0 447.8 575.0 448.6C576.0 449.4 577.0 450.2 578.0 451.0C579.0 451.8 580.0 452.6 581.0 453.4C582.0 454.1 583.0 454.9 584.0 455.7C585.0 456.5 586.0 457.3 587.0 458.0C588.0 458.8 589.0 459.6 590.0 460.3C591.0 461.1 592.0 461.8 593.0 462.6C594.0 463.3 595.0 464.1 596.0 464.8C597.0 465.6 598.0 466.3 599.0 467.0C600.0 467.7 601.0 468.4 602.0 469.1C603.0 469.9 604.0 470.6 605.0 471.2C606.0 471.9 607.0 472.6 608.0 473.3C609.0 474.0 610.0 474.6 611.0 475.3C612.0 476.0 613.0 476.6 614.0 477.2C615.0 477.9 616.0 478.5 617.0 479.1C618.0 479.8 619.0 480.4 620.0 481.0C621.0 481.6 622.0 482.2 623.0 482.8C624.0 483.3 625.0 483.9 626.0 484.5C627.0 485.0 628.0 485.6 629.1 486.1C630.1 486.7 631.1 487.2 632.1 487.7C633.1 488.2 634.1 488.7 635.1 489.2C636.1 489.7 637.1 490.2 638.1 490.7C639.1 491.1 640.1 491.6 641.1 492.0C642.1 492.5 643.1 492.9 644.1 493.3C645.1 493.7 646.1 494.1 647.1 494.5C648.1 494.9 649.1 495.3 650.1 495.7C651.1 496.0 652.1 496.4 653.1 496.7C654.1 497.0 655.1 497.4 656.1 497.7C657.1 498.0 658.1 498.3 659.1 498.5C660.1 498.8 661.1 499.1 662.1 499.3C663.1 499.6 664.1 499.8 665.1 500.0C666.1 500.3 667.1 500.5 668.1 500.7C669.1 500.9 670.1 501.1 671.1 501.3C672.1 501.5 673.1 501.7 674.1 501.8C675.1 502.0 676.1 502.2 677.1 502.3C678.1 502.5 679.1 502.6 680.1 502.8C681.1 502.9 682.1 503.1 683.1 503.1C684.1 503.2 685.1 503.3 686.2 503.3C687.2 503.3 688.2 503.2 689.2 503.0C690.2 502.8 691.2 502.5 692.2 502.1C693.2 501.8 694.2 501.3 695.2 500.7C696.2 500.1 697.2 499.4 698.2 498.6C699.2 497.9 700.2 497.1 701.2 496.2C702.2 495.3 703.2 494.4 704.2 493.4C705.2 492.5 706.2 491.5 707.2 490.5C708.2 489.5 709.2 488.5 710.2 487.6C711.2 486.6 712.2 485.7 713.2 484.9C714.2 484.1 715.2 483.3 716.2 482.6C717.2 481.9 718.2 481.3 719.2 480.7C720.2 480.1 721.2 479.6 722.2 479.1C723.2 478.7 724.2 478.2 725.2 477.9C726.2 477.5 727.2 477.2 728.2 476.9C729.2 476.7 730.2 476.5 731.2 476.3C732.2 476.1 733.2 476.0 734.2 476.1C735.2 476.1 736.2 476.3 737.2 476.7C738.2 477.2 739.2 477.8 740.2 478.6C741.2 479.4 742.3 480.3 743.3 481.1C744.3 482.0 745.3 482.8 746.3 483.5C747.3 484.2 748.3 484.7 749.3 485.1C750.3 485.5 751.3 485.7 752.3 485.8C753.3 485.8 754.3 485.8 755.3 485.6C756.3 485.5 757.3 485.3 758.3 485.0C759.3 484.7 760.3 484.3 761.3 484.0C762.3 483.7 763.3 483.3 764.3 483.0C765.3 482.7 766.3 482.4 767.3 482.2C768.3 482.0 769.3 481.9 770.3 481.9C771.3 481.9 772.3 481.9 773.3 482.1C774.3 482.3 775.3 482.6 776.3 482.9C777.3 483.3 778.3 483.7 779.3 484.3C780.3 484.8 781.3 485.4 782.3 486.1C783.3 486.8 784.3 487.5 785.3 488.2C786.3 488.9 787.3 489.5 788.3 490.0C789.3 490.4 790.3 490.7 791.3 491.0C792.3 491.3 793.3 491.6 794.3 492.0C795.3 492.3 796.3 492.9 797.3 493.5C798.4 494.1 799.4 494.8 800.4 495.5C801.4 496.2 802.4 496.9 803.4 497.5C804.4 498.1 805.4 498.7 806.4 499.2C807.4 499.8 808.4 500.3 809.4 500.8C810.4 501.3 811.4 501.8 812.4 502.3C813.4 502.7 814.4 503.2 815.4 503.6C816.4 504.0 817.4 504.4 818.4 504.8C819.4 505.2 820.4 505.6 821.4 505.9C822.4 506.3 823.4 506.6 824.4 506.9C825.4 507.2 826.4 507.5 827.4 507.8C828.4 508.1 829.4 508.4 830.4 508.6C831.4 508.9 832.4 509.1 833.4 509.4C834.4 509.6 835.4 509.8 836.4 510.1C837.4 510.3 838.4 510.5 839.4 510.7C840.4 510.9 841.4 511.0 842.4 511.2C843.4 511.4 844.4 511.6 845.4 511.7C846.4 511.9 847.4 512.1 848.4 512.2C849.4 512.4 850.4 512.5 851.4 512.6C852.4 512.8 853.4 512.9 854.4 513.1C855.5 513.2 856.5 513.3 857.5 513.5C858.5 513.6 859.5 513.7 860.5 513.8C861.5 514.0 862.5 514.1 863.5 514.2C864.5 514.3 865.5 514.4 866.5 514.5C867.5 514.6 868.5 514.7 869.5 514.8C870.5 514.9 871.5 515.0 872.5 515.1C873.5 515.2 874.5 515.3 875.5 515.4C876.5 515.5 877.5 515.6 878.5 515.7C879.5 515.8 880.5 515.9 881.5 516.0C882.5 516.0 883.5 516.1 884.5 516.2C885.5 516.3 886.5 516.3 887.5 516.4C888.5 516.5 889.5 516.6 890.5 516.6C891.5 516.7 892.5 516.8 893.5 516.8C894.5 516.9 895.5 517.0 896.5 517.0C897.5 517.1 898.5 517.1 899.5 517.2C900.5 517.3 901.5 517.3 902.5 517.4C903.5 517.4 904.5 517.5 905.5 517.5C906.5 517.6 907.5 517.6 908.5 517.7C909.5 517.7 910.5 517.8 911.6 517.8C912.6 517.9 913.6 517.9 914.6 518.0C915.6 518.0 916.6 518.0 917.6 518.1C918.6 518.1 919.6 518.2 920.6 518.2C921.6 518.2 922.6 518.3 923.6 518.3C924.6 518.4 925.6 518.4 926.6 518.4C927.6 518.5 928.6 518.5 929.6 518.5C930.6 518.6 931.6 518.6 932.6 518.7C933.6 518.7 934.6 518.7 935.6 518.8C936.6 518.8 937.6 518.8 938.6 518.9C939.6 518.9 940.6 518.9 941.6 519.0C942.6 519.0 943.6 519.0 944.6 519.1C945.6 519.1 946.6 519.1 947.6 519.2C948.6 519.2 949.6 519.2 950.6 519.3C951.6 519.3 952.6 519.4 953.6 519.4C954.6 519.4 955.6 519.5 956.6 519.5C957.6 519.5 958.6 519.6 959.6 519.6C960.6 519.7 961.6 519.7 962.6 519.7C963.6 519.8 964.6 519.8 965.6 519.9C966.6 519.9 967.7 520.0 968.7 520.0C969.7 520.1 970.7 520.1 971.7 520.1C972.7 520.2 973.7 520.2 974.7 520.3C975.7 520.3 976.7 520.4 977.7 520.4C978.7 520.5 979.7 520.6 980.7 520.6C981.7 520.7 982.7 520.7 983.7 520.8C984.7 520.8 985.7 520.9 986.7 521.0C987.7 521.0 988.7 521.1 989.7 521.2C990.7 521.2 991.7 521.3 992.7 521.4C993.7 521.5 994.7 521.5 995.7 521.6"/>
<path stroke="#008000" d="M1024.3 522.4C1025.3 522.4 1026.3 522.3 1027.3 522.3C1028.3 522.3 1029.3 522.3 1030.3 522.2C1031.3 522.2 1032.3 522.1 1033.3 522.0C1034.3 522.0 1035.3 521.9 1036.3 521.8C1037.3 521.8 1038.3 521.7 1039.3 521.6C1040.3 521.5 1041.3 521.4 1042.3 521.3C1043.3 521.2 1044.3 521.1 1045.3 521.0C1046.3 520.9 1047.3 520.7 1048.3 520.6C1049.3 520.5 1050.3 520.4 1051.3 520.2C1052.3 520.1 1053.3 520.0 1054.3 519.8C1055.3 519.7 1056.3 519.5 1057.3 519.4C1058.3 519.2 1059.3 519.1 1060.3 518.9C1061.3 518.8 1062.3 518.6 1063.3 518.5C1064.3 518.3 1065.3 518.2 1066.3 518.0C1067.3 517.8 1068.3 517.7 1069.3 517.5C1070.3 517.4 1071.3 517.2 1072.3 517.1C1073.3 516.9 1074.3 516.7 1075.3 516.6C1076.3 516.4 1077.3 516.3 1078.3 516.1C1079.3 516.0 1080.3 515.8 1081.3 515.7C1082.3 515.5 1083.3 515.4 1084.3 515.2C1085.3 515.0 1086.3 514.9 1087.3 514.7C1088.3 514.5 1089.3 514.3 1090.3 514.1C1091.3 513.9 1092.3 513.6 1093.3 513.4C1094.3 513.1 1095.3 512.8 1096.3 512.5C1097.3 512.2 1098.3 511.9 1099.3 511.5C1100.3 511.1 1101.3 510.7 1102.3 510.2C1103.3 509.8 1104.3 509.3 1105.3 508.8C1106.3 508.3 1107.3 507.7 1108.3 507.2C1109.3 506.6 1110.3 506.0 1111.3 505.4C1112.3 504.8 1113.3 504.2 1114.3 503.6C1115.3 503.0 1116.3 502.4 1117.3 501.8C1118.3 501.1 1119.3 500.5 1120.3 499.9C1121.3 499.3 1122.3 498.7 1123.3 498.1C1124.4 497.5 1125.4 496.9 1126.4 496.3C1127.4 495.7 1128.4 495.1 1129.4 494.6C1130.4 494.1 1131.4 493.5 1132.4 493.1C1133.4 492.6 1134.4 492.1 1135.4 491.7C1136.4 491.3 1137.4 490.9 1138.4 490.5C1139.4 490.2 1140.4 489.9 1141.4 489.7C1142.4 489.4 1143.4 489.3 1144.4 489.1C1145.4 489.0 1146.4 489.0 1147.4 489.0C1148.4 489.0 1149.4 489.1 1150.4 489.3C1151.4 489.5 1152.4 489.8 1153.4 490.2C1154.4 490.5 1155.4 491.0 1156.4 491.5C1157.4 492.1 1158.4 492.7 1159.4 493.4C1160.4 494.0 1161.4 494.7 1162.4 495.5C1163.4 496.2 1164.4 496.9 1165.4 497.7C1166.4 498.4 1167.4 499.1 1168.4 499.8C1169.4 500.5 1170.4 501.2 1171.4 501.8C1172.4 502.4 1173.4 503.0 1174.4 503.5C1175.4 504.1 1176.4 504.6 1177.4 505.0C1178.4 505.5 1179.4 505.9 1180.4 506.3C1181.4 506.8 1182.4 507.1 1183.4 507.5C1184.4 507.8 1185.4 508.2 1186.4 508.5C1187.4 508.7 1188.4 509.0 1189.4 509.3C1190.4 509.5 1191.4 509.7 1192.4 509.9C1193.4 510.1 1194.4 510.3 1195.4 510.4C1196.4 510.6 1197.4 510.7 1198.4 510.8C1199.4 510.9 1200.4 511.0 1201.4 511.1C1202.4 511.2 1203.4 511.3 1204.4 511.3C1205.4 511.3 1206.4 511.4 1207.4 511.4C1208.4 511.4 1209.4 511.4 1210.4 511.4C1211.4 511.4 1212.4 511.4 1213.4 511.4C1214.4 511.4 1215.4 511.4 1216.4 511.4C1217.4 511.3 1218.4 511.3 1219.4 511.3C1220.4 511.2 1221.4 511.2 1222.4 511.1C1223.4 511.1 1224.4 511.1 1225.4 511.0C1226.4 511.0 1227.4 510.9 1228.4 510.9C1229.4 510.8 1230.4 510.8 1231.4 510.7C1232.4 510.7 1233.4 510.7 1234.4 510.6C1235.4 510.6 1236.4 510.5 1237.4 510.5C1238.4 510.5 1239.4 510.4 1240.4 510.4C1241.4 510.4 1242.4 510.4 1243.4 510.4C1244.4 510.3 1245.4 510.3 1246.4 510.3C1247.4 510.3 1248.4 510.2 1249.4 510.2C1250.4 510.1 1251.4 510.1 1252.4 510.0C1253.4 509.9 1254.4 509.8 1255.4 509.6C1256.4 509.5 1257.4 509.3 1258.4 509.1C1259.4 508.9 1260.4 508.6 1261.4 508.3C1262.4 508.0 1263.4 507.6 1264.4 507.2C1265.4 506.8 1266.4 506.4 1267.4 505.9C1268.4 505.4 1269.4 504.8 1270.4 504.1C1271.4 503.5 1272.4 502.8 1273.4 501.9C1274.4 501.1 1275.4 500.1 1276.4 499.1C1277.4 498.0 1278.4 496.8 1279.4 495.4C1280.4 494.0 1281.4 492.5 1282.4 490.9C1283.4 489.3 1284.4 487.8 1285.4 486.3C1286.4 484.8 1287.4 483.3 1288.4 482.2C1289.4 481.0 1290.4 480.0 1291.4 479.3C1292.4 478.6 1293.4 478.1 1294.4 477.9C1295.4 477.6 1296.4 477.5 1297.4 477.6C1298.4 477.7 1299.4 478.0 1300.4 478.2C1301.4 478.3 1302.4 478.4 1303.4 478.3C1304.4 478.2 1305.4 477.9 1306.4 477.5C1307.4 477.1 1308.4 476.6 1309.4 476.0C1310.4 475.4 1311.4 474.8 1312.4 474.2C1313.4 473.6 1314.4 472.9 1315.4 472.4C1316.4 471.9 1317.4 471.4 1318.4 471.0C1319.4 470.6 1320.4 470.2 1321.5 469.9C1322.5 469.6 1323.5 469.4 1324.5 469.1C1325.5 468.9 1326.5 468.7 1327.5 468.5C1328.5 468.4 1329.5 468.3 1330.5 468.3C1331.5 468.3 1332.5 468.4 1333.5 468.7C1334.5 469.0 1335.5 469.4 1336.5 469.9C1337.5 470.4 1338.5 470.9 1339.5 471.4C1340.5 471.8 1341.5 472.3 1342.5 472.7C1343.5 473.0 1344.5 473.4 1345.5 473.7C1346.5 474.0 1347.5 474.3 1348.5 474.6C1349.5 474.8 1350.5 475.1 1351.5 475.3C1352.5 475.5 1353.5 475.6 1354.5 475.8C1355.5 475.9 1356.5 476.0 1357.5 476.1C1358.5 476.2 1359.5 476.2 1360.5 476.2C1361.5 476.2 1362.5 476.2 1363.5 476.1C1364.5 476.1 1365.5 476.0 1366.5 475.9C1367.5 475.8 1368.5 475.7 1369.5 475.5C1370.5 475.4 1371.5 475.3 1372.5 475.1C1373.5 474.9 1374.5 474.8 1375.5 474.6C1376.5 474.4 1377.5 474.3 1378.5 474.1C1379.5 473.9 1380.5 473.8 1381.5 473.6C1382.5 473.5 1383.5 473.3 1384.5 473.2C1385.5 473.1 1386.5 473.0 1387.5 472.9C1388.5 472.8 1389.5 472.7 1390.5 472.7C1391.5 472.6 1392.5 472.6 1393.5 472.6C1394.5 472.6 1395.5 472.7 1396.5 472.8C1397.5 472.9 1398.5 473.0 1399.5 473.2C1400.5 473.4 1401.5 473.6 1402.5 473.8C1403.5 474.1 1404.5 474.4 1405.5 474.8C1406.5 475.2 1407.5 475.6 1408.5 476.0C1409.5 476.4 1410.5 476.8 1411.5 477.2C1412.5 477.6 1413.5 478.0 1414.5 478.4C1415.5 478.7 1416.5 479.1 1417.5 479.3C1418.5 479.6 1419.5 479.8 1420.5 480.0C1421.5 480.2 1422.5 480.4 1423.5 480.6C1424.5 480.7 1425.5 480.9 1426.5 481.0C1427.5 481.2 1428.5 481.3 1429.5 481.5C1430.5 481.7 1431.5 481.8 1432.5 482.0C1433.5 482.3 1434.5 482.5 1435.5 482.7C1436.5 483.0 1437.5 483.2 1438.5 483.5C1439.5 483.7 1440.5 483.9 1441.5 484.2C1442.5 484.4 1443.5 484.6 1444.5 484.7C1445.5 484.9 1446.5 485.0 1447.5 485.0C1448.5 485.1 1449.5 485.1 1450.5 485.0C1451.5 484.9 1452.5 484.7 1453.5 484.5C1454.5 484.2 1455.5 483.9 1456.5 483.6C1457.5 483.2 1458.5 482.8 1459.5 482.5C1460.5 482.1 1461.5 481.9 1462.5 481.6C1463.5 481.4 1464.5 481.2 1465.5 481.1C1466.5 481.0 1467.5 480.9 1468.5 480.8C1469.5 480.8 1470.5 480.8 1471.5 480.7C1472.5 480.7 1473.5 480.7 1474.5 480.7C1475.5 480.7 1476.5 480.7 1477.5 480.7C1478.5 480.7 1479.5 480.7 1480.5 480.6C1481.5 480.6 1482.5 480.6 1483.5 480.6C1484.5 480.6 1485.5 480.6 1486.5 480.6C1487.5 480.6 1488.5 480.5 1489.5 480.5C1490.5 480.6 1491.5 480.6 1492.5 480.7C1493.5 480.9 1494.5 481.1 1495.5 481.4C1496.5 481.7 1497.5 482.1 1498.5 482.7C1499.5 483.2 1500.5 484.0 1501.5 484.8C1502.5 485.7 1503.5 486.6 1504.5 487.6C1505.5 488.6 1506.5 489.6 1507.5 490.6C1508.5 491.6 1509.5 492.6 1510.5 493.5C1511.5 494.4 1512.5 495.2 1513.5 495.9C1514.5 496.6 1515.5 497.1 1516.5 497.4C1517.5 497.7 1518.5 497.8 1519.5 497.7C1520.6 497.6 1521.6 497.4 1522.6 496.8C1523.6 496.3 1524.6 495.6 1525.6 494.6C1526.6 493.5 1527.6 492.1 1528.6 490.4C1529.6 488.6 1530.6 486.5 1531.6 484.8C1532.6 483.1 1533.6 481.8 1534.6 481.0C1535.6 480.2 1536.6 479.9 1537.6 479.9C1538.6 479.9 1539.6 480.3 1540.6 481.1C1541.6 481.8 1542.6 482.9 1543.6 483.9C1544.6 485.0 1545.6 486.1 1546.6 486.8C1547.6 487.6 1548.6 488.1 1549.6 488.0C1550.6 487.9 1551.6 487.2 1552.6 485.6C1553.6 484.1 1554.6 481.7 1555.6 478.3C1556.6 474.9 1557.6 470.7 1558.6 466.5C1559.6 462.3 1560.6 458.1 1561.6 453.6C1562.6 449.2 1563.6 444.4 1564.6 439.9C1565.6 435.4 1566.6 431.4 1567.6 428.7C1568.6 426.0 1569.6 424.3 1570.6 423.5C1571.6 422.7 1572.6 422.8 1573.6 423.5C1574.6 424.3 1575.6 425.7 1576.6 427.3C1577.6 428.9 1578.6 430.8 1579.6 432.5C1580.6 434.3 1581.6 435.9 1582.6 437.0C1583.6 438.1 1584.6 438.6 1585.6 438.5C1586.6 438.4 1587.6 437.8 1588.6 436.9C1589.6 436.0 1590.6 434.8 1591.6 433.6C1592.6 432.3 1593.6 431.0 1594.6 430.0C1595.6 429.1 1596.6 428.6 1597.6 429.0C1598.6 429.4 1599.6 430.9 1600.6 431.7C1601.6 432.4 1602.6 432.4 1603.6 430.6C1604.6 428.8 1605.6 425.5 1606.6 421.6C1607.6 417.8 1608.6 413.2 1609.6 408.6C1610.6 403.9 1611.6 398.8 1612.6 392.8C1613.6 386.9 1614.6 380.2 1615.6 373.5C1616.6 366.9 1617.6 360.2 1618.6 353.4C1619.6 346.6 1620.6 339.7 1621.6 332.5C1622.6 325.4 1623.6 318.2 1624.6 311.7C1625.6 305.2 1626.6 299.5 1627.6 295.1C1628.6 290.8 1629.6 287.7 1630.6 285.2C1631.6 282.8 1632.6 281.2 1633.6 279.7C1634.6 278.2 1635.6 276.9 1636.6 276.3C1637.6 275.7 1638.6 275.9 1639.6 277.2C1640.6 278.6 1641.6 281.2 1642.6 285.7C1643.6 290.2 1644.6 296.9 1645.6 304.5C1646.6 312.1 1647.6 320.5 1648.6 328.1C1649.6 335.6 1650.6 342.4 1651.6 346.7C1652.6 351.1 1653.6 352.5 1654.6 352.7C1655.6 352.9 1656.6 352.1 1657.6 350.2C1658.6 348.3 1659.6 345.4 1660.6 344.1C1661.6 342.7 1662.6 342.4 1663.6 343.1C1664.6 343.9 1665.6 345.6 1666.6 349.1C1667.6 352.6 1668.6 358.7 1669.6 364.8C1670.6 371.0 1671.6 376.9 1672.6 382.4C1673.6 388.0 1674.6 393.1 1675.6 397.6C1676.6 402.1 1677.6 405.9 1678.6 409.8C1679.6 413.7 1680.6 417.7 1681.6 422.4C1682.6 427.1 1683.6 432.8 1684.6 438.1C1685.6 443.4 1686.6 447.9 1687.6 451.7C1688.6 455.5 1689.6 458.9 1690.6 461.6C1691.6 464.3 1692.6 466.3 1693.6 467.6C1694.6 469.0 1695.6 469.7 1696.6 470.1C1697.6 470.5 1698.6 470.5 1699.6 470.2C1700.6 469.9 1701.6 469.3 1702.6 468.2C1703.6 467.0 1704.6 465.3 1705.6 462.9C1706.6 460.6 1707.6 457.4 1708.6 453.8C1709.6 450.3 1710.6 446.6 1711.6 442.8C1712.6 438.9 1713.6 434.7 1714.6 431.2C1715.6 427.8 1716.6 425.3 1717.7 424.7C1718.7 424.2 1719.7 424.8 1720.7 425.4C1721.7 425.9 1722.7 426.8 1723.7 428.6C1724.7 430.5 1725.7 432.9 1726.7 435.0C1727.7 437.0 1728.7 438.8 1729.7 441.0C1730.7 443.3 1731.7 446.1 1732.7 448.9C1733.7 451.8 1734.7 454.7 1735.7 457.1C1736.7 459.4 1737.7 460.9 1738.7 462.2C1739.7 463.5 1740.7 464.6 1741.7 465.5C1742.7 466.5 1743.7 467.2 1744.7 467.7C1745.7 468.2 1746.7 468.4 1747.7 468.4C1748.7 468.3 1749.7 467.9 1750.7 467.1C1751.7 466.3 1752.7 465.1 1753.7 463.4C1754.7 461.8 1755.7 459.7 1756.7 457.1C1757.7 454.4 1758.7 451.1 1759.7 447.6C1760.7 444.1 1761.7 440.8 1762.7 438.7C1763.7 436.6 1764.7 435.2 1765.7 433.7C1766.7 432.3 1767.7 430.9 1768.7 429.7C1769.7 428.5 1770.7 427.4 1771.7 426.6C1772.7 425.7 1773.7 425.1 1774.7 424.7C1775.7 424.3 1776.7 424.1 1777.7 423.8C1778.7 423.4 1779.7 423.2 1780.7 424.2C1781.7 425.2 1782.7 427.6 1783.7 429.7C1784.7 431.8 1785.7 433.6 1786.7 434.8C1787.7 436.1 1788.7 437.0 1789.7 437.6C1790.7 438.1 1791.7 438.4 1792.7 438.4C1793.7 438.5 1794.7 438.3 1795.7 437.9C1796.7 437.6 1797.7 437.2 1798.7 436.7C1799.7 436.2 1800.7 435.7 1801.7 435.2C1802.7 434.8 1803.7 434.4 1804.7 434.1C1805.7 433.8 1806.7 433.7 1807.7 433.5C1808.7 433.3 1809.7 433.2 1810.7 433.0C1811.7 432.8 1812.7 432.6 1813.7 432.2C1814.7 431.9 1815.7 431.5 1816.7 430.9"/>
<path stroke="#000080" d="M205.3 303.2C206.3 303.0 207.3 302.6 208.3 302.3C209.3 302.0 210.3 301.7 211.3 301.4C212.3 301.0 213.3 300.7 214.3 300.3C215.3 300.0 216.3 299.6 217.3 299.2C218.3 298.8 219.3 298.4 220.3 298.0C221.3 297.6 222.3 297.2 223.3 296.8C224.3 296.4 225.3 296.0 226.3 295.5C227.3 295.1 228.3 294.6 229.3 294.2C230.3 293.7 231.3 293.3 232.3 292.8C233.3 292.3 234.3 291.8 235.3 291.3C236.3 290.8 237.3 290.3 238.3 289.8C239.3 289.3 240.3 288.8 241.4 288.3C242.4 287.8 243.4 287.2 244.4 286.7C245.4 286.2 246.4 285.6 247.4 285.1C248.4 284.5 249.4 283.9 250.4 283.4C251.4 282.8 252.4 282.2 253.4 281.7C254.4 281.1 255.4 280.5 256.4 279.9C257.4 279.3 258.4 278.7 259.4 278.1C260.4 277.5 261.4 276.9 262.4 276.3C263.4 275.7 264.4 275.1 265.4 274.4C266.4 273.8 267.4 273.2 268.4 272.5C269.4 271.9 270.4 271.3 271.4 270.6C272.4 270.0 273.4 269.3 274.4 268.7C275.4 268.0 276.4 267.4 277.4 266.7C278.4 266.1 279.4 265.4 280.4 264.7C281.4 264.1 282.4 263.4 283.4 262.7C284.4 262.1 285.4 261.4 286.4 260.7C287.4 260.0 288.4 259.4 289.4 258.7C290.4 258.0 291.4 257.3 292.4 256.6C293.4 255.9 294.4 255.3 295.4 254.6C296.4 253.9 297.4 253.2 298.4 252.5C299.4 251.8 300.4 251.1 301.4 250.4C302.4 249.7 303.4 249.0 304.4 248.3C305.4 247.6 306.4 246.9 307.4 246.2C308.4 245.6 309.4 244.9 310.4 244.2C311.4 243.5 312.4 242.8 313.5 242.1C314.5 241.4 315.5 240.7 316.5 240.0C317.5 239.3 318.5 238.6 319.5 237.9C320.5 237.2 321.5 236.5 322.5 235.8C323.5 235.2 324.5 234.5 325.5 233.8C326.5 233.1 327.5 232.4 328.5 231.7C329.5 231.0 330.5 230.4 331.5 229.7C332.5 229.0 333.5 228.3 334.5 227.7C335.5 227.0 336.5 226.3 337.5 225.7C338.5 225.0 339.5 224.3 340.5 223.7C341.5 223.0 342.5 222.4 343.5 221.7C344.5 221.1 345.5 220.4 346.5 219.8C347.5 219.1 348.5 218.5 349.5 217.9C350.5 217.2 351.5 216.6 352.5 216.0C353.5 215.4 354.5 214.7 355.5 214.1C356.5 213.5 357.5 212.9 358.5 212.3C359.5 211.7 360.5 211.1 361.5 210.5C362.5 209.9 363.5 209.3 364.5 208.7C365.5 208.2 366.5 207.6 367.5 207.0C368.5 206.5 369.5 205.9 370.5 205.4C371.5 204.8 372.5 204.3 373.5 203.7C374.5 203.2 375.5 202.6 376.5 202.1C377.5 201.6 378.5 201.1 379.5 200.6C380.5 200.1 381.5 199.6 382.5 199.1C383.5 198.6 384.5 198.1 385.6 197.6C386.6 197.1 387.6 196.6 388.6 196.2C389.6 195.7 390.6 195.3 391.6 194.8C392.6 194.4 393.6 193.9 394.6 193.5C395.6 193.0 396.6 192.6 397.6 192.2C398.6 191.8 399.6 191.4 400.6 191.0C401.6 190.6 402.6 190.2 403.6 189.8C404.6 189.4 405.6 189.0 406.6 188.6C407.6 188.3 408.6 187.9 409.6 187.5C410.6 187.2 411.6 186.8 412.6 186.5C413.6 186.2 414.6 185.8 415.6 185.5C416.6 185.2 417.6 184.9 418.6 184.6C419.6 184.2 420.6 183.9 421.6 183.7C422.6 183.4 423.6 183.1 424.6 182.8C425.6 182.5 426.6 182.3 427.6 182.0C428.6 181.8 429.6 181.5 430.6 181.3C431.6 181.0 432.6 180.8 433.6 180.6C434.6 180.4 435.6 180.2 436.6 179.9C437.6 179.7 438.6 179.6 439.6 179.4C440.6 179.2 441.6 179.0 442.6 178.8C443.6 178.7 444.6 178.5 445.6 178.4C446.6 178.2 447.6 178.1 448.6 177.9C449.6 177.8 450.6 177.7 451.6 177.6C452.6 177.5 453.6 177.4 454.6 177.3C455.6 177.2 456.6 177.1 457.7 177.0C458.7 176.9 459.7 176.9 460.7 176.8C461.7 176.8 462.7 176.7 463.7 176.7C464.7 176.6 465.7 176.6 466.7 176.6C467.7 176.6 468.7 176.6 469.7 176.6C470.7 176.6 471.7 176.7 472.7 176.7C473.7 176.7 474.7 176.8 475.7 176.9C476.7 176.9 477.7 177.0 478.7 177.1C479.7 177.2 480.7 177.3 481.7 177.4C482.7 177.6 483.7 177.7 484.7 177.9C485.7 178.0 486.7 178.2 487.7 178.4C488.7 178.6 489.7 178.8 490.7 179.0C491.7 179.2 492.7 179.5 493.7 179.8C494.7 180.0 495.7 180.3 496.7 180.6C497.7 180.9 498.7 181.2 499.7 181.5C500.7 181.9 501.7 182.2 502.7 182.6C503.7 183.0 504.7 183.4 505.7 183.8C506.7 184.2 507.7 184.7 508.7 185.1C509.7 185.6 510.7 186.0 511.7 186.5C512.7 187.0 513.7 187.5 514.7 188.1C515.7 188.6 516.7 189.1 517.7 189.7C518.7 190.3 519.7 190.8 520.7 191.4C521.7 192.0 522.7 192.6 523.7 193.3C524.7 193.9 525.7 194.5 526.7 195.2C527.7 195.8 528.8 196.5 529.8 197.2C530.8 197.9 531.8 198.6 532.8 199.3C533.8 200.0 534.8 200.7 535.8 201.4C536.8 202.2 537.8 202.9 538.8 203.6C539.8 204.4 540.8 205.2 541.8 205.9C542.8 206.7 543.8 207.5 544.8 208.3C545.8 209.1 546.8 209.9 547.8 210.7C548.8 211.5 549.8 212.3 550.8 213.1C551.8 214.0 552.8 214.8 553.8 215.6C554.8 216.5 555.8 217.3 556.8 218.2C557.8 219.0 558.8 219.9 559.8 220.8C560.8 221.6 561.8 222.5 562.8 223.4C563.8 224.3 564.8 225.1 565.8 226.0C566.8 226.9 567.8 227.8 568.8 228.7C569.8 229.6 570.8 230.4 571.8 231.3C572.8 232.2 573.8 233.1 574.8 234.0C575.8 234.9 576.8 235.8 577.8 236.7C578.8 237.6 579.8 238.5 580.8 239.4C581.8 240.3 582.8 241.2 583.8 242.1C584.8 243.0 585.8 243.9 586.8 244.8C587.8 245.7 588.8 246.6 589.8 247.4C590.8 248.3 591.8 249.2 592.8 250.1C593.8 251.0 594.8 251.8 595.8 252.7C596.8 253.6 597.8 254.4 598.8 255.3C599.8 256.1 600.9 256.9 601.9 257.8C602.9 258.6 603.9 259.4 604.9 260.2C605.9 261.0 606.9 261.8 607.9 262.6C608.9 263.3 609.9 264.1 610.9 264.9C611.9 265.6 612.9 266.3 613.9 267.1C614.9 267.8 615.9 268.5 616.9 269.1C617.9 269.8 618.9 270.5 619.9 271.1C620.9 271.8 621.9 272.4 622.9 273.0C623.9 273.6 624.9 274.2 625.9 274.8C626.9 275.3 627.9 275.9 628.9 276.4C629.9 277.0 630.9 277.5 631.9 278.0C632.9 278.5 633.9 279.0 634.9 279.5C635.9 280.0 636.9 280.5 637.9 281.0C638.9 281.4 639.9 281.9 640.9 282.3C641.9 282.7 642.9 283.2 643.9 283.6C644.9 284.0 645.9 284.4 646.9 284.8C647.9 285.2 648.9 285.6 649.9 286.0C650.9 286.4 651.9 286.8 652.9 287.2C653.9 287.6 654.9 287.9 655.9 288.3C656.9 288.7 657.9 289.0 658.9 289.4C659.9 289.7 660.9 290.1 661.9 290.5C662.9 290.8 663.9 291.2 664.9 291.5C665.9 291.9 666.9 292.2 667.9 292.5C668.9 292.9 669.9 293.2 670.9 293.5C671.9 293.8 673.0 294.1 674.0 294.3C675.0 294.6 676.0 294.8 677.0 295.0C678.0 295.2 679.0 295.4 680.0 295.5C681.0 295.7 682.0 295.8 683.0 295.8C684.0 295.9 685.0 295.9 686.0 295.8C687.0 295.8 688.0 295.7 689.0 295.5C690.0 295.4 691.0 295.2 692.0 294.9C693.0 294.5 694.0 294.1 695.0 293.6C696.0 293.0 697.0 292.4 698.0 291.6C699.0 290.8 700.0 290.0 701.0 289.1C702.0 288.2 703.0 287.3 704.0 286.4C705.0 285.5 706.0 284.5 707.0 283.6C708.0 282.7 709.0 281.8 710.0 281.0C711.0 280.1 712.0 279.2 713.0 278.4C714.0 277.6 715.0 276.8 716.0 276.1C717.0 275.3 718.0 274.7 719.0 274.0C720.0 273.4 721.0 272.8 722.0 272.4C723.0 271.9 724.0 271.4 725.0 271.1C726.0 270.8 727.0 270.5 728.0 270.4C729.0 270.2 730.0 270.2 731.0 270.2C732.0 270.3 733.0 270.4 734.0 270.7C735.0 271.0 736.0 271.4 737.0 271.9C738.0 272.4 739.0 273.0 740.0 273.7C741.0 274.5 742.0 275.2 743.0 275.9C744.1 276.6 745.1 277.2 746.1 277.7C747.1 278.2 748.1 278.5 749.1 278.8C750.1 279.1 751.1 279.2 752.1 279.3C753.1 279.4 754.1 279.3 755.1 279.2C756.1 279.0 757.1 278.8 758.1 278.5C759.1 278.1 760.1 277.8 761.1 277.4C762.1 277.0 763.1 276.6 764.1 276.2C765.1 275.8 766.1 275.4 767.1 275.1C768.1 274.8 769.1 274.6 770.1 274.4C771.1 274.3 772.1 274.3 773.1 274.4C774.1 274.5 775.1 274.8 776.1 275.3C777.1 275.7 778.1 276.3 779.1 277.0C780.1 277.6 781.1 278.4 782.1 279.1C783.1 279.9 784.1 280.6 785.1 281.4C786.1 282.1 787.1 282.8 788.1 283.4C789.1 284.1 790.1 284.7 791.1 285.3C792.1 285.8 793.1 286.4 794.1 286.9C795.1 287.5 796.1 288.0 797.1 288.5C798.1 289.0 799.1 289.5 800.1 289.9C801.1 290.4 802.1 290.9 803.1 291.3C804.1 291.8 805.1 292.2 806.1 292.6C807.1 293.1 808.1 293.5 809.1 293.9C810.1 294.3 811.1 294.7 812.1 295.1C813.1 295.5 814.1 295.9 815.1 296.3C816.2 296.7 817.2 297.0 818.2 297.4C819.2 297.7 820.2 298.1 821.2 298.4C822.2 298.8 823.2 299.1 824.2 299.4C825.2 299.8 826.2 300.1 827.2 300.4C828.2 300.7 829.2 301.0 830.2 301.3C831.2 301.6 832.2 301.9 833.2 302.1C834.2 302.4 835.2 302.7 836.2 303.0C837.2 303.2 838.2 303.5 839.2 303.7C840.2 304.0 841.2 304.2 842.2 304.4C843.2 304.7 844.2 304.9 845.2 305.1C846.2 305.3 847.2 305.5 848.2 305.7C849.2 306.0 850.2 306.2 851.2 306.3C852.2 306.5 853.2 306.7 854.2 306.9C855.2 307.1 856.2 307.3 857.2 307.4C858.2 307.6 859.2 307.8 860.2 307.9C861.2 308.1 862.2 308.2 863.2 308.4C864.2 308.5 865.2 308.6 866.2 308.8C867.2 308.9 868.2 309.0 869.2 309.2C870.2 309.3 871.2 309.4 872.2 309.5C873.2 309.6 874.2 309.8 875.2 309.9C876.2 310.0 877.2 310.1 878.2 310.2C879.2 310.3 880.2 310.4 881.2 310.4C882.2 310.5 883.2 310.6 884.2 310.7C885.2 310.8 886.2 310.9 887.2 310.9C888.3 311.0 889.3 311.1 890.3 311.2C891.3 311.2 892.3 311.3 893.3 311.3C894.3 311.4 895.3 311.5 896.3 311.5C897.3 311.6 898.3 311.6 899.3 311.7C900.3 311.7 901.3 311.8 902.3 311.8C903.3 311.9 904.3 311.9 905.3 312.0C906.3 312.0 907.3 312.0 908.3 312.1C909.3 312.1 910.3 312.1 911.3 312.2C912.3 312.2 913.3 312.2 914.3 312.3C915.3 312.3 916.3 312.3 917.3 312.4C918.3 312.4 919.3 312.4 920.3 312.4C921.3 312.5 922.3 312.5 923.3 312.5C924.3 312.5 925.3 312.6 926.3 312.6C927.3 312.6 928.3 312.6 929.3 312.7C930.3 312.7 931.3 312.7 932.3 312.7C933.3 312.8 934.3 312.8 935.3 312.8C936.3 312.8 937.3 312.9 938.3 312.9C939.3 312.9 940.3 312.9 941.3 313.0C942.3 313.0 943.3 313.0 944.3 313.0C945.3 313.1 946.3 313.1 947.3 313.1C948.3 313.2 949.3 313.2 950.3 313.2C951.3 313.3 952.3 313.3 953.3 313.3C954.3 313.4 955.3 313.4 956.3 313.4C957.3 313.5 958.3 313.5 959.3 313.6C960.4 313.6 961.4 313.7 962.4 313.7C963.4 313.8 964.4 313.8 965.4 313.9C966.4 313.9 967.4 314.0 968.4 314.0C969.4 314.1 970.4 314.2 971.4 314.2C972.4 314.3 973.4 314.4 974.4 314.4C975.4 314.5 976.4 314.6 977.4 314.7C978.4 314.8 979.4 314.8 980.4 314.9C981.4 315.0 982.4 315.1 983.4 315.2C984.4 315.3 985.4 315.4 986.4 315.5C987.4 315.6 988.4 315.7 989.4 315.8C990.4 315.9 991.4 316.1 992.4 316.2C993.4 316.3 994.4 316.4 995.4 316.6"/>
<path stroke="#000080" d="M1024.1 317.7C1025.1 317.6 1026.1 317.5 1027.1 317.3C1028.1 317.2 1029.1 317.1 1030.1 317.0C1031.1 316.9 1032.1 316.8 1033.1 316.7C1034.1 316.6 1035.1 316.5 1036.1 316.4C1037.1 316.3 1038.1 316.3 1039.1 316.2C1040.1 316.1 1041.1 316.1 1042.1 316.0C1043.1 315.9 1044.1 315.9 1045.1 315.8C1046.1 315.8 1047.1 315.7 1048.1 315.7C1049.1 315.6 1050.1 315.6 1051.1 315.5C1052.1 315.5 1053.1 315.4 1054.1 315.4C1055.1 315.3 1056.1 315.2 1057.1 315.2C1058.1 315.1 1059.1 315.0 1060.1 315.0C1061.1 314.9 1062.1 314.8 1063.1 314.7C1064.1 314.7 1065.1 314.6 1066.1 314.5C1067.1 314.4 1068.1 314.3 1069.1 314.2C1070.1 314.0 1071.1 313.9 1072.1 313.8C1073.1 313.6 1074.1 313.5 1075.1 313.3C1076.1 313.2 1077.1 313.0 1078.1 312.8C1079.1 312.6 1080.1 312.4 1081.1 312.2C1082.1 312.0 1083.1 311.8 1084.1 311.5C1085.1 311.3 1086.1 311.0 1087.1 310.7C1088.1 310.4 1089.1 310.1 1090.1 309.8C1091.2 309.5 1092.2 309.1 1093.2 308.8C1094.2 308.4 1095.2 308.0 1096.2 307.6C1097.2 307.2 1098.2 306.8 1099.2 306.3C1100.2 305.9 1101.2 305.4 1102.2 304.9C1103.2 304.4 1104.2 303.8 1105.2 303.3C1106.2 302.7 1107.2 302.1 1108.2 301.5C1109.2 300.9 1110.2 300.3 1111.2 299.6C1112.2 299.0 1113.2 298.3 1114.2 297.6C1115.2 296.9 1116.2 296.2 1117.2 295.5C1118.2 294.8 1119.2 294.1 1120.2 293.4C1121.2 292.7 1122.2 292.0 1123.2 291.3C1124.2 290.6 1125.2 289.9 1126.2 289.3C1127.2 288.6 1128.2 288.0 1129.2 287.4C1130.2 286.8 1131.2 286.2 1132.2 285.7C1133.2 285.1 1134.2 284.6 1135.2 284.2C1136.2 283.7 1137.2 283.3 1138.2 283.0C1139.2 282.6 1140.2 282.3 1141.2 282.1C1142.2 281.8 1143.2 281.6 1144.2 281.5C1145.2 281.4 1146.2 281.3 1147.2 281.4C1148.2 281.4 1149.2 281.5 1150.2 281.7C1151.2 282.0 1152.2 282.3 1153.2 282.8C1154.2 283.2 1155.2 283.8 1156.2 284.5C1157.2 285.2 1158.2 286.0 1159.2 286.7C1160.2 287.5 1161.2 288.3 1162.2 289.0C1163.2 289.8 1164.2 290.5 1165.2 291.2C1166.2 291.9 1167.2 292.5 1168.2 293.2C1169.2 293.8 1170.2 294.4 1171.2 295.0C1172.2 295.6 1173.2 296.1 1174.2 296.7C1175.2 297.2 1176.2 297.7 1177.2 298.2C1178.2 298.7 1179.2 299.2 1180.2 299.6C1181.2 300.0 1182.2 300.4 1183.2 300.8C1184.2 301.2 1185.2 301.6 1186.2 301.9C1187.2 302.2 1188.2 302.5 1189.2 302.8C1190.2 303.0 1191.2 303.3 1192.2 303.5C1193.2 303.7 1194.2 303.9 1195.2 304.1C1196.2 304.3 1197.2 304.5 1198.2 304.6C1199.2 304.8 1200.2 304.9 1201.2 305.0C1202.2 305.1 1203.2 305.2 1204.2 305.3C1205.2 305.4 1206.2 305.4 1207.2 305.5C1208.2 305.5 1209.2 305.6 1210.2 305.6C1211.2 305.7 1212.2 305.7 1213.2 305.7C1214.2 305.7 1215.2 305.7 1216.2 305.7C1217.2 305.7 1218.2 305.7 1219.2 305.7C1220.2 305.7 1221.2 305.7 1222.2 305.7C1223.3 305.7 1224.3 305.7 1225.3 305.7C1226.3 305.7 1227.3 305.7 1228.3 305.7C1229.3 305.7 1230.3 305.7 1231.3 305.8C1232.3 305.8 1233.3 305.8 1234.3 305.8C1235.3 305.8 1236.3 305.8 1237.3 305.8C1238.3 305.8 1239.3 305.8 1240.3 305.8C1241.3 305.7 1242.3 305.7 1243.3 305.7C1244.3 305.6 1245.3 305.6 1246.3 305.5C1247.3 305.4 1248.3 305.4 1249.3 305.2C1250.3 305.1 1251.3 305.0 1252.3 304.9C1253.3 304.7 1254.3 304.6 1255.3 304.4C1256.3 304.2 1257.3 303.9 1258.3 303.7C1259.3 303.4 1260.3 303.2 1261.3 302.9C1262.3 302.5 1263.3 302.2 1264.3 301.8C1265.3 301.4 1266.3 301.0 1267.3 300.5C1268.3 300.0 1269.3 299.5 1270.3 298.9C1271.3 298.2 1272.3 297.5 1273.3 296.6C1274.3 295.8 1275.3 294.8 1276.3 293.8C1277.3 292.7 1278.3 291.4 1279.3 290.1C1280.3 288.7 1281.3 287.2 1282.3 285.7C1283.3 284.2 1284.3 282.7 1285.3 281.4C1286.3 280.0 1287.3 278.8 1288.3 277.6C1289.3 276.4 1290.3 275.2 1291.3 274.2C1292.3 273.2 1293.3 272.4 1294.3 272.0C1295.3 271.6 1296.3 271.5 1297.3 271.6C1298.3 271.7 1299.3 272.1 1300.3 272.3C1301.3 272.6 1302.3 272.6 1303.3 272.4C1304.3 272.1 1305.3 271.6 1306.3 271.1C1307.3 270.5 1308.3 270.0 1309.3 269.4C1310.3 268.9 1311.3 268.4 1312.3 267.9C1313.3 267.4 1314.3 266.9 1315.3 266.4C1316.3 265.9 1317.3 265.4 1318.3 264.9C1319.3 264.4 1320.3 264.0 1321.3 263.6C1322.3 263.2 1323.3 262.8 1324.3 262.5C1325.3 262.2 1326.3 261.9 1327.3 261.7C1328.3 261.6 1329.3 261.5 1330.3 261.5C1331.3 261.5 1332.3 261.6 1333.3 261.8C1334.3 261.9 1335.3 262.2 1336.3 262.5C1337.3 262.9 1338.3 263.3 1339.3 263.7C1340.3 264.2 1341.3 264.6 1342.3 265.2C1343.3 265.7 1344.3 266.2 1345.3 266.7C1346.3 267.3 1347.3 267.8 1348.3 268.2C1349.3 268.7 1350.3 269.0 1351.3 269.3C1352.3 269.6 1353.3 269.8 1354.3 270.0C1355.4 270.1 1356.4 270.2 1357.4 270.3C1358.4 270.3 1359.4 270.3 1360.4 270.3C1361.4 270.3 1362.4 270.2 1363.4 270.1C1364.4 270.1 1365.4 269.9 1366.4 269.8C1367.4 269.7 1368.4 269.5 1369.4 269.3C1370.4 269.2 1371.4 269.0 1372.4 268.8C1373.4 268.6 1374.4 268.4 1375.4 268.2C1376.4 268.0 1377.4 267.8 1378.4 267.6C1379.4 267.4 1380.4 267.2 1381.4 267.0C1382.4 266.8 1383.4 266.7 1384.4 266.5C1385.4 266.4 1386.4 266.3 1387.4 266.2C1388.4 266.1 1389.4 266.0 1390.4 266.0C1391.4 265.9 1392.4 265.9 1393.4 266.0C1394.4 266.0 1395.4 266.1 1396.4 266.2C1397.4 266.3 1398.4 266.5 1399.4 266.7C1400.4 266.9 1401.4 267.2 1402.4 267.6C1403.4 267.9 1404.4 268.3 1405.4 268.7C1406.4 269.1 1407.4 269.5 1408.4 269.9C1409.4 270.3 1410.4 270.7 1411.4 271.1C1412.4 271.4 1413.4 271.8 1414.4 272.1C1415.4 272.4 1416.4 272.6 1417.4 272.9C1418.4 273.1 1419.4 273.3 1420.4 273.6C1421.4 273.8 1422.4 274.0 1423.4 274.2C1424.4 274.5 1425.4 274.7 1426.4 275.0C1427.4 275.2 1428.4 275.5 1429.4 275.7C1430.4 276.0 1431.4 276.3 1432.4 276.5C1433.4 276.8 1434.4 277.0 1435.4 277.3C1436.4 277.5 1437.4 277.8 1438.4 278.0C1439.4 278.2 1440.4 278.5 1441.4 278.7C1442.4 278.9 1443.4 279.0 1444.4 279.2C1445.4 279.3 1446.4 279.5 1447.4 279.5C1448.4 279.6 1449.4 279.7 1450.4 279.6C1451.4 279.6 1452.4 279.5 1453.4 279.4C1454.4 279.3 1455.4 279.1 1456.4 278.8C1457.4 278.5 1458.4 278.1 1459.4 277.7C1460.4 277.3 1461.4 276.7 1462.4 276.3C1463.4 275.8 1464.4 275.4 1465.4 275.1C1466.4 274.9 1467.4 274.8 1468.4 274.8C1469.4 274.8 1470.4 274.9 1471.4 275.0C1472.4 275.2 1473.4 275.3 1474.4 275.4C1475.4 275.5 1476.4 275.6 1477.4 275.7C1478.4 275.8 1479.4 275.8 1480.4 275.8C1481.4 275.8 1482.4 275.8 1483.4 275.7C1484.4 275.6 1485.4 275.4 1486.5 275.3C1487.5 275.1 1488.5 274.9 1489.5 274.7C1490.5 274.6 1491.5 274.5 1492.5 274.6C1493.5 274.6 1494.5 274.8 1495.5 275.1C1496.5 275.4 1497.5 275.8 1498.5 276.4C1499.5 276.9 1500.5 277.6 1501.5 278.4C1502.5 279.2 1503.5 280.2 1504.5 281.2C1505.5 282.2 1506.5 283.3 1507.5 284.4C1508.5 285.5 1509.5 286.6 1510.5 287.6C1511.5 288.6 1512.5 289.5 1513.5 290.3C1514.5 291.1 1515.5 291.7 1516.5 292.0C1517.5 292.4 1518.5 292.6 1519.5 292.6C1520.5 292.5 1521.5 292.3 1522.5 291.9C1523.5 291.5 1524.5 290.9 1525.5 290.1C1526.5 289.3 1527.5 288.2 1528.5 286.6C1529.5 285.0 1530.5 283.0 1531.5 281.3C1532.5 279.6 1533.5 278.4 1534.5 277.7C1535.5 277.0 1536.5 276.7 1537.5 276.5C1538.5 276.3 1539.5 276.5 1540.5 277.3C1541.5 278.1 1542.5 279.3 1543.5 280.4C1544.5 281.5 1545.5 282.3 1546.5 282.9C1547.5 283.4 1548.5 283.6 1549.5 283.5C1550.5 283.3 1551.5 282.9 1552.5 281.7C1553.5 280.4 1554.5 278.1 1555.5 274.3C1556.5 270.6 1557.5 265.7 1558.5 261.2C1559.5 256.8 1560.5 252.7 1561.5 248.4C1562.5 244.1 1563.5 239.3 1564.5 234.7C1565.5 230.1 1566.5 225.8 1567.5 222.8C1568.5 219.7 1569.5 217.7 1570.5 216.6C1571.5 215.6 1572.5 215.5 1573.5 216.1C1574.5 216.6 1575.5 217.9 1576.5 219.5C1577.5 221.1 1578.5 223.1 1579.5 225.0C1580.5 227.0 1581.5 228.9 1582.5 230.3C1583.5 231.7 1584.5 232.5 1585.5 232.7C1586.5 232.8 1587.5 232.3 1588.5 231.2C1589.5 230.1 1590.5 228.6 1591.5 227.2C1592.5 225.8 1593.5 224.4 1594.5 223.7C1595.5 223.0 1596.5 222.9 1597.5 223.2C1598.5 223.5 1599.5 224.1 1600.5 224.7C1601.5 225.3 1602.5 226.0 1603.5 224.5C1604.5 222.9 1605.5 219.6 1606.5 215.5C1607.5 211.4 1608.5 206.5 1609.5 201.8C1610.5 197.1 1611.5 192.2 1612.5 186.1C1613.5 180.0 1614.5 173.1 1615.5 166.7C1616.5 160.3 1617.5 154.2 1618.6 147.0C1619.6 139.8 1620.6 131.8 1621.6 124.0C1622.6 116.1 1623.6 108.4 1624.6 101.6C1625.6 94.8 1626.6 89.0 1627.6 84.8C1628.6 80.6 1629.6 77.9 1630.6 75.6C1631.6 73.3 1632.6 71.6 1633.6 70.4C1634.6 69.2 1635.6 68.6 1636.6 68.5C1637.6 68.4 1638.6 68.8 1639.6 70.3C1640.6 71.8 1641.6 74.5 1642.6 79.1C1643.6 83.6 1644.6 90.1 1645.6 97.4C1646.6 104.7 1647.6 112.8 1648.6 120.2C1649.6 127.6 1650.6 134.4 1651.6 139.2C1652.6 144.1 1653.6 146.7 1654.6 147.1C1655.6 147.6 1656.6 146.6 1657.6 144.6C1658.6 142.5 1659.6 139.4 1660.6 137.7C1661.6 136.0 1662.6 135.4 1663.6 136.2C1664.6 137.1 1665.6 139.3 1666.6 143.3C1667.6 147.3 1668.6 153.1 1669.6 159.2C1670.6 165.2 1671.6 171.5 1672.6 176.9C1673.6 182.3 1674.6 186.8 1675.6 190.4C1676.6 194.1 1677.6 197.2 1678.6 201.0C1679.6 204.8 1680.6 209.6 1681.6 215.0C1682.6 220.4 1683.6 226.2 1684.6 231.5C1685.6 236.8 1686.6 241.6 1687.6 245.8C1688.6 249.9 1689.6 253.3 1690.6 256.2C1691.6 259.0 1692.6 261.2 1693.6 262.7C1694.6 264.2 1695.6 265.0 1696.6 265.4C1697.6 265.8 1698.6 265.8 1699.6 265.5C1700.6 265.2 1701.6 264.7 1702.6 263.6C1703.6 262.5 1704.6 260.9 1705.6 258.5C1706.6 256.1 1707.6 252.8 1708.6 249.3C1709.6 245.7 1710.6 242.3 1711.6 238.4C1712.6 234.6 1713.6 229.4 1714.6 225.6C1715.6 221.9 1716.6 220.3 1717.6 219.8C1718.6 219.3 1719.6 219.7 1720.6 220.2C1721.6 220.7 1722.6 221.7 1723.6 223.3C1724.6 224.9 1725.6 227.0 1726.6 229.0C1727.6 231.1 1728.6 233.1 1729.6 235.4C1730.6 237.7 1731.6 240.3 1732.6 242.9C1733.6 245.6 1734.6 248.1 1735.6 250.4C1736.6 252.6 1737.6 254.4 1738.6 255.9C1739.6 257.4 1740.6 258.5 1741.6 259.4C1742.6 260.3 1743.6 260.9 1744.6 261.4C1745.6 261.8 1746.6 262.0 1747.6 262.0C1748.6 261.9 1749.6 261.5 1750.7 260.8C1751.7 260.1 1752.7 259.0 1753.7 257.4C1754.7 255.9 1755.7 253.9 1756.7 251.4C1757.7 248.9 1758.7 245.7 1759.7 242.1C1760.7 238.5 1761.7 234.9 1762.7 232.4C1763.7 230.0 1764.7 228.3 1765.7 227.0C1766.7 225.7 1767.7 224.8 1768.7 223.8C1769.7 222.8 1770.7 221.6 1771.7 220.4C1772.7 219.3 1773.7 218.2 1774.7 217.4C1775.7 216.6 1776.7 216.1 1777.7 216.2C1778.7 216.2 1779.7 216.8 1780.7 217.7C1781.7 218.7 1782.7 220.0 1783.7 221.6C1784.7 223.3 1785.7 225.2 1786.7 226.8C1787.7 228.4 1788.7 229.4 1789.7 229.9C1790.7 230.5 1791.7 230.6 1792.7 230.4C1793.7 230.3 1794.7 229.9 1795.7 229.4C1796.7 228.9 1797.7 228.3 1798.7 227.8C1799.7 227.2 1800.7 226.8 1801.7 226.4C1802.7 226.0 1803.7 225.9 1804.7 225.8C1805.7 225.7 1806.7 225.8 1807.7 225.7C1808.7 225.7 1809.7 225.5 1810.7 225.2C1811.7 224.8 1812.7 224.3 1813.7 223.8C1814.7 223.2 1815.7 222.7 1816.7 222.3"/>
</g>
<g fill="#000" shape-rendering="crispEdges">
<rect x="201" y="66" width="6" height="1305"/>
<rect x="201" y="1365" width="796" height="6"/>
<rect x="1024" y="1365" width="795" height="6"/>
</g>
<g stroke="#000" stroke-linecap="round" fill="none">
<line x1="179" y1="69.2" x2="203" y2="69.2" stroke-width="6"/>
<line x1="179" y1="323.8" x2="203" y2="323.8" stroke-width="6"/>
<line x1="179" y1="578.3" x2="203" y2="578.3" stroke-width="6"/>
<line x1="179" y1="832.9" x2="203" y2="832.9" stroke-width="6"/>
<line x1="179" y1="1087.4" x2="203" y2="1087.4" stroke-width="6"/>
<line x1="179" y1="1342.0" x2="203" y2="1342.0" stroke-width="6"/>
<line x1="190.5" y1="196.5" x2="203" y2="196.5" stroke-width="5.5"/>
<line x1="190.5" y1="451.1" x2="203" y2="451.1" stroke-width="5.5"/>
<line x1="190.5" y1="705.6" x2="203" y2="705.6" stroke-width="5.5"/>
<line x1="190.5" y1="960.2" x2="203" y2="960.2" stroke-width="5.5"/>
<line x1="190.5" y1="1214.7" x2="203" y2="1214.7" stroke-width="5.5"/>
<line x1="204.2" y1="1369" x2="204.2" y2="1392.8" stroke-width="6"/>
<line x1="362.6" y1="1369" x2="362.6" y2="1392.8" stroke-width="6"/>
<line x1="521.1" y1="1369" x2="521.1" y2="1392.8" stroke-width="6"/>
<line x1="679.5" y1="1369" x2="679.5" y2="1392.8" stroke-width="6"/>
<line x1="838.0" y1="1369" x2="838.0" y2="1392.8" stroke-width="6"/>
<line x1="1023.8" y1="1369" x2="1023.8" y2="1392.8" stroke-width="6"/>
<line x1="1182.2" y1="1369" x2="1182.2" y2="1392.8" stroke-width="6"/>
<line x1="1340.6" y1="1369" x2="1340.6" y2="1392.8" stroke-width="6"/>
<line x1="1499.0" y1="1369" x2="1499.0" y2="1392.8" stroke-width="6"/>
<line x1="1657.4" y1="1369" x2="1657.4" y2="1392.8" stroke-width="6"/>
<line x1="1815.8" y1="1369" x2="1815.8" y2="1392.8" stroke-width="6"/>
<line x1="283.4" y1="1369" x2="283.4" y2="1380" stroke-width="5.5"/>
<line x1="441.9" y1="1369" x2="441.9" y2="1380" stroke-width="5.5"/>
<line x1="600.3" y1="1369" x2="600.3" y2="1380" stroke-width="5.5"/>
<line x1="758.7" y1="1369" x2="758.7" y2="1380" stroke-width="5.5"/>
<line x1="917.2" y1="1369" x2="917.2" y2="1380" stroke-width="5.5"/>
<line x1="1103.0" y1="1369" x2="1103.0" y2="1380" stroke-width="5.5"/>
<line x1="1261.4" y1="1369" x2="1261.4" y2="1380" stroke-width="5.5"/>
<line x1="1419.8" y1="1369" x2="1419.8" y2="1380" stroke-width="5.5"/>
<line x1="1578.2" y1="1369" x2="1578.2" y2="1380" stroke-width="5.5"/>
<line x1="1736.6" y1="1369" x2="1736.6" y2="1380" stroke-width="5.5"/>
<line x1="983.9" y1="1394" x2="1009.5" y2="1341.6" stroke-width="5.8"/>
<line x1="1011.9" y1="1394" x2="1037.5" y2="1341.6" stroke-width="5.8"/>
</g>
<line x1="1507.2" y1="170.8" x2="1565.5" y2="201.3" stroke="#000" stroke-width="3.2" shape-rendering="crispEdges"/><polygon points="1594.9,217.7 1569.9,193.5 1561.1,209.2" fill="#000" stroke="#000" stroke-width="0.9" stroke-linejoin="miter" shape-rendering="crispEdges"/>
<line x1="1528.5" y1="347.7" x2="1570.2" y2="396.9" stroke="#000" stroke-width="3.2" shape-rendering="crispEdges"/><polygon points="1592.0,422.9 1576.8,391.5 1563.5,402.4" fill="#000" stroke="#000" stroke-width="0.9" stroke-linejoin="miter" shape-rendering="crispEdges"/>
<line x1="1530.4" y1="937.7" x2="1572.8" y2="987.0" stroke="#000" stroke-width="3.2" shape-rendering="crispEdges"/><polygon points="1594.7,1012.9 1579.5,981.5 1566.1,992.4" fill="#000" stroke="#000" stroke-width="0.9" stroke-linejoin="miter" shape-rendering="crispEdges"/>
<g id="labels">
<text id="t3600" transform="translate(144.20 1453.50) scale(0.9849 1)" font-size="55.20" fill="#000">3600</text>
<text id="t3400" transform="translate(302.95 1453.50) scale(0.9849 1)" font-size="55.20" fill="#000">3400</text>
<text id="t3200" transform="translate(460.78 1453.50) scale(0.9849 1)" font-size="55.20" fill="#000">3200</text>
<text id="t3000" transform="translate(619.13 1453.50) scale(0.9849 1)" font-size="55.20" fill="#000">3000</text>
<text id="t2800" transform="translate(777.73 1453.50) scale(0.9849 1)" font-size="55.20" fill="#000">2800</text>
<text id="t1800" transform="translate(964.66 1453.50) scale(0.9849 1)" font-size="55.20" fill="#000">1800</text>
<text id="t1600" transform="translate(1122.44 1453.50) scale(0.9849 1)" font-size="55.20" fill="#000">1600</text>
<text id="t1400" transform="translate(1280.83 1453.50) scale(0.9849 1)" font-size="55.20" fill="#000">1400</text>
<text id="t1200" transform="translate(1439.72 1453.50) scale(0.9849 1)" font-size="55.20" fill="#000">1200</text>
<text id="t1000" transform="translate(1597.95 1453.50) scale(0.9849 1)" font-size="55.20" fill="#000">1000</text>
<text id="t800" transform="translate(1771.00 1453.50) scale(0.9849 1)" font-size="55.20" fill="#000">800</text>
<text id="xtitle" transform="translate(714.00 1571.00) scale(0.9771 1)" font-size="70.00" fill="#000">Wavenumber (cm<tspan font-size="39.55" dy="-33.32">-1</tspan><tspan font-size="70.00" dy="33.32">)</tspan></text>
<text id="ytitle" transform="translate(65.00 1087.00) rotate(-90) scale(0.9707 1)" font-size="70.00" fill="#000">Absorbance (relative)</text>
<text id="l1" transform="translate(791.91 282.80) scale(0.9757 1)" font-size="38.00" fill="#000">MS_50BNC_RCA</text>
<text id="l2" transform="translate(789.06 485.00) scale(0.9757 1)" font-size="38.00" fill="#000">MS_10BNC_RCA</text>
<text id="l3" transform="translate(843.99 697.00) scale(0.9757 1)" font-size="38.00" fill="#000">MS_50BNC</text>
<text id="l4" transform="translate(848.37 907.90) scale(0.9757 1)" font-size="38.00" fill="#000">MS_10BNC</text>
<text id="l5" transform="translate(803.58 1100.10) scale(0.9757 1)" font-size="38.00" fill="#000">MS_0BNC_RCA</text>
<text id="l6" transform="translate(889.95 1323.70) scale(0.9757 1)" font-size="38.00" fill="#000">MS_0</text>
<text id="oh" transform="translate(333.60 320.70) scale(0.9757 1)" font-size="38.00" fill="#000">O-H stretching</text>
<text id="ch2" transform="translate(705.35 354.70) scale(0.9757 1)" font-size="38.00" fill="#000">-CH<tspan font-size="22.04" dy="13.11">2</tspan></text>
<text id="chs" transform="translate(675.72 410.90) scale(0.9757 1)" font-size="38.00" fill="#000">stretching</text>
<text id="ohb" transform="translate(1051.54 403.80) scale(0.9757 1)" font-size="38.00" fill="#000">O-H bending</text>
<text id="cc" transform="translate(1718.12 322.60) scale(0.9757 1)" font-size="38.00" fill="#000">C-C</text>
<text id="vib" transform="translate(1687.46 367.80) scale(0.9757 1)" font-size="38.00" fill="#000">vibration</text>
<text id="p1107" transform="translate(1476.82 58.70) scale(0.9814 1)" font-size="37.50" fill="#0000ff">1107 cm<tspan font-size="21.19" dy="-17.81">-1</tspan></text>
<text id="p1022" transform="translate(1643.38 71.20) scale(0.9814 1)" font-size="37.50" fill="#00dc00">1022 cm<tspan font-size="21.19" dy="-17.81">-1</tspan></text>
<text id="p1152" transform="translate(1367.01 122.70) scale(0.9814 1)" font-size="37.50" fill="#ff0000">1152 cm<tspan font-size="21.19" dy="-17.81">-1</tspan></text>
<text id="a1" transform="translate(1353.58 179.70) scale(0.9814 1)" font-size="37.50" fill="#000">1077 cm<tspan font-size="21.19" dy="-17.81">-1</tspan></text>
<text id="a2" transform="translate(1362.36 354.90) scale(0.9814 1)" font-size="37.50" fill="#000">1077 cm<tspan font-size="21.19" dy="-17.81">-1</tspan></text>
<text id="a3" transform="translate(1364.42 944.90) scale(0.9814 1)" font-size="37.50" fill="#000">1077 cm<tspan font-size="21.19" dy="-17.81">-1</tspan></text>
</g>
</svg></body></html>
